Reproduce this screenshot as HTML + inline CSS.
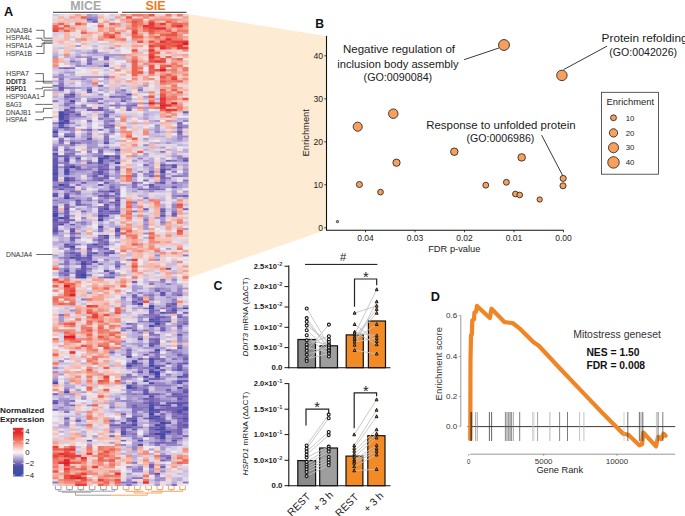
<!DOCTYPE html>
<html><head><meta charset="utf-8"><style>
html,body{margin:0;padding:0;background:#fff;overflow:hidden;}
svg{display:block;font-family:"Liberation Sans", sans-serif;}
</style></head><body>
<svg width="685" height="516" viewBox="0 0 685 516">
<defs><filter id="hb" x="0" y="0" width="1" height="1"><feGaussianBlur stdDeviation="0.45"/></filter></defs>
<rect width="685" height="516" fill="#fff"/>
<polygon points="188,14 325.8,36 325.8,230 188,278" fill="#FEEBD4"/>
<text x="315.3" y="27.6" font-size="12.4" fill="#111" font-weight="bold" textLength="8.8" lengthAdjust="spacingAndGlyphs">B</text>
<line x1="326.5" y1="35.8" x2="326.5" y2="230.2" stroke="#111" stroke-width="1.1"/>
<line x1="326" y1="230.2" x2="563.5" y2="230.2" stroke="#111" stroke-width="1.1"/>
<line x1="324.3" y1="227.8" x2="326.5" y2="227.8" stroke="#111" stroke-width="0.8"/>
<text x="323.1" y="231.0" font-size="8.5" fill="#222" text-anchor="end">0</text>
<line x1="324.3" y1="184.8" x2="326.5" y2="184.8" stroke="#111" stroke-width="0.8"/>
<text x="323.1" y="188.0" font-size="8.5" fill="#222" text-anchor="end" textLength="9.6" lengthAdjust="spacingAndGlyphs">10</text>
<line x1="324.3" y1="141.8" x2="326.5" y2="141.8" stroke="#111" stroke-width="0.8"/>
<text x="323.1" y="145.0" font-size="8.5" fill="#222" text-anchor="end" textLength="9.6" lengthAdjust="spacingAndGlyphs">20</text>
<line x1="324.3" y1="98.80000000000001" x2="326.5" y2="98.80000000000001" stroke="#111" stroke-width="0.8"/>
<text x="323.1" y="102.0" font-size="8.5" fill="#222" text-anchor="end" textLength="9.6" lengthAdjust="spacingAndGlyphs">30</text>
<line x1="324.3" y1="55.80000000000001" x2="326.5" y2="55.80000000000001" stroke="#111" stroke-width="0.8"/>
<text x="323.1" y="59.0" font-size="8.5" fill="#222" text-anchor="end" textLength="9.6" lengthAdjust="spacingAndGlyphs">40</text>
<line x1="365.5" y1="230.2" x2="365.5" y2="232.3" stroke="#111" stroke-width="0.8"/>
<text x="365.5" y="240.6" font-size="8.5" fill="#222" text-anchor="middle">0.04</text>
<line x1="415.0" y1="230.2" x2="415.0" y2="232.3" stroke="#111" stroke-width="0.8"/>
<text x="415.0" y="240.6" font-size="8.5" fill="#222" text-anchor="middle">0.03</text>
<line x1="464.5" y1="230.2" x2="464.5" y2="232.3" stroke="#111" stroke-width="0.8"/>
<text x="464.5" y="240.6" font-size="8.5" fill="#222" text-anchor="middle">0.02</text>
<line x1="514.0" y1="230.2" x2="514.0" y2="232.3" stroke="#111" stroke-width="0.8"/>
<text x="514.0" y="240.6" font-size="8.5" fill="#222" text-anchor="middle">0.01</text>
<line x1="563.5" y1="230.2" x2="563.5" y2="232.3" stroke="#111" stroke-width="0.8"/>
<text x="563.5" y="240.6" font-size="8.5" fill="#222" text-anchor="middle">0.00</text>
<text x="428.2" y="252" font-size="9.3" fill="#222" textLength="52.2" lengthAdjust="spacingAndGlyphs">FDR p-value</text>
<text transform="translate(309.2,156.4) rotate(-90)" font-size="9.4" fill="#222" textLength="47.3" lengthAdjust="spacingAndGlyphs">Enrichment</text>
<line x1="464.1" y1="59.7" x2="498.9" y2="48" stroke="#222" stroke-width="0.9"/>
<line x1="607.1" y1="46.1" x2="563.6" y2="69.6" stroke="#222" stroke-width="0.9"/>
<line x1="541.6" y1="135.1" x2="562.6" y2="175.4" stroke="#222" stroke-width="0.9"/>
<circle cx="357.7" cy="126.7" r="4.55" fill="#F7A05E" stroke="#222" stroke-width="0.85"/>
<circle cx="393.3" cy="113.7" r="4.75" fill="#F7A05E" stroke="#222" stroke-width="0.85"/>
<circle cx="396.5" cy="162.7" r="3.65" fill="#F7A05E" stroke="#222" stroke-width="0.85"/>
<circle cx="359.4" cy="184.5" r="3.05" fill="#F7A05E" stroke="#222" stroke-width="0.85"/>
<circle cx="380.5" cy="192.1" r="2.85" fill="#F7A05E" stroke="#222" stroke-width="0.85"/>
<circle cx="454.3" cy="151.7" r="3.75" fill="#F7A05E" stroke="#222" stroke-width="0.85"/>
<circle cx="521.7" cy="157.4" r="3.75" fill="#F7A05E" stroke="#222" stroke-width="0.85"/>
<circle cx="485.8" cy="185.2" r="2.95" fill="#F7A05E" stroke="#222" stroke-width="0.85"/>
<circle cx="506.4" cy="182.3" r="2.95" fill="#F7A05E" stroke="#222" stroke-width="0.85"/>
<circle cx="515.4" cy="194" r="2.85" fill="#F7A05E" stroke="#222" stroke-width="0.85"/>
<circle cx="519.7" cy="195" r="2.85" fill="#F7A05E" stroke="#222" stroke-width="0.85"/>
<circle cx="539.7" cy="199.5" r="2.65" fill="#F7A05E" stroke="#222" stroke-width="0.85"/>
<circle cx="563.2" cy="178.4" r="3.05" fill="#F7A05E" stroke="#222" stroke-width="0.85"/>
<circle cx="563" cy="185.8" r="3.05" fill="#F7A05E" stroke="#222" stroke-width="0.85"/>
<circle cx="504" cy="45" r="5.45" fill="#F7A05E" stroke="#222" stroke-width="0.85"/>
<circle cx="561.9" cy="75.4" r="5.25" fill="#F7A05E" stroke="#222" stroke-width="0.85"/>
<circle cx="337.5" cy="221.6" r="1.15" fill="#F7A05E" stroke="#222" stroke-width="0.85"/>
<text x="343" y="53.3" font-size="11.4" fill="#1a1a1a" textLength="112" lengthAdjust="spacingAndGlyphs">Negative regulation of</text>
<text x="337.3" y="67.5" font-size="11.4" fill="#1a1a1a" textLength="121.4" lengthAdjust="spacingAndGlyphs">inclusion body assembly</text>
<text x="363.6" y="81.4" font-size="11.4" fill="#1a1a1a" textLength="68.6" lengthAdjust="spacingAndGlyphs">(GO:0090084)</text>
<text x="601.6" y="41.8" font-size="11.4" fill="#1a1a1a" textLength="86" lengthAdjust="spacingAndGlyphs">Protein refolding</text>
<text x="609.3" y="55.6" font-size="11.4" fill="#1a1a1a" textLength="67.8" lengthAdjust="spacingAndGlyphs">(GO:0042026)</text>
<text x="426.2" y="129.3" font-size="11.4" fill="#1a1a1a" textLength="149.4" lengthAdjust="spacingAndGlyphs">Response to unfolded protein</text>
<text x="466.4" y="142.4" font-size="11.4" fill="#1a1a1a" textLength="68" lengthAdjust="spacingAndGlyphs">(GO:0006986)</text>
<rect x="601.5" y="92.3" width="57" height="81.9" fill="#fff" stroke="#333" stroke-width="0.8"/>
<text x="606.6" y="105" font-size="9.4" fill="#222" textLength="47.4" lengthAdjust="spacingAndGlyphs">Enrichment</text>
<circle cx="613.5" cy="117.8" r="2.95" fill="#F7A05E" stroke="#222" stroke-width="0.85"/>
<text x="625.7" y="120.5" font-size="7.8" fill="#222">10</text>
<circle cx="613.5" cy="132.9" r="4.15" fill="#F7A05E" stroke="#222" stroke-width="0.85"/>
<text x="625.7" y="135.6" font-size="7.8" fill="#222">20</text>
<circle cx="613.5" cy="147.7" r="5.05" fill="#F7A05E" stroke="#222" stroke-width="0.85"/>
<text x="625.7" y="150.4" font-size="7.8" fill="#222">30</text>
<circle cx="613.5" cy="162.4" r="5.75" fill="#F7A05E" stroke="#222" stroke-width="0.85"/>
<text x="625.7" y="165.1" font-size="7.8" fill="#222">40</text>
<g filter="url(#hb)"><rect x="52.6" y="14.0" width="135.60000000000002" height="471.70000000000005" fill="#d8c8d8"/>
<path fill="#3c44a5" d="M58.25 122.01h5.90v2.45h-5.90zM148.65 412.96h5.90v2.45h-5.90zM159.95 426.19h5.90v2.45h-5.90z"/>
<path fill="#3c44a5" d="M69.55 245.44h5.90v2.45h-5.90z"/>
<path fill="#3c44a5" d="M52.60 212.38h5.90v2.45h-5.90zM80.85 274.10h5.90v2.45h-5.90zM97.80 157.27h5.90v2.45h-5.90zM97.80 214.58h5.90v2.45h-5.90zM97.80 218.99h5.90v2.45h-5.90zM103.45 155.07h5.90v2.45h-5.90zM131.70 360.06h5.90v2.45h-5.90zM148.65 364.47h5.90v2.45h-5.90zM148.65 371.08h5.90v2.45h-5.90zM148.65 417.37h5.90v2.45h-5.90zM154.30 322.59h5.90v2.45h-5.90zM154.30 349.04h5.90v2.45h-5.90zM154.30 366.67h5.90v2.45h-5.90z"/>
<path fill="#3c44a5" d="M52.60 214.58h5.90v2.45h-5.90zM58.25 183.72h5.90v2.45h-5.90zM63.90 179.32h5.90v2.45h-5.90zM63.90 196.95h5.90v2.45h-5.90zM69.55 99.96h5.90v2.45h-5.90zM69.55 166.09h5.90v2.45h-5.90zM80.85 263.08h5.90v2.45h-5.90zM80.85 276.30h5.90v2.45h-5.90zM109.10 190.34h5.90v2.45h-5.90zM126.05 355.65h5.90v2.45h-5.90zM126.05 364.47h5.90v2.45h-5.90zM126.05 386.51h5.90v2.45h-5.90zM131.70 419.57h5.90v2.45h-5.90zM137.35 302.75h5.90v2.45h-5.90zM148.65 304.96h5.90v2.45h-5.90zM148.65 404.14h5.90v2.45h-5.90zM154.30 371.08h5.90v4.66h-5.90zM154.30 415.17h5.90v2.45h-5.90zM154.30 423.98h5.90v2.45h-5.90zM154.30 428.39h5.90v2.45h-5.90zM154.30 432.80h5.90v2.45h-5.90zM159.95 170.50h5.90v2.45h-5.90zM159.95 421.78h5.90v2.45h-5.90zM165.60 430.59h5.90v2.45h-5.90zM182.55 307.16h5.90v2.45h-5.90z"/>
<path fill="#4a4ba8" d="M52.60 130.82h5.90v2.45h-5.90zM52.60 168.29h5.90v2.45h-5.90zM52.60 172.70h5.90v2.45h-5.90zM52.60 382.10h5.90v2.45h-5.90zM58.25 110.99h5.90v9.07h-5.90zM58.25 126.41h5.90v2.45h-5.90zM58.25 216.79h5.90v2.45h-5.90zM58.25 223.40h5.90v2.45h-5.90zM63.90 113.19h5.90v2.45h-5.90zM63.90 119.80h5.90v2.45h-5.90zM63.90 135.23h5.90v2.45h-5.90zM63.90 168.29h5.90v4.66h-5.90zM63.90 177.11h5.90v2.45h-5.90zM63.90 390.92h5.90v2.45h-5.90zM69.55 93.35h5.90v2.45h-5.90zM69.55 256.46h5.90v2.45h-5.90zM75.20 276.30h5.90v2.45h-5.90zM92.15 243.24h5.90v2.45h-5.90zM97.80 159.48h5.90v2.45h-5.90zM97.80 225.60h5.90v2.45h-5.90zM103.45 207.97h5.90v2.45h-5.90zM103.45 234.42h5.90v2.45h-5.90zM114.75 148.46h5.90v2.45h-5.90zM114.75 161.68h5.90v2.45h-5.90zM114.75 199.15h5.90v2.45h-5.90zM126.05 93.35h5.90v2.45h-5.90zM126.05 384.31h5.90v2.45h-5.90zM131.70 362.26h5.90v2.45h-5.90zM131.70 423.98h5.90v2.45h-5.90zM137.35 439.41h5.90v2.45h-5.90zM143.00 375.49h5.90v2.45h-5.90zM143.00 379.90h5.90v2.45h-5.90zM148.65 307.16h5.90v2.45h-5.90zM148.65 318.18h5.90v2.45h-5.90zM148.65 324.79h5.90v2.45h-5.90zM148.65 357.86h5.90v2.45h-5.90zM148.65 382.10h5.90v2.45h-5.90zM148.65 395.33h5.90v2.45h-5.90zM148.65 406.35h5.90v4.66h-5.90zM154.30 375.49h5.90v2.45h-5.90zM159.95 168.29h5.90v2.45h-5.90zM159.95 404.14h5.90v2.45h-5.90zM159.95 428.39h5.90v2.45h-5.90zM159.95 432.80h5.90v6.86h-5.90zM171.25 309.36h5.90v2.45h-5.90zM176.90 375.49h5.90v2.45h-5.90zM176.90 386.51h5.90v2.45h-5.90zM176.90 410.76h5.90v2.45h-5.90zM182.55 406.35h5.90v4.66h-5.90zM182.55 417.37h5.90v2.45h-5.90z"/>
<path fill="#5852ac" d="M52.60 135.23h5.90v2.45h-5.90zM52.60 152.86h5.90v2.45h-5.90zM52.60 166.09h5.90v2.45h-5.90zM52.60 170.50h5.90v2.45h-5.90zM52.60 177.11h5.90v4.66h-5.90zM52.60 194.74h5.90v2.45h-5.90zM52.60 205.77h5.90v2.45h-5.90zM52.60 210.17h5.90v2.45h-5.90zM52.60 218.99h5.90v2.45h-5.90zM52.60 230.01h5.90v2.45h-5.90zM52.60 401.94h5.90v2.45h-5.90zM58.25 124.21h5.90v2.45h-5.90zM58.25 188.13h5.90v2.45h-5.90zM63.90 122.01h5.90v2.45h-5.90zM63.90 157.27h5.90v4.66h-5.90zM63.90 172.70h5.90v2.45h-5.90zM63.90 194.74h5.90v2.45h-5.90zM63.90 207.97h5.90v2.45h-5.90zM63.90 216.79h5.90v2.45h-5.90zM63.90 243.24h5.90v2.45h-5.90zM63.90 269.69h5.90v2.45h-5.90zM63.90 417.37h5.90v2.45h-5.90zM69.55 230.01h5.90v2.45h-5.90zM75.20 113.19h5.90v2.45h-5.90zM75.20 157.27h5.90v2.45h-5.90zM75.20 199.15h5.90v2.45h-5.90zM75.20 254.26h5.90v2.45h-5.90zM75.20 274.10h5.90v2.45h-5.90zM80.85 260.87h5.90v2.45h-5.90zM80.85 271.89h5.90v2.45h-5.90zM86.50 18.41h5.90v2.45h-5.90zM86.50 88.94h5.90v2.45h-5.90zM86.50 137.44h5.90v2.45h-5.90zM86.50 254.26h5.90v2.45h-5.90zM92.15 252.05h5.90v2.45h-5.90zM92.15 260.87h5.90v2.45h-5.90zM97.80 161.68h5.90v2.45h-5.90zM97.80 170.50h5.90v2.45h-5.90zM97.80 210.17h5.90v2.45h-5.90zM103.45 64.70h5.90v2.45h-5.90zM103.45 141.84h5.90v2.45h-5.90zM103.45 157.27h5.90v2.45h-5.90zM103.45 214.58h5.90v2.45h-5.90zM103.45 236.62h5.90v2.45h-5.90zM103.45 252.05h5.90v2.45h-5.90zM103.45 269.69h5.90v2.45h-5.90zM109.10 210.17h5.90v2.45h-5.90zM109.10 271.89h5.90v2.45h-5.90zM114.75 210.17h5.90v2.45h-5.90zM114.75 227.81h5.90v4.66h-5.90zM120.40 430.59h5.90v4.66h-5.90zM131.70 481.29h5.90v2.45h-5.90zM137.35 338.02h5.90v2.45h-5.90zM137.35 443.82h5.90v2.45h-5.90zM143.00 393.12h5.90v2.45h-5.90zM148.65 320.38h5.90v2.45h-5.90zM148.65 344.63h5.90v2.45h-5.90zM148.65 360.06h5.90v4.66h-5.90zM148.65 401.94h5.90v2.45h-5.90zM148.65 410.76h5.90v2.45h-5.90zM148.65 415.17h5.90v2.45h-5.90zM154.30 320.38h5.90v2.45h-5.90zM154.30 408.55h5.90v2.45h-5.90zM154.30 417.37h5.90v2.45h-5.90zM154.30 472.47h5.90v2.45h-5.90zM159.95 181.52h5.90v2.45h-5.90zM159.95 210.17h5.90v2.45h-5.90zM159.95 214.58h5.90v2.45h-5.90zM159.95 291.73h5.90v2.45h-5.90zM159.95 311.57h5.90v2.45h-5.90zM159.95 430.59h5.90v2.45h-5.90zM165.60 320.38h5.90v2.45h-5.90zM165.60 362.26h5.90v2.45h-5.90zM165.60 404.14h5.90v2.45h-5.90zM165.60 421.78h5.90v2.45h-5.90zM171.25 163.89h5.90v2.45h-5.90zM171.25 212.38h5.90v2.45h-5.90zM171.25 401.94h5.90v2.45h-5.90zM171.25 439.41h5.90v2.45h-5.90zM176.90 368.88h5.90v2.45h-5.90zM176.90 379.90h5.90v4.66h-5.90zM176.90 397.53h5.90v2.45h-5.90zM176.90 401.94h5.90v4.66h-5.90zM176.90 408.55h5.90v2.45h-5.90zM182.55 362.26h5.90v2.45h-5.90zM182.55 390.92h5.90v2.45h-5.90zM182.55 401.94h5.90v2.45h-5.90zM182.55 423.98h5.90v2.45h-5.90z"/>
<path fill="#6659af" d="M52.60 157.27h5.90v9.07h-5.90zM52.60 174.91h5.90v2.45h-5.90zM52.60 192.54h5.90v2.45h-5.90zM52.60 221.20h5.90v2.45h-5.90zM52.60 227.81h5.90v2.45h-5.90zM58.25 86.74h5.90v2.45h-5.90zM63.90 95.56h5.90v2.45h-5.90zM63.90 108.78h5.90v2.45h-5.90zM63.90 126.41h5.90v2.45h-5.90zM63.90 155.07h5.90v2.45h-5.90zM63.90 166.09h5.90v2.45h-5.90zM63.90 214.58h5.90v2.45h-5.90zM63.90 221.20h5.90v2.45h-5.90zM63.90 245.44h5.90v2.45h-5.90zM69.55 106.58h5.90v2.45h-5.90zM69.55 110.99h5.90v2.45h-5.90zM69.55 135.23h5.90v2.45h-5.90zM69.55 141.84h5.90v2.45h-5.90zM69.55 179.32h5.90v2.45h-5.90zM69.55 185.93h5.90v2.45h-5.90zM69.55 223.40h5.90v2.45h-5.90zM69.55 236.62h5.90v2.45h-5.90zM69.55 252.05h5.90v2.45h-5.90zM75.20 203.56h5.90v2.45h-5.90zM75.20 256.46h5.90v4.66h-5.90zM75.20 269.69h5.90v4.66h-5.90zM75.20 419.57h5.90v2.45h-5.90zM80.85 265.28h5.90v6.86h-5.90zM86.50 247.65h5.90v2.45h-5.90zM86.50 256.46h5.90v2.45h-5.90zM86.50 439.41h5.90v2.45h-5.90zM92.15 20.61h5.90v2.45h-5.90zM92.15 174.91h5.90v2.45h-5.90zM97.80 108.78h5.90v2.45h-5.90zM97.80 168.29h5.90v2.45h-5.90zM97.80 172.70h5.90v2.45h-5.90zM97.80 179.32h5.90v2.45h-5.90zM97.80 183.72h5.90v2.45h-5.90zM103.45 168.29h5.90v2.45h-5.90zM103.45 174.91h5.90v2.45h-5.90zM103.45 181.52h5.90v2.45h-5.90zM103.45 194.74h5.90v2.45h-5.90zM103.45 203.56h5.90v2.45h-5.90zM103.45 243.24h5.90v2.45h-5.90zM103.45 247.65h5.90v2.45h-5.90zM109.10 124.21h5.90v2.45h-5.90zM109.10 252.05h5.90v2.45h-5.90zM109.10 276.30h5.90v2.45h-5.90zM114.75 155.07h5.90v4.66h-5.90zM114.75 168.29h5.90v2.45h-5.90zM114.75 203.56h5.90v2.45h-5.90zM114.75 265.28h5.90v2.45h-5.90zM120.40 421.78h5.90v2.45h-5.90zM120.40 426.19h5.90v2.45h-5.90zM126.05 417.37h5.90v2.45h-5.90zM126.05 426.19h5.90v2.45h-5.90zM131.70 300.55h5.90v2.45h-5.90zM131.70 329.20h5.90v2.45h-5.90zM131.70 386.51h5.90v2.45h-5.90zM131.70 404.14h5.90v2.45h-5.90zM131.70 417.37h5.90v2.45h-5.90zM131.70 428.39h5.90v2.45h-5.90zM137.35 298.34h5.90v2.45h-5.90zM137.35 371.08h5.90v2.45h-5.90zM143.00 207.97h5.90v2.45h-5.90zM143.00 388.71h5.90v4.66h-5.90zM143.00 397.53h5.90v2.45h-5.90zM143.00 435.00h5.90v2.45h-5.90zM148.65 183.72h5.90v2.45h-5.90zM148.65 342.43h5.90v2.45h-5.90zM148.65 368.88h5.90v2.45h-5.90zM148.65 426.19h5.90v2.45h-5.90zM154.30 315.98h5.90v4.66h-5.90zM154.30 410.76h5.90v2.45h-5.90zM154.30 419.57h5.90v2.45h-5.90zM159.95 163.89h5.90v2.45h-5.90zM159.95 293.93h5.90v2.45h-5.90zM159.95 315.98h5.90v2.45h-5.90zM159.95 329.20h5.90v2.45h-5.90zM159.95 408.55h5.90v2.45h-5.90zM159.95 423.98h5.90v2.45h-5.90zM165.60 267.48h5.90v2.45h-5.90zM165.60 304.96h5.90v2.45h-5.90zM165.60 401.94h5.90v2.45h-5.90zM171.25 166.09h5.90v2.45h-5.90zM171.25 185.93h5.90v2.45h-5.90zM171.25 302.75h5.90v2.45h-5.90zM171.25 307.16h5.90v2.45h-5.90zM171.25 393.12h5.90v2.45h-5.90zM176.90 126.41h5.90v2.45h-5.90zM176.90 333.61h5.90v2.45h-5.90zM176.90 353.45h5.90v2.45h-5.90zM176.90 364.47h5.90v4.66h-5.90zM176.90 395.33h5.90v2.45h-5.90zM176.90 406.35h5.90v2.45h-5.90zM176.90 417.37h5.90v2.45h-5.90zM176.90 428.39h5.90v2.45h-5.90zM182.55 110.99h5.90v2.45h-5.90zM182.55 159.48h5.90v2.45h-5.90zM182.55 373.29h5.90v4.66h-5.90zM182.55 379.90h5.90v2.45h-5.90zM182.55 395.33h5.90v2.45h-5.90zM182.55 412.96h5.90v2.45h-5.90zM182.55 419.57h5.90v2.45h-5.90zM182.55 426.19h5.90v2.45h-5.90z"/>
<path fill="#7460b2" d="M52.60 148.46h5.90v2.45h-5.90zM52.60 155.07h5.90v2.45h-5.90zM52.60 185.93h5.90v2.45h-5.90zM52.60 207.97h5.90v2.45h-5.90zM52.60 216.79h5.90v2.45h-5.90zM52.60 223.40h5.90v4.66h-5.90zM52.60 232.22h5.90v2.45h-5.90zM52.60 393.12h5.90v2.45h-5.90zM52.60 399.74h5.90v2.45h-5.90zM52.60 408.55h5.90v2.45h-5.90zM58.25 88.94h5.90v2.45h-5.90zM58.25 119.80h5.90v2.45h-5.90zM58.25 139.64h5.90v2.45h-5.90zM58.25 155.07h5.90v2.45h-5.90zM58.25 221.20h5.90v2.45h-5.90zM63.90 66.90h5.90v2.45h-5.90zM63.90 110.99h5.90v2.45h-5.90zM63.90 115.39h5.90v4.66h-5.90zM63.90 148.46h5.90v2.45h-5.90zM63.90 183.72h5.90v4.66h-5.90zM63.90 192.54h5.90v2.45h-5.90zM63.90 203.56h5.90v4.66h-5.90zM63.90 210.17h5.90v4.66h-5.90zM63.90 218.99h5.90v2.45h-5.90zM63.90 274.10h5.90v2.45h-5.90zM69.55 95.56h5.90v2.45h-5.90zM69.55 163.89h5.90v2.45h-5.90zM69.55 177.11h5.90v2.45h-5.90zM69.55 190.34h5.90v2.45h-5.90zM69.55 218.99h5.90v2.45h-5.90zM69.55 227.81h5.90v2.45h-5.90zM69.55 232.22h5.90v2.45h-5.90zM69.55 238.83h5.90v2.45h-5.90zM69.55 247.65h5.90v2.45h-5.90zM69.55 404.14h5.90v2.45h-5.90zM75.20 166.09h5.90v4.66h-5.90zM75.20 201.36h5.90v2.45h-5.90zM75.20 252.05h5.90v2.45h-5.90zM80.85 181.52h5.90v2.45h-5.90zM80.85 210.17h5.90v2.45h-5.90zM80.85 256.46h5.90v2.45h-5.90zM86.50 62.49h5.90v2.45h-5.90zM86.50 91.15h5.90v2.45h-5.90zM86.50 108.78h5.90v2.45h-5.90zM86.50 128.62h5.90v2.45h-5.90zM86.50 161.68h5.90v2.45h-5.90zM86.50 252.05h5.90v2.45h-5.90zM86.50 258.67h5.90v2.45h-5.90zM86.50 263.08h5.90v2.45h-5.90zM92.15 108.78h5.90v2.45h-5.90zM97.80 84.53h5.90v2.45h-5.90zM97.80 102.17h5.90v2.45h-5.90zM97.80 106.58h5.90v2.45h-5.90zM97.80 150.66h5.90v2.45h-5.90zM97.80 166.09h5.90v2.45h-5.90zM97.80 177.11h5.90v2.45h-5.90zM97.80 190.34h5.90v2.45h-5.90zM97.80 194.74h5.90v2.45h-5.90zM97.80 201.36h5.90v2.45h-5.90zM97.80 207.97h5.90v2.45h-5.90zM97.80 212.38h5.90v2.45h-5.90zM97.80 216.79h5.90v2.45h-5.90zM97.80 234.42h5.90v2.45h-5.90zM97.80 238.83h5.90v2.45h-5.90zM97.80 245.44h5.90v2.45h-5.90zM103.45 55.88h5.90v4.66h-5.90zM103.45 113.19h5.90v4.66h-5.90zM103.45 126.41h5.90v2.45h-5.90zM103.45 163.89h5.90v2.45h-5.90zM103.45 177.11h5.90v2.45h-5.90zM103.45 190.34h5.90v2.45h-5.90zM103.45 205.77h5.90v2.45h-5.90zM103.45 241.03h5.90v2.45h-5.90zM103.45 276.30h5.90v2.45h-5.90zM109.10 95.56h5.90v2.45h-5.90zM109.10 155.07h5.90v2.45h-5.90zM109.10 159.48h5.90v2.45h-5.90zM109.10 185.93h5.90v2.45h-5.90zM109.10 201.36h5.90v2.45h-5.90zM109.10 212.38h5.90v2.45h-5.90zM109.10 351.24h5.90v2.45h-5.90zM109.10 419.57h5.90v2.45h-5.90zM109.10 423.98h5.90v2.45h-5.90zM109.10 435.00h5.90v2.45h-5.90zM114.75 166.09h5.90v2.45h-5.90zM114.75 192.54h5.90v2.45h-5.90zM114.75 196.95h5.90v2.45h-5.90zM114.75 201.36h5.90v2.45h-5.90zM114.75 212.38h5.90v2.45h-5.90zM114.75 234.42h5.90v2.45h-5.90zM114.75 423.98h5.90v2.45h-5.90zM120.40 99.96h5.90v2.45h-5.90zM120.40 412.96h5.90v2.45h-5.90zM120.40 428.39h5.90v2.45h-5.90zM120.40 439.41h5.90v2.45h-5.90zM126.05 108.78h5.90v2.45h-5.90zM126.05 322.59h5.90v2.45h-5.90zM126.05 327.00h5.90v2.45h-5.90zM126.05 349.04h5.90v2.45h-5.90zM126.05 362.26h5.90v2.45h-5.90zM126.05 419.57h5.90v2.45h-5.90zM126.05 423.98h5.90v2.45h-5.90zM131.70 104.37h5.90v2.45h-5.90zM131.70 181.52h5.90v2.45h-5.90zM131.70 280.71h5.90v2.45h-5.90zM131.70 293.93h5.90v4.66h-5.90zM131.70 382.10h5.90v2.45h-5.90zM131.70 406.35h5.90v2.45h-5.90zM131.70 415.17h5.90v2.45h-5.90zM131.70 421.78h5.90v2.45h-5.90zM137.35 188.13h5.90v2.45h-5.90zM137.35 357.86h5.90v2.45h-5.90zM137.35 362.26h5.90v2.45h-5.90zM143.00 163.89h5.90v2.45h-5.90zM143.00 179.32h5.90v2.45h-5.90zM143.00 353.45h5.90v2.45h-5.90zM143.00 384.31h5.90v2.45h-5.90zM143.00 401.94h5.90v2.45h-5.90zM143.00 417.37h5.90v2.45h-5.90zM148.65 170.50h5.90v2.45h-5.90zM148.65 174.91h5.90v2.45h-5.90zM148.65 185.93h5.90v2.45h-5.90zM148.65 309.36h5.90v4.66h-5.90zM148.65 338.02h5.90v2.45h-5.90zM148.65 351.24h5.90v2.45h-5.90zM148.65 377.69h5.90v2.45h-5.90zM148.65 393.12h5.90v2.45h-5.90zM148.65 397.53h5.90v4.66h-5.90zM148.65 428.39h5.90v2.45h-5.90zM148.65 432.80h5.90v2.45h-5.90zM148.65 463.66h5.90v4.66h-5.90zM154.30 188.13h5.90v2.45h-5.90zM154.30 289.53h5.90v2.45h-5.90zM154.30 338.02h5.90v6.86h-5.90zM154.30 351.24h5.90v2.45h-5.90zM154.30 357.86h5.90v2.45h-5.90zM154.30 364.47h5.90v2.45h-5.90zM154.30 377.69h5.90v2.45h-5.90zM154.30 393.12h5.90v2.45h-5.90zM154.30 401.94h5.90v4.66h-5.90zM154.30 426.19h5.90v2.45h-5.90zM154.30 441.62h5.90v2.45h-5.90zM159.95 174.91h5.90v4.66h-5.90zM159.95 207.97h5.90v2.45h-5.90zM159.95 320.38h5.90v2.45h-5.90zM159.95 327.00h5.90v2.45h-5.90zM159.95 364.47h5.90v2.45h-5.90zM159.95 368.88h5.90v2.45h-5.90zM159.95 412.96h5.90v2.45h-5.90zM159.95 417.37h5.90v4.66h-5.90zM159.95 441.62h5.90v2.45h-5.90zM159.95 459.25h5.90v2.45h-5.90zM159.95 465.86h5.90v2.45h-5.90zM165.60 159.48h5.90v2.45h-5.90zM165.60 168.29h5.90v2.45h-5.90zM165.60 311.57h5.90v2.45h-5.90zM165.60 349.04h5.90v2.45h-5.90zM165.60 388.71h5.90v2.45h-5.90zM165.60 406.35h5.90v4.66h-5.90zM165.60 457.05h5.90v2.45h-5.90zM171.25 181.52h5.90v2.45h-5.90zM171.25 214.58h5.90v2.45h-5.90zM171.25 311.57h5.90v2.45h-5.90zM171.25 395.33h5.90v2.45h-5.90zM171.25 406.35h5.90v6.86h-5.90zM171.25 415.17h5.90v2.45h-5.90zM176.90 122.01h5.90v2.45h-5.90zM176.90 130.82h5.90v2.45h-5.90zM176.90 293.93h5.90v2.45h-5.90zM176.90 315.98h5.90v2.45h-5.90zM176.90 324.79h5.90v2.45h-5.90zM176.90 346.84h5.90v2.45h-5.90zM176.90 362.26h5.90v2.45h-5.90zM176.90 393.12h5.90v2.45h-5.90zM176.90 412.96h5.90v2.45h-5.90zM176.90 421.78h5.90v6.86h-5.90zM176.90 430.59h5.90v4.66h-5.90zM176.90 437.21h5.90v2.45h-5.90zM182.55 157.27h5.90v2.45h-5.90zM182.55 194.74h5.90v2.45h-5.90zM182.55 207.97h5.90v2.45h-5.90zM182.55 311.57h5.90v2.45h-5.90zM182.55 322.59h5.90v2.45h-5.90zM182.55 357.86h5.90v2.45h-5.90zM182.55 388.71h5.90v2.45h-5.90zM182.55 415.17h5.90v2.45h-5.90zM182.55 435.00h5.90v2.45h-5.90z"/>
<path fill="#8673bc" d="M52.60 84.53h5.90v2.45h-5.90zM52.60 99.96h5.90v2.45h-5.90zM52.60 122.01h5.90v2.45h-5.90zM52.60 128.62h5.90v2.45h-5.90zM52.60 133.03h5.90v2.45h-5.90zM52.60 146.25h5.90v2.45h-5.90zM52.60 199.15h5.90v2.45h-5.90zM52.60 379.90h5.90v2.45h-5.90zM52.60 481.29h5.90v2.45h-5.90zM58.25 66.90h5.90v2.45h-5.90zM58.25 77.92h5.90v2.45h-5.90zM58.25 82.33h5.90v4.66h-5.90zM58.25 137.44h5.90v2.45h-5.90zM58.25 141.84h5.90v2.45h-5.90zM58.25 185.93h5.90v2.45h-5.90zM58.25 271.89h5.90v2.45h-5.90zM58.25 313.77h5.90v2.45h-5.90zM63.90 93.35h5.90v2.45h-5.90zM63.90 102.17h5.90v4.66h-5.90zM63.90 128.62h5.90v2.45h-5.90zM63.90 133.03h5.90v2.45h-5.90zM63.90 152.86h5.90v2.45h-5.90zM63.90 161.68h5.90v4.66h-5.90zM63.90 181.52h5.90v2.45h-5.90zM63.90 252.05h5.90v2.45h-5.90zM63.90 256.46h5.90v2.45h-5.90zM63.90 260.87h5.90v4.66h-5.90zM63.90 267.48h5.90v2.45h-5.90zM63.90 271.89h5.90v2.45h-5.90zM63.90 388.71h5.90v2.45h-5.90zM63.90 410.76h5.90v2.45h-5.90zM69.55 60.29h5.90v2.45h-5.90zM69.55 66.90h5.90v2.45h-5.90zM69.55 102.17h5.90v2.45h-5.90zM69.55 133.03h5.90v2.45h-5.90zM69.55 144.05h5.90v2.45h-5.90zM69.55 152.86h5.90v2.45h-5.90zM69.55 196.95h5.90v2.45h-5.90zM69.55 243.24h5.90v2.45h-5.90zM69.55 254.26h5.90v2.45h-5.90zM69.55 399.74h5.90v2.45h-5.90zM75.20 115.39h5.90v2.45h-5.90zM75.20 141.84h5.90v2.45h-5.90zM75.20 183.72h5.90v2.45h-5.90zM75.20 190.34h5.90v4.66h-5.90zM75.20 232.22h5.90v2.45h-5.90zM75.20 236.62h5.90v2.45h-5.90zM75.20 243.24h5.90v2.45h-5.90zM80.85 104.37h5.90v2.45h-5.90zM80.85 168.29h5.90v2.45h-5.90zM80.85 203.56h5.90v2.45h-5.90zM80.85 221.20h5.90v2.45h-5.90zM80.85 258.67h5.90v2.45h-5.90zM80.85 298.34h5.90v2.45h-5.90zM86.50 58.08h5.90v4.66h-5.90zM86.50 99.96h5.90v2.45h-5.90zM86.50 119.80h5.90v2.45h-5.90zM86.50 133.03h5.90v2.45h-5.90zM86.50 150.66h5.90v2.45h-5.90zM86.50 168.29h5.90v2.45h-5.90zM86.50 199.15h5.90v2.45h-5.90zM86.50 243.24h5.90v4.66h-5.90zM86.50 249.85h5.90v2.45h-5.90zM86.50 260.87h5.90v2.45h-5.90zM86.50 267.48h5.90v2.45h-5.90zM86.50 274.10h5.90v2.45h-5.90zM92.15 18.41h5.90v2.45h-5.90zM92.15 99.96h5.90v2.45h-5.90zM92.15 170.50h5.90v4.66h-5.90zM92.15 177.11h5.90v4.66h-5.90zM92.15 245.44h5.90v2.45h-5.90zM97.80 97.76h5.90v2.45h-5.90zM97.80 117.60h5.90v2.45h-5.90zM97.80 128.62h5.90v2.45h-5.90zM97.80 148.46h5.90v2.45h-5.90zM97.80 155.07h5.90v2.45h-5.90zM97.80 163.89h5.90v2.45h-5.90zM97.80 199.15h5.90v2.45h-5.90zM97.80 205.77h5.90v2.45h-5.90zM97.80 227.81h5.90v4.66h-5.90zM97.80 236.62h5.90v2.45h-5.90zM97.80 241.03h5.90v4.66h-5.90zM97.80 263.08h5.90v2.45h-5.90zM103.45 75.72h5.90v2.45h-5.90zM103.45 124.21h5.90v2.45h-5.90zM103.45 135.23h5.90v6.86h-5.90zM103.45 146.25h5.90v2.45h-5.90zM103.45 166.09h5.90v2.45h-5.90zM103.45 172.70h5.90v2.45h-5.90zM103.45 192.54h5.90v2.45h-5.90zM103.45 196.95h5.90v2.45h-5.90zM103.45 210.17h5.90v4.66h-5.90zM103.45 254.26h5.90v2.45h-5.90zM109.10 104.37h5.90v2.45h-5.90zM109.10 110.99h5.90v2.45h-5.90zM109.10 119.80h5.90v2.45h-5.90zM109.10 126.41h5.90v2.45h-5.90zM109.10 130.82h5.90v2.45h-5.90zM109.10 188.13h5.90v2.45h-5.90zM109.10 194.74h5.90v2.45h-5.90zM109.10 249.85h5.90v2.45h-5.90zM109.10 406.35h5.90v2.45h-5.90zM109.10 430.59h5.90v2.45h-5.90zM114.75 95.56h5.90v2.45h-5.90zM114.75 104.37h5.90v2.45h-5.90zM114.75 188.13h5.90v4.66h-5.90zM114.75 205.77h5.90v4.66h-5.90zM114.75 232.22h5.90v2.45h-5.90zM114.75 263.08h5.90v2.45h-5.90zM120.40 88.94h5.90v2.45h-5.90zM120.40 95.56h5.90v2.45h-5.90zM120.40 296.14h5.90v2.45h-5.90zM120.40 329.20h5.90v2.45h-5.90zM120.40 423.98h5.90v2.45h-5.90zM120.40 481.29h5.90v2.45h-5.90zM126.05 104.37h5.90v4.66h-5.90zM126.05 351.24h5.90v4.66h-5.90zM126.05 366.67h5.90v2.45h-5.90zM126.05 373.29h5.90v4.66h-5.90zM126.05 483.50h5.90v2.45h-5.90zM131.70 174.91h5.90v2.45h-5.90zM131.70 183.72h5.90v4.66h-5.90zM131.70 201.36h5.90v2.45h-5.90zM131.70 210.17h5.90v2.45h-5.90zM131.70 302.75h5.90v2.45h-5.90zM131.70 364.47h5.90v2.45h-5.90zM131.70 384.31h5.90v2.45h-5.90zM131.70 388.71h5.90v2.45h-5.90zM131.70 393.12h5.90v2.45h-5.90zM131.70 408.55h5.90v4.66h-5.90zM131.70 426.19h5.90v2.45h-5.90zM131.70 432.80h5.90v2.45h-5.90zM131.70 437.21h5.90v2.45h-5.90zM131.70 461.45h5.90v2.45h-5.90zM131.70 476.88h5.90v2.45h-5.90zM137.35 88.94h5.90v2.45h-5.90zM137.35 296.14h5.90v2.45h-5.90zM137.35 320.38h5.90v2.45h-5.90zM137.35 331.41h5.90v2.45h-5.90zM137.35 406.35h5.90v4.66h-5.90zM137.35 415.17h5.90v2.45h-5.90zM137.35 426.19h5.90v2.45h-5.90zM137.35 468.07h5.90v2.45h-5.90zM137.35 476.88h5.90v2.45h-5.90zM143.00 188.13h5.90v2.45h-5.90zM143.00 196.95h5.90v2.45h-5.90zM143.00 218.99h5.90v2.45h-5.90zM143.00 307.16h5.90v2.45h-5.90zM143.00 329.20h5.90v2.45h-5.90zM143.00 366.67h5.90v2.45h-5.90zM143.00 406.35h5.90v2.45h-5.90zM148.65 188.13h5.90v2.45h-5.90zM148.65 282.91h5.90v2.45h-5.90zM148.65 293.93h5.90v2.45h-5.90zM148.65 298.34h5.90v2.45h-5.90zM148.65 313.77h5.90v4.66h-5.90zM148.65 331.41h5.90v4.66h-5.90zM148.65 340.22h5.90v2.45h-5.90zM148.65 366.67h5.90v2.45h-5.90zM148.65 373.29h5.90v2.45h-5.90zM148.65 419.57h5.90v2.45h-5.90zM148.65 430.59h5.90v2.45h-5.90zM148.65 435.00h5.90v2.45h-5.90zM154.30 181.52h5.90v2.45h-5.90zM154.30 185.93h5.90v2.45h-5.90zM154.30 287.32h5.90v2.45h-5.90zM154.30 309.36h5.90v2.45h-5.90zM154.30 313.77h5.90v2.45h-5.90zM154.30 324.79h5.90v2.45h-5.90zM154.30 333.61h5.90v2.45h-5.90zM154.30 353.45h5.90v4.66h-5.90zM154.30 384.31h5.90v2.45h-5.90zM154.30 397.53h5.90v4.66h-5.90zM154.30 430.59h5.90v2.45h-5.90zM154.30 435.00h5.90v4.66h-5.90zM154.30 443.82h5.90v2.45h-5.90zM159.95 150.66h5.90v2.45h-5.90zM159.95 166.09h5.90v2.45h-5.90zM159.95 172.70h5.90v2.45h-5.90zM159.95 179.32h5.90v2.45h-5.90zM159.95 188.13h5.90v2.45h-5.90zM159.95 212.38h5.90v2.45h-5.90zM159.95 221.20h5.90v2.45h-5.90zM159.95 278.50h5.90v2.45h-5.90zM159.95 307.16h5.90v2.45h-5.90zM159.95 322.59h5.90v2.45h-5.90zM159.95 357.86h5.90v4.66h-5.90zM159.95 384.31h5.90v2.45h-5.90zM159.95 406.35h5.90v2.45h-5.90zM159.95 415.17h5.90v2.45h-5.90zM159.95 439.41h5.90v2.45h-5.90zM159.95 454.84h5.90v2.45h-5.90zM165.60 163.89h5.90v2.45h-5.90zM165.60 177.11h5.90v2.45h-5.90zM165.60 282.91h5.90v2.45h-5.90zM165.60 302.75h5.90v2.45h-5.90zM165.60 309.36h5.90v2.45h-5.90zM165.60 315.98h5.90v2.45h-5.90zM165.60 373.29h5.90v2.45h-5.90zM165.60 384.31h5.90v2.45h-5.90zM165.60 395.33h5.90v2.45h-5.90zM165.60 428.39h5.90v2.45h-5.90zM165.60 432.80h5.90v2.45h-5.90zM165.60 441.62h5.90v2.45h-5.90zM165.60 454.84h5.90v2.45h-5.90zM171.25 159.48h5.90v2.45h-5.90zM171.25 170.50h5.90v2.45h-5.90zM171.25 174.91h5.90v2.45h-5.90zM171.25 210.17h5.90v2.45h-5.90zM171.25 298.34h5.90v2.45h-5.90zM171.25 304.96h5.90v2.45h-5.90zM171.25 357.86h5.90v2.45h-5.90zM171.25 368.88h5.90v2.45h-5.90zM171.25 412.96h5.90v2.45h-5.90zM171.25 417.37h5.90v2.45h-5.90zM171.25 428.39h5.90v4.66h-5.90zM171.25 437.21h5.90v2.45h-5.90zM171.25 441.62h5.90v2.45h-5.90zM171.25 483.50h5.90v2.45h-5.90zM176.90 124.21h5.90v2.45h-5.90zM176.90 133.03h5.90v2.45h-5.90zM176.90 174.91h5.90v2.45h-5.90zM176.90 194.74h5.90v2.45h-5.90zM176.90 313.77h5.90v2.45h-5.90zM176.90 327.00h5.90v2.45h-5.90zM176.90 344.63h5.90v2.45h-5.90zM176.90 399.74h5.90v2.45h-5.90zM176.90 415.17h5.90v2.45h-5.90zM176.90 419.57h5.90v2.45h-5.90zM182.55 179.32h5.90v2.45h-5.90zM182.55 254.26h5.90v2.45h-5.90zM182.55 320.38h5.90v2.45h-5.90zM182.55 355.65h5.90v2.45h-5.90zM182.55 393.12h5.90v2.45h-5.90zM182.55 397.53h5.90v4.66h-5.90zM182.55 404.14h5.90v2.45h-5.90zM182.55 410.76h5.90v2.45h-5.90zM182.55 421.78h5.90v2.45h-5.90zM182.55 481.29h5.90v2.45h-5.90z"/>
<path fill="#9786c6" d="M52.60 126.41h5.90v2.45h-5.90zM52.60 181.52h5.90v4.66h-5.90zM52.60 188.13h5.90v2.45h-5.90zM52.60 366.67h5.90v2.45h-5.90zM52.60 371.08h5.90v2.45h-5.90zM58.25 73.51h5.90v4.66h-5.90zM58.25 80.13h5.90v2.45h-5.90zM58.25 161.68h5.90v2.45h-5.90zM58.25 166.09h5.90v2.45h-5.90zM58.25 181.52h5.90v2.45h-5.90zM58.25 201.36h5.90v2.45h-5.90zM58.25 212.38h5.90v2.45h-5.90zM58.25 230.01h5.90v2.45h-5.90zM58.25 256.46h5.90v2.45h-5.90zM58.25 263.08h5.90v2.45h-5.90zM58.25 274.10h5.90v2.45h-5.90zM58.25 360.06h5.90v2.45h-5.90zM58.25 406.35h5.90v2.45h-5.90zM63.90 86.74h5.90v2.45h-5.90zM63.90 97.76h5.90v2.45h-5.90zM63.90 146.25h5.90v2.45h-5.90zM63.90 188.13h5.90v2.45h-5.90zM63.90 254.26h5.90v2.45h-5.90zM63.90 258.67h5.90v2.45h-5.90zM63.90 399.74h5.90v6.86h-5.90zM63.90 421.78h5.90v4.66h-5.90zM69.55 86.74h5.90v2.45h-5.90zM69.55 91.15h5.90v2.45h-5.90zM69.55 108.78h5.90v2.45h-5.90zM69.55 113.19h5.90v4.66h-5.90zM69.55 122.01h5.90v2.45h-5.90zM69.55 126.41h5.90v4.66h-5.90zM69.55 139.64h5.90v2.45h-5.90zM69.55 148.46h5.90v4.66h-5.90zM69.55 155.07h5.90v2.45h-5.90zM69.55 170.50h5.90v2.45h-5.90zM69.55 188.13h5.90v2.45h-5.90zM69.55 234.42h5.90v2.45h-5.90zM69.55 241.03h5.90v2.45h-5.90zM69.55 249.85h5.90v2.45h-5.90zM69.55 309.36h5.90v2.45h-5.90zM75.20 55.88h5.90v2.45h-5.90zM75.20 64.70h5.90v2.45h-5.90zM75.20 155.07h5.90v2.45h-5.90zM75.20 159.48h5.90v2.45h-5.90zM75.20 179.32h5.90v2.45h-5.90zM75.20 221.20h5.90v2.45h-5.90zM75.20 247.65h5.90v2.45h-5.90zM75.20 263.08h5.90v2.45h-5.90zM75.20 267.48h5.90v2.45h-5.90zM80.85 77.92h5.90v2.45h-5.90zM80.85 106.58h5.90v2.45h-5.90zM80.85 115.39h5.90v2.45h-5.90zM80.85 128.62h5.90v2.45h-5.90zM80.85 139.64h5.90v2.45h-5.90zM80.85 188.13h5.90v2.45h-5.90zM80.85 216.79h5.90v2.45h-5.90zM80.85 223.40h5.90v2.45h-5.90zM80.85 397.53h5.90v2.45h-5.90zM86.50 16.20h5.90v2.45h-5.90zM86.50 55.88h5.90v2.45h-5.90zM86.50 86.74h5.90v2.45h-5.90zM86.50 106.58h5.90v2.45h-5.90zM86.50 135.23h5.90v2.45h-5.90zM86.50 139.64h5.90v4.66h-5.90zM86.50 146.25h5.90v2.45h-5.90zM86.50 159.48h5.90v2.45h-5.90zM86.50 166.09h5.90v2.45h-5.90zM86.50 174.91h5.90v2.45h-5.90zM86.50 179.32h5.90v2.45h-5.90zM86.50 196.95h5.90v2.45h-5.90zM86.50 203.56h5.90v2.45h-5.90zM86.50 404.14h5.90v2.45h-5.90zM92.15 16.20h5.90v2.45h-5.90zM92.15 49.27h5.90v4.66h-5.90zM92.15 58.08h5.90v2.45h-5.90zM92.15 97.76h5.90v2.45h-5.90zM92.15 155.07h5.90v2.45h-5.90zM92.15 161.68h5.90v2.45h-5.90zM92.15 166.09h5.90v2.45h-5.90zM92.15 192.54h5.90v2.45h-5.90zM92.15 238.83h5.90v2.45h-5.90zM97.80 93.35h5.90v2.45h-5.90zM97.80 152.86h5.90v2.45h-5.90zM97.80 247.65h5.90v2.45h-5.90zM97.80 276.30h5.90v2.45h-5.90zM103.45 62.49h5.90v2.45h-5.90zM103.45 108.78h5.90v4.66h-5.90zM103.45 119.80h5.90v4.66h-5.90zM103.45 133.03h5.90v2.45h-5.90zM103.45 159.48h5.90v4.66h-5.90zM103.45 170.50h5.90v2.45h-5.90zM103.45 238.83h5.90v2.45h-5.90zM103.45 258.67h5.90v2.45h-5.90zM109.10 128.62h5.90v2.45h-5.90zM109.10 157.27h5.90v2.45h-5.90zM109.10 183.72h5.90v2.45h-5.90zM109.10 274.10h5.90v2.45h-5.90zM109.10 426.19h5.90v2.45h-5.90zM114.75 91.15h5.90v2.45h-5.90zM114.75 150.66h5.90v2.45h-5.90zM114.75 159.48h5.90v2.45h-5.90zM114.75 170.50h5.90v2.45h-5.90zM114.75 194.74h5.90v2.45h-5.90zM114.75 260.87h5.90v2.45h-5.90zM114.75 397.53h5.90v2.45h-5.90zM114.75 426.19h5.90v2.45h-5.90zM120.40 97.76h5.90v2.45h-5.90zM120.40 104.37h5.90v2.45h-5.90zM120.40 327.00h5.90v2.45h-5.90zM120.40 340.22h5.90v2.45h-5.90zM120.40 375.49h5.90v4.66h-5.90zM120.40 382.10h5.90v2.45h-5.90zM120.40 399.74h5.90v2.45h-5.90zM120.40 435.00h5.90v2.45h-5.90zM120.40 443.82h5.90v2.45h-5.90zM126.05 97.76h5.90v2.45h-5.90zM126.05 258.67h5.90v2.45h-5.90zM126.05 388.71h5.90v6.86h-5.90zM126.05 399.74h5.90v9.07h-5.90zM126.05 430.59h5.90v4.66h-5.90zM126.05 465.86h5.90v2.45h-5.90zM126.05 479.09h5.90v4.66h-5.90zM131.70 102.17h5.90v2.45h-5.90zM131.70 172.70h5.90v2.45h-5.90zM131.70 298.34h5.90v2.45h-5.90zM131.70 322.59h5.90v6.86h-5.90zM131.70 375.49h5.90v2.45h-5.90zM131.70 401.94h5.90v2.45h-5.90zM131.70 412.96h5.90v2.45h-5.90zM131.70 435.00h5.90v2.45h-5.90zM131.70 446.02h5.90v4.66h-5.90zM131.70 468.07h5.90v4.66h-5.90zM137.35 157.27h5.90v2.45h-5.90zM137.35 170.50h5.90v2.45h-5.90zM137.35 181.52h5.90v2.45h-5.90zM137.35 291.73h5.90v2.45h-5.90zM137.35 300.55h5.90v2.45h-5.90zM137.35 315.98h5.90v2.45h-5.90zM137.35 335.81h5.90v2.45h-5.90zM137.35 344.63h5.90v2.45h-5.90zM137.35 364.47h5.90v6.86h-5.90zM137.35 386.51h5.90v4.66h-5.90zM137.35 393.12h5.90v2.45h-5.90zM137.35 397.53h5.90v2.45h-5.90zM137.35 401.94h5.90v4.66h-5.90zM137.35 437.21h5.90v2.45h-5.90zM137.35 465.86h5.90v2.45h-5.90zM137.35 470.27h5.90v2.45h-5.90zM143.00 102.17h5.90v2.45h-5.90zM143.00 144.05h5.90v2.45h-5.90zM143.00 172.70h5.90v2.45h-5.90zM143.00 223.40h5.90v2.45h-5.90zM143.00 232.22h5.90v2.45h-5.90zM143.00 293.93h5.90v2.45h-5.90zM143.00 313.77h5.90v2.45h-5.90zM143.00 320.38h5.90v2.45h-5.90zM143.00 377.69h5.90v2.45h-5.90zM143.00 386.51h5.90v2.45h-5.90zM143.00 399.74h5.90v2.45h-5.90zM143.00 404.14h5.90v2.45h-5.90zM143.00 408.55h5.90v4.66h-5.90zM148.65 172.70h5.90v2.45h-5.90zM148.65 190.34h5.90v2.45h-5.90zM148.65 296.14h5.90v2.45h-5.90zM148.65 355.65h5.90v2.45h-5.90zM148.65 384.31h5.90v2.45h-5.90zM148.65 421.78h5.90v2.45h-5.90zM148.65 441.62h5.90v2.45h-5.90zM148.65 470.27h5.90v4.66h-5.90zM154.30 124.21h5.90v2.45h-5.90zM154.30 130.82h5.90v2.45h-5.90zM154.30 254.26h5.90v2.45h-5.90zM154.30 258.67h5.90v2.45h-5.90zM154.30 368.88h5.90v2.45h-5.90zM154.30 382.10h5.90v2.45h-5.90zM154.30 421.78h5.90v2.45h-5.90zM154.30 474.68h5.90v2.45h-5.90zM154.30 479.09h5.90v2.45h-5.90zM159.95 280.71h5.90v2.45h-5.90zM159.95 287.32h5.90v2.45h-5.90zM159.95 318.18h5.90v2.45h-5.90zM159.95 324.79h5.90v2.45h-5.90zM159.95 377.69h5.90v2.45h-5.90zM159.95 382.10h5.90v2.45h-5.90zM159.95 393.12h5.90v2.45h-5.90zM159.95 399.74h5.90v2.45h-5.90zM159.95 470.27h5.90v2.45h-5.90zM159.95 476.88h5.90v2.45h-5.90zM165.60 289.53h5.90v2.45h-5.90zM165.60 296.14h5.90v2.45h-5.90zM165.60 307.16h5.90v2.45h-5.90zM165.60 318.18h5.90v2.45h-5.90zM165.60 390.92h5.90v2.45h-5.90zM165.60 399.74h5.90v2.45h-5.90zM165.60 410.76h5.90v2.45h-5.90zM165.60 419.57h5.90v2.45h-5.90zM165.60 426.19h5.90v2.45h-5.90zM165.60 443.82h5.90v2.45h-5.90zM165.60 459.25h5.90v2.45h-5.90zM171.25 194.74h5.90v2.45h-5.90zM171.25 203.56h5.90v4.66h-5.90zM171.25 278.50h5.90v2.45h-5.90zM171.25 291.73h5.90v4.66h-5.90zM171.25 300.55h5.90v2.45h-5.90zM171.25 349.04h5.90v4.66h-5.90zM171.25 366.67h5.90v2.45h-5.90zM171.25 379.90h5.90v4.66h-5.90zM171.25 390.92h5.90v2.45h-5.90zM171.25 423.98h5.90v2.45h-5.90zM171.25 432.80h5.90v4.66h-5.90zM171.25 443.82h5.90v2.45h-5.90zM176.90 128.62h5.90v2.45h-5.90zM176.90 135.23h5.90v4.66h-5.90zM176.90 155.07h5.90v4.66h-5.90zM176.90 287.32h5.90v6.86h-5.90zM176.90 307.16h5.90v2.45h-5.90zM176.90 320.38h5.90v4.66h-5.90zM176.90 335.81h5.90v6.86h-5.90zM176.90 351.24h5.90v2.45h-5.90zM176.90 355.65h5.90v2.45h-5.90zM176.90 388.71h5.90v4.66h-5.90zM182.55 119.80h5.90v2.45h-5.90zM182.55 124.21h5.90v4.66h-5.90zM182.55 135.23h5.90v2.45h-5.90zM182.55 168.29h5.90v2.45h-5.90zM182.55 172.70h5.90v4.66h-5.90zM182.55 315.98h5.90v4.66h-5.90zM182.55 331.41h5.90v2.45h-5.90zM182.55 353.45h5.90v2.45h-5.90zM182.55 360.06h5.90v2.45h-5.90zM182.55 368.88h5.90v4.66h-5.90zM182.55 384.31h5.90v4.66h-5.90z"/>
<path fill="#a898d0" d="M52.60 55.88h5.90v2.45h-5.90zM52.60 75.72h5.90v2.45h-5.90zM52.60 88.94h5.90v2.45h-5.90zM52.60 144.05h5.90v2.45h-5.90zM52.60 150.66h5.90v2.45h-5.90zM52.60 201.36h5.90v4.66h-5.90zM52.60 234.42h5.90v2.45h-5.90zM52.60 254.26h5.90v2.45h-5.90zM52.60 377.69h5.90v2.45h-5.90zM58.25 144.05h5.90v2.45h-5.90zM58.25 196.95h5.90v4.66h-5.90zM58.25 218.99h5.90v2.45h-5.90zM58.25 234.42h5.90v2.45h-5.90zM58.25 241.03h5.90v2.45h-5.90zM58.25 247.65h5.90v2.45h-5.90zM58.25 267.48h5.90v4.66h-5.90zM58.25 315.98h5.90v6.86h-5.90zM58.25 373.29h5.90v2.45h-5.90zM58.25 397.53h5.90v4.66h-5.90zM58.25 408.55h5.90v2.45h-5.90zM63.90 71.31h5.90v2.45h-5.90zM63.90 99.96h5.90v2.45h-5.90zM63.90 124.21h5.90v2.45h-5.90zM63.90 144.05h5.90v2.45h-5.90zM63.90 150.66h5.90v2.45h-5.90zM63.90 174.91h5.90v2.45h-5.90zM63.90 190.34h5.90v2.45h-5.90zM63.90 199.15h5.90v4.66h-5.90zM63.90 249.85h5.90v2.45h-5.90zM63.90 265.28h5.90v2.45h-5.90zM63.90 276.30h5.90v2.45h-5.90zM63.90 382.10h5.90v2.45h-5.90zM63.90 386.51h5.90v2.45h-5.90zM63.90 393.12h5.90v2.45h-5.90zM63.90 397.53h5.90v2.45h-5.90zM63.90 408.55h5.90v2.45h-5.90zM63.90 419.57h5.90v2.45h-5.90zM69.55 71.31h5.90v2.45h-5.90zM69.55 77.92h5.90v2.45h-5.90zM69.55 97.76h5.90v2.45h-5.90zM69.55 104.37h5.90v2.45h-5.90zM69.55 117.60h5.90v2.45h-5.90zM69.55 130.82h5.90v2.45h-5.90zM69.55 168.29h5.90v2.45h-5.90zM69.55 172.70h5.90v2.45h-5.90zM69.55 181.52h5.90v2.45h-5.90zM69.55 192.54h5.90v2.45h-5.90zM69.55 199.15h5.90v2.45h-5.90zM69.55 205.77h5.90v2.45h-5.90zM69.55 214.58h5.90v2.45h-5.90zM69.55 271.89h5.90v2.45h-5.90zM69.55 393.12h5.90v2.45h-5.90zM75.20 44.86h5.90v2.45h-5.90zM75.20 60.29h5.90v4.66h-5.90zM75.20 77.92h5.90v2.45h-5.90zM75.20 86.74h5.90v2.45h-5.90zM75.20 97.76h5.90v2.45h-5.90zM75.20 106.58h5.90v2.45h-5.90zM75.20 110.99h5.90v2.45h-5.90zM75.20 124.21h5.90v2.45h-5.90zM75.20 139.64h5.90v2.45h-5.90zM75.20 150.66h5.90v2.45h-5.90zM75.20 163.89h5.90v2.45h-5.90zM75.20 170.50h5.90v2.45h-5.90zM75.20 196.95h5.90v2.45h-5.90zM75.20 207.97h5.90v2.45h-5.90zM75.20 225.60h5.90v2.45h-5.90zM75.20 260.87h5.90v2.45h-5.90zM75.20 388.71h5.90v2.45h-5.90zM75.20 417.37h5.90v2.45h-5.90zM80.85 55.88h5.90v2.45h-5.90zM80.85 64.70h5.90v2.45h-5.90zM80.85 75.72h5.90v2.45h-5.90zM80.85 135.23h5.90v2.45h-5.90zM80.85 141.84h5.90v2.45h-5.90zM80.85 163.89h5.90v2.45h-5.90zM80.85 170.50h5.90v2.45h-5.90zM80.85 199.15h5.90v2.45h-5.90zM80.85 390.92h5.90v2.45h-5.90zM80.85 395.33h5.90v2.45h-5.90zM80.85 423.98h5.90v2.45h-5.90zM80.85 435.00h5.90v2.45h-5.90zM86.50 14.00h5.90v2.45h-5.90zM86.50 20.61h5.90v2.45h-5.90zM86.50 51.47h5.90v2.45h-5.90zM86.50 75.72h5.90v2.45h-5.90zM86.50 80.13h5.90v2.45h-5.90zM86.50 97.76h5.90v2.45h-5.90zM86.50 130.82h5.90v2.45h-5.90zM86.50 144.05h5.90v2.45h-5.90zM86.50 148.46h5.90v2.45h-5.90zM86.50 163.89h5.90v2.45h-5.90zM86.50 172.70h5.90v2.45h-5.90zM86.50 205.77h5.90v2.45h-5.90zM86.50 269.69h5.90v2.45h-5.90zM86.50 291.73h5.90v2.45h-5.90zM86.50 443.82h5.90v2.45h-5.90zM92.15 75.72h5.90v2.45h-5.90zM92.15 139.64h5.90v9.07h-5.90zM92.15 152.86h5.90v2.45h-5.90zM92.15 163.89h5.90v2.45h-5.90zM92.15 254.26h5.90v2.45h-5.90zM92.15 265.28h5.90v2.45h-5.90zM92.15 435.00h5.90v2.45h-5.90zM97.80 64.70h5.90v2.45h-5.90zM97.80 75.72h5.90v2.45h-5.90zM97.80 88.94h5.90v2.45h-5.90zM97.80 113.19h5.90v2.45h-5.90zM97.80 146.25h5.90v2.45h-5.90zM97.80 188.13h5.90v2.45h-5.90zM97.80 192.54h5.90v2.45h-5.90zM97.80 196.95h5.90v2.45h-5.90zM97.80 223.40h5.90v2.45h-5.90zM97.80 249.85h5.90v6.86h-5.90zM103.45 53.68h5.90v2.45h-5.90zM103.45 99.96h5.90v2.45h-5.90zM103.45 117.60h5.90v2.45h-5.90zM103.45 179.32h5.90v2.45h-5.90zM103.45 199.15h5.90v4.66h-5.90zM103.45 216.79h5.90v2.45h-5.90zM103.45 249.85h5.90v2.45h-5.90zM103.45 274.10h5.90v2.45h-5.90zM109.10 47.06h5.90v2.45h-5.90zM109.10 53.68h5.90v2.45h-5.90zM109.10 117.60h5.90v2.45h-5.90zM109.10 148.46h5.90v2.45h-5.90zM109.10 168.29h5.90v2.45h-5.90zM109.10 174.91h5.90v2.45h-5.90zM109.10 179.32h5.90v4.66h-5.90zM109.10 196.95h5.90v2.45h-5.90zM109.10 203.56h5.90v2.45h-5.90zM109.10 207.97h5.90v2.45h-5.90zM109.10 221.20h5.90v2.45h-5.90zM109.10 269.69h5.90v2.45h-5.90zM109.10 349.04h5.90v2.45h-5.90zM109.10 401.94h5.90v4.66h-5.90zM109.10 421.78h5.90v2.45h-5.90zM109.10 428.39h5.90v2.45h-5.90zM109.10 441.62h5.90v2.45h-5.90zM114.75 53.68h5.90v2.45h-5.90zM114.75 102.17h5.90v2.45h-5.90zM114.75 106.58h5.90v2.45h-5.90zM114.75 115.39h5.90v2.45h-5.90zM114.75 152.86h5.90v2.45h-5.90zM114.75 172.70h5.90v6.86h-5.90zM114.75 183.72h5.90v4.66h-5.90zM114.75 225.60h5.90v2.45h-5.90zM114.75 236.62h5.90v2.45h-5.90zM114.75 267.48h5.90v2.45h-5.90zM114.75 274.10h5.90v2.45h-5.90zM114.75 399.74h5.90v2.45h-5.90zM114.75 419.57h5.90v2.45h-5.90zM120.40 53.68h5.90v2.45h-5.90zM120.40 91.15h5.90v4.66h-5.90zM120.40 183.72h5.90v2.45h-5.90zM120.40 263.08h5.90v2.45h-5.90zM120.40 298.34h5.90v2.45h-5.90zM120.40 304.96h5.90v2.45h-5.90zM120.40 309.36h5.90v2.45h-5.90zM120.40 344.63h5.90v2.45h-5.90zM120.40 353.45h5.90v2.45h-5.90zM120.40 393.12h5.90v2.45h-5.90zM120.40 415.17h5.90v2.45h-5.90zM126.05 95.56h5.90v2.45h-5.90zM126.05 102.17h5.90v2.45h-5.90zM126.05 291.73h5.90v2.45h-5.90zM126.05 346.84h5.90v2.45h-5.90zM126.05 377.69h5.90v2.45h-5.90zM126.05 395.33h5.90v4.66h-5.90zM126.05 421.78h5.90v2.45h-5.90zM126.05 435.00h5.90v2.45h-5.90zM126.05 472.47h5.90v2.45h-5.90zM131.70 155.07h5.90v2.45h-5.90zM131.70 159.48h5.90v2.45h-5.90zM131.70 190.34h5.90v2.45h-5.90zM131.70 285.12h5.90v6.86h-5.90zM131.70 307.16h5.90v2.45h-5.90zM131.70 342.43h5.90v2.45h-5.90zM131.70 366.67h5.90v2.45h-5.90zM131.70 371.08h5.90v2.45h-5.90zM131.70 395.33h5.90v2.45h-5.90zM131.70 399.74h5.90v2.45h-5.90zM131.70 430.59h5.90v2.45h-5.90zM131.70 441.62h5.90v4.66h-5.90zM137.35 86.74h5.90v2.45h-5.90zM137.35 185.93h5.90v2.45h-5.90zM137.35 287.32h5.90v2.45h-5.90zM137.35 304.96h5.90v2.45h-5.90zM137.35 318.18h5.90v2.45h-5.90zM137.35 329.20h5.90v2.45h-5.90zM137.35 342.43h5.90v2.45h-5.90zM137.35 373.29h5.90v2.45h-5.90zM137.35 384.31h5.90v2.45h-5.90zM137.35 395.33h5.90v2.45h-5.90zM137.35 412.96h5.90v2.45h-5.90zM137.35 441.62h5.90v2.45h-5.90zM143.00 84.53h5.90v2.45h-5.90zM143.00 95.56h5.90v2.45h-5.90zM143.00 106.58h5.90v2.45h-5.90zM143.00 113.19h5.90v2.45h-5.90zM143.00 117.60h5.90v2.45h-5.90zM143.00 137.44h5.90v2.45h-5.90zM143.00 152.86h5.90v2.45h-5.90zM143.00 159.48h5.90v2.45h-5.90zM143.00 174.91h5.90v2.45h-5.90zM143.00 183.72h5.90v2.45h-5.90zM143.00 216.79h5.90v2.45h-5.90zM143.00 221.20h5.90v2.45h-5.90zM143.00 225.60h5.90v4.66h-5.90zM143.00 315.98h5.90v2.45h-5.90zM143.00 346.84h5.90v2.45h-5.90zM143.00 357.86h5.90v2.45h-5.90zM143.00 432.80h5.90v2.45h-5.90zM148.65 161.68h5.90v2.45h-5.90zM148.65 166.09h5.90v4.66h-5.90zM148.65 280.71h5.90v2.45h-5.90zM148.65 287.32h5.90v2.45h-5.90zM148.65 291.73h5.90v2.45h-5.90zM148.65 302.75h5.90v2.45h-5.90zM148.65 322.59h5.90v2.45h-5.90zM148.65 327.00h5.90v4.66h-5.90zM148.65 346.84h5.90v2.45h-5.90zM148.65 423.98h5.90v2.45h-5.90zM148.65 448.23h5.90v2.45h-5.90zM148.65 461.45h5.90v2.45h-5.90zM148.65 468.07h5.90v2.45h-5.90zM154.30 119.80h5.90v2.45h-5.90zM154.30 126.41h5.90v4.66h-5.90zM154.30 183.72h5.90v2.45h-5.90zM154.30 216.79h5.90v2.45h-5.90zM154.30 304.96h5.90v2.45h-5.90zM154.30 311.57h5.90v2.45h-5.90zM154.30 335.81h5.90v2.45h-5.90zM154.30 344.63h5.90v4.66h-5.90zM154.30 360.06h5.90v4.66h-5.90zM154.30 386.51h5.90v4.66h-5.90zM154.30 395.33h5.90v2.45h-5.90zM154.30 406.35h5.90v2.45h-5.90zM154.30 439.41h5.90v2.45h-5.90zM154.30 476.88h5.90v2.45h-5.90zM154.30 483.50h5.90v2.45h-5.90zM159.95 146.25h5.90v2.45h-5.90zM159.95 161.68h5.90v2.45h-5.90zM159.95 183.72h5.90v4.66h-5.90zM159.95 216.79h5.90v4.66h-5.90zM159.95 223.40h5.90v2.45h-5.90zM159.95 289.53h5.90v2.45h-5.90zM159.95 346.84h5.90v2.45h-5.90zM159.95 371.08h5.90v2.45h-5.90zM159.95 375.49h5.90v2.45h-5.90zM159.95 386.51h5.90v4.66h-5.90zM159.95 397.53h5.90v2.45h-5.90zM159.95 446.02h5.90v4.66h-5.90zM159.95 452.64h5.90v2.45h-5.90zM159.95 457.05h5.90v2.45h-5.90zM159.95 463.66h5.90v2.45h-5.90zM159.95 479.09h5.90v2.45h-5.90zM165.60 141.84h5.90v2.45h-5.90zM165.60 166.09h5.90v2.45h-5.90zM165.60 185.93h5.90v2.45h-5.90zM165.60 247.65h5.90v2.45h-5.90zM165.60 287.32h5.90v2.45h-5.90zM165.60 340.22h5.90v2.45h-5.90zM165.60 355.65h5.90v2.45h-5.90zM165.60 375.49h5.90v2.45h-5.90zM165.60 386.51h5.90v2.45h-5.90zM165.60 397.53h5.90v2.45h-5.90zM165.60 437.21h5.90v2.45h-5.90zM171.25 155.07h5.90v2.45h-5.90zM171.25 183.72h5.90v2.45h-5.90zM171.25 190.34h5.90v4.66h-5.90zM171.25 196.95h5.90v2.45h-5.90zM171.25 207.97h5.90v2.45h-5.90zM171.25 353.45h5.90v2.45h-5.90zM171.25 362.26h5.90v4.66h-5.90zM171.25 384.31h5.90v2.45h-5.90zM171.25 399.74h5.90v2.45h-5.90zM171.25 426.19h5.90v2.45h-5.90zM176.90 139.64h5.90v2.45h-5.90zM176.90 159.48h5.90v2.45h-5.90zM176.90 181.52h5.90v6.86h-5.90zM176.90 285.12h5.90v2.45h-5.90zM176.90 318.18h5.90v2.45h-5.90zM176.90 329.20h5.90v4.66h-5.90zM176.90 349.04h5.90v2.45h-5.90zM176.90 357.86h5.90v2.45h-5.90zM176.90 377.69h5.90v2.45h-5.90zM176.90 435.00h5.90v2.45h-5.90zM176.90 439.41h5.90v2.45h-5.90zM176.90 443.82h5.90v2.45h-5.90zM182.55 163.89h5.90v2.45h-5.90zM182.55 170.50h5.90v2.45h-5.90zM182.55 181.52h5.90v2.45h-5.90zM182.55 190.34h5.90v2.45h-5.90zM182.55 227.81h5.90v2.45h-5.90zM182.55 287.32h5.90v2.45h-5.90zM182.55 304.96h5.90v2.45h-5.90zM182.55 340.22h5.90v2.45h-5.90zM182.55 366.67h5.90v2.45h-5.90zM182.55 377.69h5.90v2.45h-5.90z"/>
<path fill="#baabda" d="M52.60 53.68h5.90v2.45h-5.90zM52.60 80.13h5.90v2.45h-5.90zM52.60 95.56h5.90v2.45h-5.90zM52.60 124.21h5.90v2.45h-5.90zM52.60 190.34h5.90v2.45h-5.90zM52.60 196.95h5.90v2.45h-5.90zM52.60 241.03h5.90v4.66h-5.90zM52.60 375.49h5.90v2.45h-5.90zM52.60 404.14h5.90v4.66h-5.90zM58.25 104.37h5.90v2.45h-5.90zM58.25 128.62h5.90v2.45h-5.90zM58.25 159.48h5.90v2.45h-5.90zM58.25 232.22h5.90v2.45h-5.90zM58.25 236.62h5.90v4.66h-5.90zM58.25 245.44h5.90v2.45h-5.90zM58.25 276.30h5.90v2.45h-5.90zM58.25 393.12h5.90v4.66h-5.90zM58.25 401.94h5.90v2.45h-5.90zM58.25 423.98h5.90v4.66h-5.90zM58.25 430.59h5.90v2.45h-5.90zM63.90 55.88h5.90v2.45h-5.90zM63.90 75.72h5.90v2.45h-5.90zM63.90 106.58h5.90v2.45h-5.90zM63.90 139.64h5.90v2.45h-5.90zM63.90 223.40h5.90v4.66h-5.90zM63.90 241.03h5.90v2.45h-5.90zM63.90 357.86h5.90v2.45h-5.90zM63.90 384.31h5.90v2.45h-5.90zM63.90 406.35h5.90v2.45h-5.90zM63.90 426.19h5.90v2.45h-5.90zM69.55 58.08h5.90v2.45h-5.90zM69.55 62.49h5.90v2.45h-5.90zM69.55 73.51h5.90v2.45h-5.90zM69.55 82.33h5.90v2.45h-5.90zM69.55 88.94h5.90v2.45h-5.90zM69.55 137.44h5.90v2.45h-5.90zM69.55 174.91h5.90v2.45h-5.90zM69.55 225.60h5.90v2.45h-5.90zM69.55 258.67h5.90v2.45h-5.90zM69.55 263.08h5.90v2.45h-5.90zM69.55 384.31h5.90v4.66h-5.90zM69.55 395.33h5.90v2.45h-5.90zM69.55 408.55h5.90v2.45h-5.90zM75.20 49.27h5.90v2.45h-5.90zM75.20 53.68h5.90v2.45h-5.90zM75.20 93.35h5.90v4.66h-5.90zM75.20 99.96h5.90v2.45h-5.90zM75.20 117.60h5.90v2.45h-5.90zM75.20 161.68h5.90v2.45h-5.90zM75.20 172.70h5.90v6.86h-5.90zM75.20 181.52h5.90v2.45h-5.90zM75.20 194.74h5.90v2.45h-5.90zM75.20 223.40h5.90v2.45h-5.90zM75.20 227.81h5.90v2.45h-5.90zM75.20 412.96h5.90v2.45h-5.90zM75.20 423.98h5.90v2.45h-5.90zM80.85 51.47h5.90v2.45h-5.90zM80.85 80.13h5.90v2.45h-5.90zM80.85 86.74h5.90v2.45h-5.90zM80.85 133.03h5.90v2.45h-5.90zM80.85 137.44h5.90v2.45h-5.90zM80.85 155.07h5.90v2.45h-5.90zM80.85 159.48h5.90v2.45h-5.90zM80.85 166.09h5.90v2.45h-5.90zM80.85 172.70h5.90v2.45h-5.90zM80.85 179.32h5.90v2.45h-5.90zM80.85 185.93h5.90v2.45h-5.90zM80.85 196.95h5.90v2.45h-5.90zM80.85 201.36h5.90v2.45h-5.90zM80.85 212.38h5.90v2.45h-5.90zM80.85 218.99h5.90v2.45h-5.90zM80.85 230.01h5.90v2.45h-5.90zM80.85 254.26h5.90v2.45h-5.90zM80.85 362.26h5.90v2.45h-5.90zM80.85 384.31h5.90v2.45h-5.90zM80.85 419.57h5.90v2.45h-5.90zM80.85 430.59h5.90v2.45h-5.90zM86.50 64.70h5.90v2.45h-5.90zM86.50 82.33h5.90v2.45h-5.90zM86.50 122.01h5.90v2.45h-5.90zM86.50 126.41h5.90v2.45h-5.90zM86.50 152.86h5.90v4.66h-5.90zM86.50 170.50h5.90v2.45h-5.90zM86.50 177.11h5.90v2.45h-5.90zM86.50 181.52h5.90v2.45h-5.90zM86.50 201.36h5.90v2.45h-5.90zM86.50 207.97h5.90v4.66h-5.90zM86.50 221.20h5.90v4.66h-5.90zM86.50 265.28h5.90v2.45h-5.90zM92.15 14.00h5.90v2.45h-5.90zM92.15 53.68h5.90v2.45h-5.90zM92.15 62.49h5.90v4.66h-5.90zM92.15 84.53h5.90v2.45h-5.90zM92.15 102.17h5.90v2.45h-5.90zM92.15 168.29h5.90v2.45h-5.90zM92.15 181.52h5.90v2.45h-5.90zM92.15 185.93h5.90v2.45h-5.90zM92.15 190.34h5.90v2.45h-5.90zM92.15 194.74h5.90v2.45h-5.90zM92.15 199.15h5.90v2.45h-5.90zM92.15 205.77h5.90v2.45h-5.90zM92.15 214.58h5.90v2.45h-5.90zM92.15 236.62h5.90v2.45h-5.90zM92.15 247.65h5.90v2.45h-5.90zM92.15 258.67h5.90v2.45h-5.90zM97.80 51.47h5.90v4.66h-5.90zM97.80 80.13h5.90v2.45h-5.90zM97.80 115.39h5.90v2.45h-5.90zM97.80 174.91h5.90v2.45h-5.90zM97.80 221.20h5.90v2.45h-5.90zM97.80 271.89h5.90v2.45h-5.90zM103.45 77.92h5.90v2.45h-5.90zM103.45 86.74h5.90v2.45h-5.90zM103.45 104.37h5.90v4.66h-5.90zM103.45 148.46h5.90v2.45h-5.90zM103.45 183.72h5.90v6.86h-5.90zM103.45 218.99h5.90v2.45h-5.90zM103.45 245.44h5.90v2.45h-5.90zM103.45 260.87h5.90v2.45h-5.90zM103.45 267.48h5.90v2.45h-5.90zM103.45 271.89h5.90v2.45h-5.90zM103.45 401.94h5.90v2.45h-5.90zM109.10 18.41h5.90v2.45h-5.90zM109.10 55.88h5.90v2.45h-5.90zM109.10 66.90h5.90v2.45h-5.90zM109.10 99.96h5.90v2.45h-5.90zM109.10 113.19h5.90v2.45h-5.90zM109.10 122.01h5.90v2.45h-5.90zM109.10 133.03h5.90v2.45h-5.90zM109.10 161.68h5.90v2.45h-5.90zM109.10 216.79h5.90v2.45h-5.90zM109.10 223.40h5.90v4.66h-5.90zM109.10 243.24h5.90v2.45h-5.90zM109.10 256.46h5.90v2.45h-5.90zM109.10 263.08h5.90v2.45h-5.90zM109.10 353.45h5.90v2.45h-5.90zM109.10 364.47h5.90v2.45h-5.90zM109.10 395.33h5.90v2.45h-5.90zM109.10 399.74h5.90v2.45h-5.90zM109.10 417.37h5.90v2.45h-5.90zM114.75 88.94h5.90v2.45h-5.90zM114.75 93.35h5.90v2.45h-5.90zM114.75 99.96h5.90v2.45h-5.90zM114.75 139.64h5.90v2.45h-5.90zM114.75 146.25h5.90v2.45h-5.90zM114.75 181.52h5.90v2.45h-5.90zM114.75 241.03h5.90v2.45h-5.90zM114.75 252.05h5.90v2.45h-5.90zM114.75 256.46h5.90v2.45h-5.90zM114.75 271.89h5.90v2.45h-5.90zM114.75 395.33h5.90v2.45h-5.90zM114.75 406.35h5.90v2.45h-5.90zM114.75 410.76h5.90v2.45h-5.90zM120.40 64.70h5.90v2.45h-5.90zM120.40 84.53h5.90v2.45h-5.90zM120.40 196.95h5.90v2.45h-5.90zM120.40 300.55h5.90v4.66h-5.90zM120.40 311.57h5.90v2.45h-5.90zM120.40 349.04h5.90v2.45h-5.90zM120.40 379.90h5.90v2.45h-5.90zM120.40 410.76h5.90v2.45h-5.90zM120.40 417.37h5.90v2.45h-5.90zM120.40 452.64h5.90v2.45h-5.90zM120.40 483.50h5.90v2.45h-5.90zM126.05 99.96h5.90v2.45h-5.90zM126.05 115.39h5.90v2.45h-5.90zM126.05 183.72h5.90v4.66h-5.90zM126.05 342.43h5.90v2.45h-5.90zM126.05 360.06h5.90v2.45h-5.90zM126.05 428.39h5.90v2.45h-5.90zM126.05 446.02h5.90v2.45h-5.90zM126.05 476.88h5.90v2.45h-5.90zM131.70 106.58h5.90v2.45h-5.90zM131.70 177.11h5.90v4.66h-5.90zM131.70 188.13h5.90v2.45h-5.90zM131.70 203.56h5.90v4.66h-5.90zM131.70 331.41h5.90v6.86h-5.90zM131.70 357.86h5.90v2.45h-5.90zM131.70 397.53h5.90v2.45h-5.90zM131.70 439.41h5.90v2.45h-5.90zM131.70 450.43h5.90v2.45h-5.90zM131.70 454.84h5.90v4.66h-5.90zM131.70 465.86h5.90v2.45h-5.90zM137.35 194.74h5.90v2.45h-5.90zM137.35 285.12h5.90v2.45h-5.90zM137.35 307.16h5.90v2.45h-5.90zM137.35 313.77h5.90v2.45h-5.90zM137.35 333.61h5.90v2.45h-5.90zM137.35 340.22h5.90v2.45h-5.90zM137.35 351.24h5.90v2.45h-5.90zM137.35 355.65h5.90v2.45h-5.90zM137.35 360.06h5.90v2.45h-5.90zM137.35 375.49h5.90v2.45h-5.90zM137.35 390.92h5.90v2.45h-5.90zM137.35 399.74h5.90v2.45h-5.90zM137.35 421.78h5.90v4.66h-5.90zM143.00 91.15h5.90v2.45h-5.90zM143.00 108.78h5.90v2.45h-5.90zM143.00 115.39h5.90v2.45h-5.90zM143.00 148.46h5.90v2.45h-5.90zM143.00 155.07h5.90v2.45h-5.90zM143.00 166.09h5.90v2.45h-5.90zM143.00 190.34h5.90v2.45h-5.90zM143.00 210.17h5.90v2.45h-5.90zM143.00 214.58h5.90v2.45h-5.90zM143.00 236.62h5.90v2.45h-5.90zM143.00 291.73h5.90v2.45h-5.90zM143.00 322.59h5.90v4.66h-5.90zM143.00 342.43h5.90v2.45h-5.90zM143.00 351.24h5.90v2.45h-5.90zM143.00 364.47h5.90v2.45h-5.90zM143.00 368.88h5.90v6.86h-5.90zM143.00 395.33h5.90v2.45h-5.90zM143.00 421.78h5.90v2.45h-5.90zM143.00 426.19h5.90v2.45h-5.90zM143.00 430.59h5.90v2.45h-5.90zM143.00 439.41h5.90v2.45h-5.90zM148.65 119.80h5.90v2.45h-5.90zM148.65 128.62h5.90v2.45h-5.90zM148.65 157.27h5.90v4.66h-5.90zM148.65 163.89h5.90v2.45h-5.90zM148.65 289.53h5.90v2.45h-5.90zM148.65 335.81h5.90v2.45h-5.90zM148.65 353.45h5.90v2.45h-5.90zM148.65 375.49h5.90v2.45h-5.90zM148.65 379.90h5.90v2.45h-5.90zM148.65 390.92h5.90v2.45h-5.90zM148.65 437.21h5.90v4.66h-5.90zM148.65 443.82h5.90v2.45h-5.90zM148.65 452.64h5.90v2.45h-5.90zM154.30 97.76h5.90v2.45h-5.90zM154.30 135.23h5.90v2.45h-5.90zM154.30 141.84h5.90v2.45h-5.90zM154.30 170.50h5.90v2.45h-5.90zM154.30 280.71h5.90v2.45h-5.90zM154.30 293.93h5.90v2.45h-5.90zM154.30 307.16h5.90v2.45h-5.90zM154.30 329.20h5.90v2.45h-5.90zM154.30 379.90h5.90v2.45h-5.90zM154.30 390.92h5.90v2.45h-5.90zM154.30 412.96h5.90v2.45h-5.90zM154.30 481.29h5.90v2.45h-5.90zM159.95 130.82h5.90v2.45h-5.90zM159.95 135.23h5.90v2.45h-5.90zM159.95 157.27h5.90v2.45h-5.90zM159.95 199.15h5.90v2.45h-5.90zM159.95 203.56h5.90v4.66h-5.90zM159.95 282.91h5.90v4.66h-5.90zM159.95 304.96h5.90v2.45h-5.90zM159.95 313.77h5.90v2.45h-5.90zM159.95 353.45h5.90v2.45h-5.90zM159.95 362.26h5.90v2.45h-5.90zM159.95 390.92h5.90v2.45h-5.90zM159.95 395.33h5.90v2.45h-5.90zM159.95 410.76h5.90v2.45h-5.90zM159.95 443.82h5.90v2.45h-5.90zM159.95 468.07h5.90v2.45h-5.90zM165.60 148.46h5.90v2.45h-5.90zM165.60 172.70h5.90v2.45h-5.90zM165.60 179.32h5.90v2.45h-5.90zM165.60 183.72h5.90v2.45h-5.90zM165.60 293.93h5.90v2.45h-5.90zM165.60 298.34h5.90v4.66h-5.90zM165.60 324.79h5.90v6.86h-5.90zM165.60 351.24h5.90v4.66h-5.90zM165.60 360.06h5.90v2.45h-5.90zM165.60 366.67h5.90v2.45h-5.90zM165.60 382.10h5.90v2.45h-5.90zM165.60 412.96h5.90v2.45h-5.90zM165.60 423.98h5.90v2.45h-5.90zM165.60 435.00h5.90v2.45h-5.90zM165.60 439.41h5.90v2.45h-5.90zM171.25 119.80h5.90v2.45h-5.90zM171.25 130.82h5.90v2.45h-5.90zM171.25 137.44h5.90v4.66h-5.90zM171.25 152.86h5.90v2.45h-5.90zM171.25 168.29h5.90v2.45h-5.90zM171.25 188.13h5.90v2.45h-5.90zM171.25 201.36h5.90v2.45h-5.90zM171.25 271.89h5.90v2.45h-5.90zM171.25 276.30h5.90v2.45h-5.90zM171.25 280.71h5.90v4.66h-5.90zM171.25 296.14h5.90v2.45h-5.90zM171.25 322.59h5.90v4.66h-5.90zM171.25 355.65h5.90v2.45h-5.90zM171.25 360.06h5.90v2.45h-5.90zM171.25 375.49h5.90v2.45h-5.90zM171.25 388.71h5.90v2.45h-5.90zM171.25 397.53h5.90v2.45h-5.90zM171.25 481.29h5.90v2.45h-5.90zM176.90 117.60h5.90v2.45h-5.90zM176.90 144.05h5.90v2.45h-5.90zM176.90 172.70h5.90v2.45h-5.90zM176.90 192.54h5.90v2.45h-5.90zM176.90 309.36h5.90v2.45h-5.90zM176.90 342.43h5.90v2.45h-5.90zM176.90 360.06h5.90v2.45h-5.90zM176.90 371.08h5.90v4.66h-5.90zM176.90 476.88h5.90v4.66h-5.90zM182.55 113.19h5.90v2.45h-5.90zM182.55 117.60h5.90v2.45h-5.90zM182.55 148.46h5.90v4.66h-5.90zM182.55 166.09h5.90v2.45h-5.90zM182.55 183.72h5.90v4.66h-5.90zM182.55 192.54h5.90v2.45h-5.90zM182.55 196.95h5.90v2.45h-5.90zM182.55 324.79h5.90v2.45h-5.90zM182.55 333.61h5.90v2.45h-5.90zM182.55 338.02h5.90v2.45h-5.90zM182.55 346.84h5.90v6.86h-5.90zM182.55 382.10h5.90v2.45h-5.90zM182.55 430.59h5.90v2.45h-5.90z"/>
<path fill="#c7bae0" d="M52.60 51.47h5.90v2.45h-5.90zM52.60 66.90h5.90v2.45h-5.90zM52.60 73.51h5.90v2.45h-5.90zM52.60 86.74h5.90v2.45h-5.90zM52.60 91.15h5.90v2.45h-5.90zM52.60 141.84h5.90v2.45h-5.90zM52.60 256.46h5.90v2.45h-5.90zM52.60 271.89h5.90v2.45h-5.90zM52.60 395.33h5.90v2.45h-5.90zM52.60 426.19h5.90v2.45h-5.90zM58.25 47.06h5.90v2.45h-5.90zM58.25 71.31h5.90v2.45h-5.90zM58.25 91.15h5.90v2.45h-5.90zM58.25 97.76h5.90v2.45h-5.90zM58.25 157.27h5.90v2.45h-5.90zM58.25 168.29h5.90v9.07h-5.90zM58.25 192.54h5.90v2.45h-5.90zM58.25 210.17h5.90v2.45h-5.90zM58.25 214.58h5.90v2.45h-5.90zM58.25 243.24h5.90v2.45h-5.90zM58.25 258.67h5.90v2.45h-5.90zM58.25 331.41h5.90v2.45h-5.90zM58.25 362.26h5.90v2.45h-5.90zM58.25 366.67h5.90v2.45h-5.90zM58.25 371.08h5.90v2.45h-5.90zM58.25 404.14h5.90v2.45h-5.90zM63.90 69.11h5.90v2.45h-5.90zM63.90 84.53h5.90v2.45h-5.90zM63.90 227.81h5.90v2.45h-5.90zM63.90 232.22h5.90v2.45h-5.90zM63.90 236.62h5.90v4.66h-5.90zM63.90 307.16h5.90v2.45h-5.90zM63.90 362.26h5.90v2.45h-5.90zM63.90 377.69h5.90v4.66h-5.90zM63.90 415.17h5.90v2.45h-5.90zM69.55 49.27h5.90v2.45h-5.90zM69.55 55.88h5.90v2.45h-5.90zM69.55 75.72h5.90v2.45h-5.90zM69.55 119.80h5.90v2.45h-5.90zM69.55 146.25h5.90v2.45h-5.90zM69.55 157.27h5.90v2.45h-5.90zM69.55 194.74h5.90v2.45h-5.90zM69.55 210.17h5.90v2.45h-5.90zM69.55 260.87h5.90v2.45h-5.90zM69.55 267.48h5.90v4.66h-5.90zM69.55 276.30h5.90v2.45h-5.90zM69.55 304.96h5.90v2.45h-5.90zM69.55 397.53h5.90v2.45h-5.90zM69.55 406.35h5.90v2.45h-5.90zM69.55 415.17h5.90v2.45h-5.90zM75.20 40.45h5.90v2.45h-5.90zM75.20 51.47h5.90v2.45h-5.90zM75.20 75.72h5.90v2.45h-5.90zM75.20 104.37h5.90v2.45h-5.90zM75.20 137.44h5.90v2.45h-5.90zM75.20 144.05h5.90v2.45h-5.90zM75.20 234.42h5.90v2.45h-5.90zM75.20 249.85h5.90v2.45h-5.90zM75.20 390.92h5.90v2.45h-5.90zM75.20 415.17h5.90v2.45h-5.90zM75.20 421.78h5.90v2.45h-5.90zM75.20 428.39h5.90v2.45h-5.90zM75.20 446.02h5.90v2.45h-5.90zM75.20 450.43h5.90v2.45h-5.90zM80.85 82.33h5.90v4.66h-5.90zM80.85 88.94h5.90v2.45h-5.90zM80.85 95.56h5.90v2.45h-5.90zM80.85 117.60h5.90v2.45h-5.90zM80.85 183.72h5.90v2.45h-5.90zM80.85 192.54h5.90v4.66h-5.90zM80.85 207.97h5.90v2.45h-5.90zM80.85 225.60h5.90v2.45h-5.90zM80.85 243.24h5.90v2.45h-5.90zM80.85 302.75h5.90v2.45h-5.90zM80.85 313.77h5.90v2.45h-5.90zM80.85 401.94h5.90v2.45h-5.90zM80.85 410.76h5.90v2.45h-5.90zM80.85 415.17h5.90v2.45h-5.90zM80.85 432.80h5.90v2.45h-5.90zM86.50 49.27h5.90v2.45h-5.90zM86.50 53.68h5.90v2.45h-5.90zM86.50 77.92h5.90v2.45h-5.90zM86.50 84.53h5.90v2.45h-5.90zM86.50 95.56h5.90v2.45h-5.90zM86.50 102.17h5.90v2.45h-5.90zM86.50 113.19h5.90v2.45h-5.90zM86.50 117.60h5.90v2.45h-5.90zM86.50 124.21h5.90v2.45h-5.90zM86.50 157.27h5.90v2.45h-5.90zM86.50 183.72h5.90v2.45h-5.90zM86.50 192.54h5.90v2.45h-5.90zM86.50 218.99h5.90v2.45h-5.90zM86.50 271.89h5.90v2.45h-5.90zM86.50 276.30h5.90v2.45h-5.90zM86.50 441.62h5.90v2.45h-5.90zM92.15 44.86h5.90v2.45h-5.90zM92.15 60.29h5.90v2.45h-5.90zM92.15 91.15h5.90v2.45h-5.90zM92.15 95.56h5.90v2.45h-5.90zM92.15 110.99h5.90v2.45h-5.90zM92.15 128.62h5.90v2.45h-5.90zM92.15 137.44h5.90v2.45h-5.90zM92.15 183.72h5.90v2.45h-5.90zM92.15 212.38h5.90v2.45h-5.90zM92.15 230.01h5.90v2.45h-5.90zM92.15 241.03h5.90v2.45h-5.90zM92.15 256.46h5.90v2.45h-5.90zM92.15 263.08h5.90v2.45h-5.90zM92.15 267.48h5.90v2.45h-5.90zM92.15 366.67h5.90v2.45h-5.90zM92.15 390.92h5.90v2.45h-5.90zM92.15 399.74h5.90v2.45h-5.90zM92.15 437.21h5.90v2.45h-5.90zM97.80 60.29h5.90v4.66h-5.90zM97.80 86.74h5.90v2.45h-5.90zM97.80 95.56h5.90v2.45h-5.90zM97.80 124.21h5.90v2.45h-5.90zM97.80 133.03h5.90v2.45h-5.90zM97.80 139.64h5.90v4.66h-5.90zM97.80 256.46h5.90v2.45h-5.90zM97.80 260.87h5.90v2.45h-5.90zM97.80 406.35h5.90v2.45h-5.90zM103.45 51.47h5.90v2.45h-5.90zM103.45 60.29h5.90v2.45h-5.90zM103.45 69.11h5.90v2.45h-5.90zM103.45 73.51h5.90v2.45h-5.90zM103.45 80.13h5.90v4.66h-5.90zM103.45 88.94h5.90v4.66h-5.90zM103.45 102.17h5.90v2.45h-5.90zM103.45 144.05h5.90v2.45h-5.90zM103.45 223.40h5.90v2.45h-5.90zM103.45 227.81h5.90v2.45h-5.90zM103.45 256.46h5.90v2.45h-5.90zM103.45 263.08h5.90v4.66h-5.90zM109.10 93.35h5.90v2.45h-5.90zM109.10 97.76h5.90v2.45h-5.90zM109.10 108.78h5.90v2.45h-5.90zM109.10 137.44h5.90v2.45h-5.90zM109.10 141.84h5.90v2.45h-5.90zM109.10 146.25h5.90v2.45h-5.90zM109.10 150.66h5.90v2.45h-5.90zM109.10 163.89h5.90v2.45h-5.90zM109.10 172.70h5.90v2.45h-5.90zM109.10 192.54h5.90v2.45h-5.90zM109.10 205.77h5.90v2.45h-5.90zM109.10 214.58h5.90v2.45h-5.90zM109.10 258.67h5.90v2.45h-5.90zM109.10 304.96h5.90v2.45h-5.90zM109.10 311.57h5.90v2.45h-5.90zM109.10 408.55h5.90v4.66h-5.90zM114.75 49.27h5.90v2.45h-5.90zM114.75 55.88h5.90v4.66h-5.90zM114.75 86.74h5.90v2.45h-5.90zM114.75 97.76h5.90v2.45h-5.90zM114.75 113.19h5.90v2.45h-5.90zM114.75 130.82h5.90v2.45h-5.90zM114.75 163.89h5.90v2.45h-5.90zM114.75 258.67h5.90v2.45h-5.90zM114.75 351.24h5.90v2.45h-5.90zM114.75 393.12h5.90v2.45h-5.90zM114.75 428.39h5.90v2.45h-5.90zM120.40 58.08h5.90v2.45h-5.90zM120.40 322.59h5.90v2.45h-5.90zM120.40 342.43h5.90v2.45h-5.90zM120.40 346.84h5.90v2.45h-5.90zM120.40 351.24h5.90v2.45h-5.90zM120.40 364.47h5.90v2.45h-5.90zM120.40 373.29h5.90v2.45h-5.90zM120.40 388.71h5.90v2.45h-5.90zM120.40 406.35h5.90v2.45h-5.90zM120.40 419.57h5.90v2.45h-5.90zM120.40 448.23h5.90v2.45h-5.90zM126.05 58.08h5.90v2.45h-5.90zM126.05 91.15h5.90v2.45h-5.90zM126.05 122.01h5.90v2.45h-5.90zM126.05 126.41h5.90v2.45h-5.90zM126.05 188.13h5.90v4.66h-5.90zM126.05 252.05h5.90v4.66h-5.90zM126.05 293.93h5.90v2.45h-5.90zM126.05 300.55h5.90v4.66h-5.90zM126.05 311.57h5.90v2.45h-5.90zM126.05 324.79h5.90v2.45h-5.90zM126.05 329.20h5.90v2.45h-5.90zM126.05 333.61h5.90v4.66h-5.90zM126.05 357.86h5.90v2.45h-5.90zM126.05 368.88h5.90v2.45h-5.90zM126.05 382.10h5.90v2.45h-5.90zM126.05 410.76h5.90v2.45h-5.90zM126.05 450.43h5.90v4.66h-5.90zM126.05 468.07h5.90v2.45h-5.90zM126.05 474.68h5.90v2.45h-5.90zM131.70 168.29h5.90v2.45h-5.90zM131.70 199.15h5.90v2.45h-5.90zM131.70 214.58h5.90v2.45h-5.90zM131.70 282.91h5.90v2.45h-5.90zM131.70 291.73h5.90v2.45h-5.90zM131.70 309.36h5.90v2.45h-5.90zM131.70 315.98h5.90v2.45h-5.90zM131.70 344.63h5.90v2.45h-5.90zM131.70 349.04h5.90v2.45h-5.90zM131.70 355.65h5.90v2.45h-5.90zM131.70 377.69h5.90v4.66h-5.90zM131.70 390.92h5.90v2.45h-5.90zM131.70 459.25h5.90v2.45h-5.90zM131.70 474.68h5.90v2.45h-5.90zM131.70 483.50h5.90v2.45h-5.90zM137.35 84.53h5.90v2.45h-5.90zM137.35 91.15h5.90v2.45h-5.90zM137.35 117.60h5.90v2.45h-5.90zM137.35 122.01h5.90v2.45h-5.90zM137.35 155.07h5.90v2.45h-5.90zM137.35 322.59h5.90v2.45h-5.90zM137.35 346.84h5.90v2.45h-5.90zM137.35 353.45h5.90v2.45h-5.90zM137.35 410.76h5.90v2.45h-5.90zM137.35 417.37h5.90v4.66h-5.90zM137.35 435.00h5.90v2.45h-5.90zM137.35 454.84h5.90v2.45h-5.90zM137.35 463.66h5.90v2.45h-5.90zM143.00 97.76h5.90v2.45h-5.90zM143.00 110.99h5.90v2.45h-5.90zM143.00 139.64h5.90v2.45h-5.90zM143.00 161.68h5.90v2.45h-5.90zM143.00 168.29h5.90v2.45h-5.90zM143.00 192.54h5.90v4.66h-5.90zM143.00 201.36h5.90v2.45h-5.90zM143.00 274.10h5.90v2.45h-5.90zM143.00 278.50h5.90v4.66h-5.90zM143.00 327.00h5.90v2.45h-5.90zM143.00 362.26h5.90v2.45h-5.90zM143.00 412.96h5.90v4.66h-5.90zM143.00 428.39h5.90v2.45h-5.90zM143.00 441.62h5.90v2.45h-5.90zM148.65 110.99h5.90v4.66h-5.90zM148.65 122.01h5.90v2.45h-5.90zM148.65 133.03h5.90v4.66h-5.90zM148.65 141.84h5.90v2.45h-5.90zM148.65 146.25h5.90v2.45h-5.90zM148.65 177.11h5.90v2.45h-5.90zM148.65 181.52h5.90v2.45h-5.90zM148.65 300.55h5.90v2.45h-5.90zM148.65 349.04h5.90v2.45h-5.90zM148.65 479.09h5.90v2.45h-5.90zM154.30 110.99h5.90v2.45h-5.90zM154.30 133.03h5.90v2.45h-5.90zM154.30 146.25h5.90v2.45h-5.90zM154.30 150.66h5.90v2.45h-5.90zM154.30 190.34h5.90v2.45h-5.90zM154.30 252.05h5.90v2.45h-5.90zM154.30 256.46h5.90v2.45h-5.90zM154.30 271.89h5.90v2.45h-5.90zM154.30 282.91h5.90v4.66h-5.90zM154.30 291.73h5.90v2.45h-5.90zM154.30 298.34h5.90v2.45h-5.90zM159.95 141.84h5.90v2.45h-5.90zM159.95 159.48h5.90v2.45h-5.90zM159.95 190.34h5.90v2.45h-5.90zM159.95 196.95h5.90v2.45h-5.90zM159.95 296.14h5.90v9.07h-5.90zM159.95 331.41h5.90v2.45h-5.90zM159.95 349.04h5.90v2.45h-5.90zM159.95 366.67h5.90v2.45h-5.90zM159.95 379.90h5.90v2.45h-5.90zM159.95 401.94h5.90v2.45h-5.90zM159.95 450.43h5.90v2.45h-5.90zM165.60 137.44h5.90v4.66h-5.90zM165.60 155.07h5.90v2.45h-5.90zM165.60 181.52h5.90v2.45h-5.90zM165.60 207.97h5.90v2.45h-5.90zM165.60 214.58h5.90v2.45h-5.90zM165.60 263.08h5.90v2.45h-5.90zM165.60 285.12h5.90v2.45h-5.90zM165.60 291.73h5.90v2.45h-5.90zM165.60 313.77h5.90v2.45h-5.90zM165.60 331.41h5.90v2.45h-5.90zM165.60 335.81h5.90v2.45h-5.90zM165.60 344.63h5.90v2.45h-5.90zM165.60 357.86h5.90v2.45h-5.90zM165.60 368.88h5.90v2.45h-5.90zM165.60 379.90h5.90v2.45h-5.90zM165.60 393.12h5.90v2.45h-5.90zM165.60 415.17h5.90v2.45h-5.90zM165.60 446.02h5.90v2.45h-5.90zM165.60 483.50h5.90v2.45h-5.90zM171.25 135.23h5.90v2.45h-5.90zM171.25 141.84h5.90v2.45h-5.90zM171.25 148.46h5.90v4.66h-5.90zM171.25 157.27h5.90v2.45h-5.90zM171.25 179.32h5.90v2.45h-5.90zM171.25 260.87h5.90v4.66h-5.90zM171.25 269.69h5.90v2.45h-5.90zM171.25 285.12h5.90v6.86h-5.90zM171.25 329.20h5.90v2.45h-5.90zM171.25 333.61h5.90v2.45h-5.90zM171.25 373.29h5.90v2.45h-5.90zM171.25 386.51h5.90v2.45h-5.90zM171.25 404.14h5.90v2.45h-5.90zM171.25 419.57h5.90v4.66h-5.90zM171.25 476.88h5.90v4.66h-5.90zM176.90 119.80h5.90v2.45h-5.90zM176.90 150.66h5.90v2.45h-5.90zM176.90 161.68h5.90v4.66h-5.90zM176.90 188.13h5.90v2.45h-5.90zM176.90 282.91h5.90v2.45h-5.90zM176.90 384.31h5.90v2.45h-5.90zM176.90 441.62h5.90v2.45h-5.90zM176.90 463.66h5.90v2.45h-5.90zM176.90 468.07h5.90v2.45h-5.90zM176.90 472.47h5.90v2.45h-5.90zM182.55 137.44h5.90v4.66h-5.90zM182.55 144.05h5.90v2.45h-5.90zM182.55 161.68h5.90v2.45h-5.90zM182.55 203.56h5.90v2.45h-5.90zM182.55 212.38h5.90v2.45h-5.90zM182.55 221.20h5.90v2.45h-5.90zM182.55 291.73h5.90v4.66h-5.90zM182.55 329.20h5.90v2.45h-5.90zM182.55 335.81h5.90v2.45h-5.90zM182.55 344.63h5.90v2.45h-5.90zM182.55 364.47h5.90v2.45h-5.90zM182.55 428.39h5.90v2.45h-5.90zM182.55 432.80h5.90v2.45h-5.90zM182.55 437.21h5.90v2.45h-5.90zM182.55 470.27h5.90v2.45h-5.90z"/>
<path fill="#d4cae5" d="M52.60 14.00h5.90v2.45h-5.90zM52.60 31.63h5.90v4.66h-5.90zM52.60 47.06h5.90v2.45h-5.90zM52.60 69.11h5.90v2.45h-5.90zM52.60 97.76h5.90v2.45h-5.90zM52.60 139.64h5.90v2.45h-5.90zM52.60 236.62h5.90v2.45h-5.90zM52.60 245.44h5.90v2.45h-5.90zM52.60 263.08h5.90v2.45h-5.90zM52.60 274.10h5.90v2.45h-5.90zM52.60 304.96h5.90v2.45h-5.90zM52.60 360.06h5.90v2.45h-5.90zM52.60 368.88h5.90v2.45h-5.90zM52.60 397.53h5.90v2.45h-5.90zM52.60 421.78h5.90v2.45h-5.90zM52.60 437.21h5.90v2.45h-5.90zM58.25 31.63h5.90v2.45h-5.90zM58.25 42.65h5.90v2.45h-5.90zM58.25 53.68h5.90v2.45h-5.90zM58.25 69.11h5.90v2.45h-5.90zM58.25 95.56h5.90v2.45h-5.90zM58.25 99.96h5.90v4.66h-5.90zM58.25 106.58h5.90v4.66h-5.90zM58.25 130.82h5.90v2.45h-5.90zM58.25 135.23h5.90v2.45h-5.90zM58.25 190.34h5.90v2.45h-5.90zM58.25 194.74h5.90v2.45h-5.90zM58.25 203.56h5.90v2.45h-5.90zM58.25 227.81h5.90v2.45h-5.90zM58.25 252.05h5.90v4.66h-5.90zM58.25 260.87h5.90v2.45h-5.90zM58.25 309.36h5.90v4.66h-5.90zM58.25 340.22h5.90v2.45h-5.90zM58.25 410.76h5.90v2.45h-5.90zM58.25 415.17h5.90v2.45h-5.90zM58.25 435.00h5.90v2.45h-5.90zM58.25 439.41h5.90v2.45h-5.90zM63.90 60.29h5.90v2.45h-5.90zM63.90 73.51h5.90v2.45h-5.90zM63.90 77.92h5.90v6.86h-5.90zM63.90 130.82h5.90v2.45h-5.90zM63.90 247.65h5.90v2.45h-5.90zM63.90 304.96h5.90v2.45h-5.90zM63.90 311.57h5.90v2.45h-5.90zM63.90 395.33h5.90v2.45h-5.90zM63.90 428.39h5.90v9.07h-5.90zM63.90 441.62h5.90v2.45h-5.90zM69.55 20.61h5.90v2.45h-5.90zM69.55 36.04h5.90v2.45h-5.90zM69.55 53.68h5.90v2.45h-5.90zM69.55 64.70h5.90v2.45h-5.90zM69.55 69.11h5.90v2.45h-5.90zM69.55 84.53h5.90v2.45h-5.90zM69.55 124.21h5.90v2.45h-5.90zM69.55 161.68h5.90v2.45h-5.90zM69.55 183.72h5.90v2.45h-5.90zM69.55 201.36h5.90v4.66h-5.90zM69.55 216.79h5.90v2.45h-5.90zM69.55 221.20h5.90v2.45h-5.90zM69.55 265.28h5.90v2.45h-5.90zM69.55 311.57h5.90v2.45h-5.90zM69.55 315.98h5.90v2.45h-5.90zM69.55 362.26h5.90v2.45h-5.90zM69.55 401.94h5.90v2.45h-5.90zM75.20 58.08h5.90v2.45h-5.90zM75.20 91.15h5.90v2.45h-5.90zM75.20 108.78h5.90v2.45h-5.90zM75.20 119.80h5.90v4.66h-5.90zM75.20 135.23h5.90v2.45h-5.90zM75.20 205.77h5.90v2.45h-5.90zM75.20 238.83h5.90v4.66h-5.90zM75.20 296.14h5.90v2.45h-5.90zM75.20 300.55h5.90v2.45h-5.90zM75.20 335.81h5.90v2.45h-5.90zM75.20 349.04h5.90v2.45h-5.90zM75.20 357.86h5.90v2.45h-5.90zM75.20 452.64h5.90v2.45h-5.90zM80.85 33.84h5.90v2.45h-5.90zM80.85 49.27h5.90v2.45h-5.90zM80.85 62.49h5.90v2.45h-5.90zM80.85 102.17h5.90v2.45h-5.90zM80.85 108.78h5.90v2.45h-5.90zM80.85 130.82h5.90v2.45h-5.90zM80.85 144.05h5.90v2.45h-5.90zM80.85 190.34h5.90v2.45h-5.90zM80.85 205.77h5.90v2.45h-5.90zM80.85 214.58h5.90v2.45h-5.90zM80.85 227.81h5.90v2.45h-5.90zM80.85 232.22h5.90v4.66h-5.90zM80.85 241.03h5.90v2.45h-5.90zM80.85 252.05h5.90v2.45h-5.90zM80.85 278.50h5.90v2.45h-5.90zM80.85 296.14h5.90v2.45h-5.90zM80.85 379.90h5.90v4.66h-5.90zM80.85 417.37h5.90v2.45h-5.90zM80.85 421.78h5.90v2.45h-5.90zM80.85 426.19h5.90v2.45h-5.90zM86.50 66.90h5.90v2.45h-5.90zM86.50 115.39h5.90v2.45h-5.90zM86.50 185.93h5.90v2.45h-5.90zM86.50 190.34h5.90v2.45h-5.90zM86.50 194.74h5.90v2.45h-5.90zM86.50 212.38h5.90v2.45h-5.90zM86.50 236.62h5.90v2.45h-5.90zM86.50 289.53h5.90v2.45h-5.90zM92.15 40.45h5.90v2.45h-5.90zM92.15 47.06h5.90v2.45h-5.90zM92.15 55.88h5.90v2.45h-5.90zM92.15 93.35h5.90v2.45h-5.90zM92.15 148.46h5.90v2.45h-5.90zM92.15 201.36h5.90v4.66h-5.90zM92.15 218.99h5.90v2.45h-5.90zM92.15 271.89h5.90v2.45h-5.90zM92.15 382.10h5.90v2.45h-5.90zM92.15 386.51h5.90v2.45h-5.90zM92.15 426.19h5.90v4.66h-5.90zM97.80 42.65h5.90v2.45h-5.90zM97.80 55.88h5.90v2.45h-5.90zM97.80 66.90h5.90v2.45h-5.90zM97.80 99.96h5.90v2.45h-5.90zM97.80 104.37h5.90v2.45h-5.90zM97.80 110.99h5.90v2.45h-5.90zM97.80 119.80h5.90v2.45h-5.90zM97.80 137.44h5.90v2.45h-5.90zM97.80 185.93h5.90v2.45h-5.90zM97.80 232.22h5.90v2.45h-5.90zM97.80 423.98h5.90v2.45h-5.90zM97.80 428.39h5.90v2.45h-5.90zM103.45 42.65h5.90v2.45h-5.90zM103.45 95.56h5.90v4.66h-5.90zM103.45 128.62h5.90v4.66h-5.90zM103.45 150.66h5.90v2.45h-5.90zM103.45 225.60h5.90v2.45h-5.90zM103.45 230.01h5.90v2.45h-5.90zM103.45 408.55h5.90v4.66h-5.90zM109.10 14.00h5.90v2.45h-5.90zM109.10 42.65h5.90v2.45h-5.90zM109.10 77.92h5.90v2.45h-5.90zM109.10 86.74h5.90v4.66h-5.90zM109.10 115.39h5.90v2.45h-5.90zM109.10 139.64h5.90v2.45h-5.90zM109.10 166.09h5.90v2.45h-5.90zM109.10 170.50h5.90v2.45h-5.90zM109.10 234.42h5.90v2.45h-5.90zM109.10 241.03h5.90v2.45h-5.90zM109.10 254.26h5.90v2.45h-5.90zM109.10 260.87h5.90v2.45h-5.90zM109.10 296.14h5.90v2.45h-5.90zM109.10 360.06h5.90v4.66h-5.90zM109.10 384.31h5.90v2.45h-5.90zM109.10 393.12h5.90v2.45h-5.90zM109.10 397.53h5.90v2.45h-5.90zM109.10 432.80h5.90v2.45h-5.90zM114.75 82.33h5.90v2.45h-5.90zM114.75 119.80h5.90v4.66h-5.90zM114.75 128.62h5.90v2.45h-5.90zM114.75 179.32h5.90v2.45h-5.90zM114.75 218.99h5.90v2.45h-5.90zM114.75 223.40h5.90v2.45h-5.90zM114.75 254.26h5.90v2.45h-5.90zM114.75 276.30h5.90v2.45h-5.90zM114.75 349.04h5.90v2.45h-5.90zM114.75 355.65h5.90v2.45h-5.90zM114.75 404.14h5.90v2.45h-5.90zM114.75 421.78h5.90v2.45h-5.90zM120.40 22.82h5.90v2.45h-5.90zM120.40 31.63h5.90v2.45h-5.90zM120.40 62.49h5.90v2.45h-5.90zM120.40 77.92h5.90v2.45h-5.90zM120.40 210.17h5.90v2.45h-5.90zM120.40 256.46h5.90v2.45h-5.90zM120.40 265.28h5.90v2.45h-5.90zM120.40 289.53h5.90v2.45h-5.90zM120.40 293.93h5.90v2.45h-5.90zM120.40 315.98h5.90v2.45h-5.90zM120.40 320.38h5.90v2.45h-5.90zM120.40 324.79h5.90v2.45h-5.90zM120.40 366.67h5.90v2.45h-5.90zM120.40 384.31h5.90v2.45h-5.90zM120.40 395.33h5.90v2.45h-5.90zM120.40 401.94h5.90v4.66h-5.90zM120.40 408.55h5.90v2.45h-5.90zM120.40 446.02h5.90v2.45h-5.90zM126.05 40.45h5.90v2.45h-5.90zM126.05 84.53h5.90v6.86h-5.90zM126.05 113.19h5.90v2.45h-5.90zM126.05 117.60h5.90v2.45h-5.90zM126.05 124.21h5.90v2.45h-5.90zM126.05 181.52h5.90v2.45h-5.90zM126.05 192.54h5.90v2.45h-5.90zM126.05 269.69h5.90v6.86h-5.90zM126.05 296.14h5.90v2.45h-5.90zM126.05 313.77h5.90v2.45h-5.90zM126.05 331.41h5.90v2.45h-5.90zM126.05 344.63h5.90v2.45h-5.90zM126.05 408.55h5.90v2.45h-5.90zM126.05 412.96h5.90v2.45h-5.90zM126.05 437.21h5.90v4.66h-5.90zM126.05 443.82h5.90v2.45h-5.90zM131.70 97.76h5.90v2.45h-5.90zM131.70 113.19h5.90v2.45h-5.90zM131.70 146.25h5.90v2.45h-5.90zM131.70 157.27h5.90v2.45h-5.90zM131.70 161.68h5.90v6.86h-5.90zM131.70 170.50h5.90v2.45h-5.90zM131.70 221.20h5.90v4.66h-5.90zM131.70 278.50h5.90v2.45h-5.90zM131.70 304.96h5.90v2.45h-5.90zM131.70 338.02h5.90v4.66h-5.90zM131.70 346.84h5.90v2.45h-5.90zM131.70 351.24h5.90v2.45h-5.90zM131.70 368.88h5.90v2.45h-5.90zM131.70 452.64h5.90v2.45h-5.90zM131.70 463.66h5.90v2.45h-5.90zM137.35 115.39h5.90v2.45h-5.90zM137.35 126.41h5.90v2.45h-5.90zM137.35 146.25h5.90v2.45h-5.90zM137.35 159.48h5.90v2.45h-5.90zM137.35 166.09h5.90v2.45h-5.90zM137.35 183.72h5.90v2.45h-5.90zM137.35 190.34h5.90v4.66h-5.90zM137.35 241.03h5.90v2.45h-5.90zM137.35 289.53h5.90v2.45h-5.90zM137.35 293.93h5.90v2.45h-5.90zM137.35 379.90h5.90v4.66h-5.90zM137.35 428.39h5.90v2.45h-5.90zM137.35 474.68h5.90v2.45h-5.90zM137.35 481.29h5.90v2.45h-5.90zM143.00 64.70h5.90v2.45h-5.90zM143.00 71.31h5.90v2.45h-5.90zM143.00 104.37h5.90v2.45h-5.90zM143.00 146.25h5.90v2.45h-5.90zM143.00 157.27h5.90v2.45h-5.90zM143.00 170.50h5.90v2.45h-5.90zM143.00 177.11h5.90v2.45h-5.90zM143.00 199.15h5.90v2.45h-5.90zM143.00 260.87h5.90v2.45h-5.90zM143.00 276.30h5.90v2.45h-5.90zM143.00 282.91h5.90v2.45h-5.90zM143.00 287.32h5.90v4.66h-5.90zM143.00 309.36h5.90v2.45h-5.90zM143.00 338.02h5.90v2.45h-5.90zM143.00 344.63h5.90v2.45h-5.90zM143.00 349.04h5.90v2.45h-5.90zM143.00 360.06h5.90v2.45h-5.90zM143.00 382.10h5.90v2.45h-5.90zM143.00 419.57h5.90v2.45h-5.90zM143.00 443.82h5.90v2.45h-5.90zM148.65 115.39h5.90v4.66h-5.90zM148.65 126.41h5.90v2.45h-5.90zM148.65 130.82h5.90v2.45h-5.90zM148.65 137.44h5.90v2.45h-5.90zM148.65 150.66h5.90v2.45h-5.90zM148.65 196.95h5.90v2.45h-5.90zM148.65 212.38h5.90v2.45h-5.90zM148.65 269.69h5.90v2.45h-5.90zM148.65 386.51h5.90v4.66h-5.90zM148.65 454.84h5.90v2.45h-5.90zM148.65 481.29h5.90v2.45h-5.90zM154.30 84.53h5.90v4.66h-5.90zM154.30 93.35h5.90v2.45h-5.90zM154.30 99.96h5.90v2.45h-5.90zM154.30 113.19h5.90v2.45h-5.90zM154.30 122.01h5.90v2.45h-5.90zM154.30 152.86h5.90v2.45h-5.90zM154.30 194.74h5.90v4.66h-5.90zM154.30 225.60h5.90v2.45h-5.90zM154.30 276.30h5.90v2.45h-5.90zM154.30 296.14h5.90v2.45h-5.90zM154.30 302.75h5.90v2.45h-5.90zM154.30 327.00h5.90v2.45h-5.90zM159.95 128.62h5.90v2.45h-5.90zM159.95 133.03h5.90v2.45h-5.90zM159.95 137.44h5.90v4.66h-5.90zM159.95 152.86h5.90v2.45h-5.90zM159.95 194.74h5.90v2.45h-5.90zM159.95 249.85h5.90v2.45h-5.90zM159.95 333.61h5.90v6.86h-5.90zM159.95 344.63h5.90v2.45h-5.90zM159.95 373.29h5.90v2.45h-5.90zM159.95 472.47h5.90v2.45h-5.90zM165.60 174.91h5.90v2.45h-5.90zM165.60 190.34h5.90v2.45h-5.90zM165.60 210.17h5.90v2.45h-5.90zM165.60 278.50h5.90v2.45h-5.90zM165.60 377.69h5.90v2.45h-5.90zM165.60 417.37h5.90v2.45h-5.90zM165.60 450.43h5.90v4.66h-5.90zM165.60 463.66h5.90v2.45h-5.90zM165.60 470.27h5.90v2.45h-5.90zM171.25 55.88h5.90v2.45h-5.90zM171.25 122.01h5.90v2.45h-5.90zM171.25 128.62h5.90v2.45h-5.90zM171.25 146.25h5.90v2.45h-5.90zM171.25 161.68h5.90v2.45h-5.90zM171.25 172.70h5.90v2.45h-5.90zM171.25 177.11h5.90v2.45h-5.90zM171.25 225.60h5.90v2.45h-5.90zM171.25 234.42h5.90v2.45h-5.90zM171.25 265.28h5.90v2.45h-5.90zM171.25 318.18h5.90v2.45h-5.90zM171.25 335.81h5.90v2.45h-5.90zM171.25 371.08h5.90v2.45h-5.90zM171.25 377.69h5.90v2.45h-5.90zM171.25 446.02h5.90v4.66h-5.90zM171.25 452.64h5.90v2.45h-5.90zM171.25 459.25h5.90v2.45h-5.90zM176.90 110.99h5.90v2.45h-5.90zM176.90 141.84h5.90v2.45h-5.90zM176.90 168.29h5.90v2.45h-5.90zM176.90 196.95h5.90v2.45h-5.90zM176.90 296.14h5.90v2.45h-5.90zM176.90 304.96h5.90v2.45h-5.90zM176.90 452.64h5.90v2.45h-5.90zM182.55 155.07h5.90v2.45h-5.90zM182.55 177.11h5.90v2.45h-5.90zM182.55 223.40h5.90v2.45h-5.90zM182.55 241.03h5.90v2.45h-5.90zM182.55 300.55h5.90v2.45h-5.90zM182.55 309.36h5.90v2.45h-5.90zM182.55 313.77h5.90v2.45h-5.90zM182.55 327.00h5.90v2.45h-5.90zM182.55 439.41h5.90v2.45h-5.90zM182.55 446.02h5.90v2.45h-5.90zM182.55 468.07h5.90v2.45h-5.90zM182.55 472.47h5.90v4.66h-5.90z"/>
<path fill="#e1d9ea" d="M52.60 20.61h5.90v2.45h-5.90zM52.60 44.86h5.90v2.45h-5.90zM52.60 71.31h5.90v2.45h-5.90zM52.60 82.33h5.90v2.45h-5.90zM52.60 102.17h5.90v2.45h-5.90zM52.60 106.58h5.90v2.45h-5.90zM52.60 119.80h5.90v2.45h-5.90zM52.60 238.83h5.90v2.45h-5.90zM52.60 258.67h5.90v2.45h-5.90zM52.60 415.17h5.90v2.45h-5.90zM52.60 483.50h5.90v2.45h-5.90zM58.25 14.00h5.90v2.45h-5.90zM58.25 33.84h5.90v2.45h-5.90zM58.25 93.35h5.90v2.45h-5.90zM58.25 150.66h5.90v2.45h-5.90zM58.25 163.89h5.90v2.45h-5.90zM58.25 177.11h5.90v2.45h-5.90zM58.25 225.60h5.90v2.45h-5.90zM58.25 265.28h5.90v2.45h-5.90zM58.25 307.16h5.90v2.45h-5.90zM58.25 333.61h5.90v6.86h-5.90zM58.25 346.84h5.90v2.45h-5.90zM58.25 364.47h5.90v2.45h-5.90zM58.25 368.88h5.90v2.45h-5.90zM58.25 377.69h5.90v2.45h-5.90zM58.25 417.37h5.90v4.66h-5.90zM63.90 16.20h5.90v2.45h-5.90zM63.90 58.08h5.90v2.45h-5.90zM63.90 88.94h5.90v2.45h-5.90zM63.90 137.44h5.90v2.45h-5.90zM63.90 318.18h5.90v2.45h-5.90zM63.90 353.45h5.90v2.45h-5.90zM63.90 364.47h5.90v2.45h-5.90zM63.90 412.96h5.90v2.45h-5.90zM69.55 51.47h5.90v2.45h-5.90zM69.55 159.48h5.90v2.45h-5.90zM69.55 212.38h5.90v2.45h-5.90zM69.55 274.10h5.90v2.45h-5.90zM69.55 307.16h5.90v2.45h-5.90zM69.55 410.76h5.90v4.66h-5.90zM69.55 426.19h5.90v2.45h-5.90zM75.20 69.11h5.90v2.45h-5.90zM75.20 80.13h5.90v2.45h-5.90zM75.20 84.53h5.90v2.45h-5.90zM75.20 88.94h5.90v2.45h-5.90zM75.20 133.03h5.90v2.45h-5.90zM75.20 152.86h5.90v2.45h-5.90zM75.20 185.93h5.90v2.45h-5.90zM75.20 210.17h5.90v2.45h-5.90zM75.20 245.44h5.90v2.45h-5.90zM75.20 265.28h5.90v2.45h-5.90zM75.20 298.34h5.90v2.45h-5.90zM75.20 302.75h5.90v2.45h-5.90zM75.20 322.59h5.90v2.45h-5.90zM75.20 327.00h5.90v4.66h-5.90zM75.20 384.31h5.90v4.66h-5.90zM75.20 397.53h5.90v2.45h-5.90zM75.20 426.19h5.90v2.45h-5.90zM75.20 430.59h5.90v2.45h-5.90zM75.20 448.23h5.90v2.45h-5.90zM80.85 60.29h5.90v2.45h-5.90zM80.85 66.90h5.90v2.45h-5.90zM80.85 113.19h5.90v2.45h-5.90zM80.85 124.21h5.90v2.45h-5.90zM80.85 152.86h5.90v2.45h-5.90zM80.85 177.11h5.90v2.45h-5.90zM80.85 236.62h5.90v2.45h-5.90zM80.85 247.65h5.90v2.45h-5.90zM80.85 300.55h5.90v2.45h-5.90zM80.85 357.86h5.90v2.45h-5.90zM80.85 377.69h5.90v2.45h-5.90zM80.85 393.12h5.90v2.45h-5.90zM80.85 412.96h5.90v2.45h-5.90zM80.85 428.39h5.90v2.45h-5.90zM86.50 27.23h5.90v2.45h-5.90zM86.50 40.45h5.90v2.45h-5.90zM86.50 44.86h5.90v2.45h-5.90zM86.50 73.51h5.90v2.45h-5.90zM86.50 93.35h5.90v2.45h-5.90zM86.50 110.99h5.90v2.45h-5.90zM86.50 225.60h5.90v2.45h-5.90zM86.50 399.74h5.90v4.66h-5.90zM86.50 406.35h5.90v4.66h-5.90zM92.15 25.02h5.90v2.45h-5.90zM92.15 42.65h5.90v2.45h-5.90zM92.15 86.74h5.90v4.66h-5.90zM92.15 133.03h5.90v2.45h-5.90zM92.15 157.27h5.90v4.66h-5.90zM92.15 188.13h5.90v2.45h-5.90zM92.15 207.97h5.90v4.66h-5.90zM92.15 227.81h5.90v2.45h-5.90zM92.15 234.42h5.90v2.45h-5.90zM92.15 249.85h5.90v2.45h-5.90zM92.15 269.69h5.90v2.45h-5.90zM92.15 274.10h5.90v2.45h-5.90zM92.15 353.45h5.90v2.45h-5.90zM92.15 375.49h5.90v2.45h-5.90zM97.80 122.01h5.90v2.45h-5.90zM97.80 144.05h5.90v2.45h-5.90zM97.80 181.52h5.90v2.45h-5.90zM97.80 265.28h5.90v4.66h-5.90zM97.80 360.06h5.90v2.45h-5.90zM97.80 371.08h5.90v2.45h-5.90zM97.80 419.57h5.90v2.45h-5.90zM97.80 441.62h5.90v2.45h-5.90zM103.45 22.82h5.90v2.45h-5.90zM103.45 44.86h5.90v2.45h-5.90zM103.45 49.27h5.90v2.45h-5.90zM103.45 66.90h5.90v2.45h-5.90zM103.45 71.31h5.90v2.45h-5.90zM103.45 221.20h5.90v2.45h-5.90zM103.45 393.12h5.90v2.45h-5.90zM103.45 412.96h5.90v2.45h-5.90zM109.10 16.20h5.90v2.45h-5.90zM109.10 20.61h5.90v2.45h-5.90zM109.10 51.47h5.90v2.45h-5.90zM109.10 58.08h5.90v4.66h-5.90zM109.10 144.05h5.90v2.45h-5.90zM109.10 177.11h5.90v2.45h-5.90zM109.10 218.99h5.90v2.45h-5.90zM109.10 236.62h5.90v2.45h-5.90zM109.10 245.44h5.90v2.45h-5.90zM109.10 265.28h5.90v4.66h-5.90zM109.10 278.50h5.90v2.45h-5.90zM109.10 282.91h5.90v2.45h-5.90zM109.10 307.16h5.90v2.45h-5.90zM109.10 355.65h5.90v4.66h-5.90zM109.10 412.96h5.90v2.45h-5.90zM114.75 47.06h5.90v2.45h-5.90zM114.75 110.99h5.90v2.45h-5.90zM114.75 135.23h5.90v4.66h-5.90zM114.75 141.84h5.90v2.45h-5.90zM114.75 214.58h5.90v2.45h-5.90zM114.75 238.83h5.90v2.45h-5.90zM114.75 298.34h5.90v2.45h-5.90zM114.75 353.45h5.90v2.45h-5.90zM114.75 366.67h5.90v2.45h-5.90zM114.75 408.55h5.90v2.45h-5.90zM114.75 468.07h5.90v2.45h-5.90zM120.40 69.11h5.90v2.45h-5.90zM120.40 82.33h5.90v2.45h-5.90zM120.40 86.74h5.90v2.45h-5.90zM120.40 102.17h5.90v2.45h-5.90zM120.40 106.58h5.90v2.45h-5.90zM120.40 146.25h5.90v2.45h-5.90zM120.40 157.27h5.90v2.45h-5.90zM120.40 185.93h5.90v2.45h-5.90zM120.40 199.15h5.90v2.45h-5.90zM120.40 203.56h5.90v4.66h-5.90zM120.40 234.42h5.90v2.45h-5.90zM120.40 267.48h5.90v2.45h-5.90zM120.40 276.30h5.90v2.45h-5.90zM120.40 313.77h5.90v2.45h-5.90zM120.40 331.41h5.90v2.45h-5.90zM120.40 355.65h5.90v4.66h-5.90zM120.40 368.88h5.90v2.45h-5.90zM120.40 390.92h5.90v2.45h-5.90zM120.40 397.53h5.90v2.45h-5.90zM120.40 450.43h5.90v2.45h-5.90zM120.40 476.88h5.90v4.66h-5.90zM126.05 42.65h5.90v2.45h-5.90zM126.05 62.49h5.90v4.66h-5.90zM126.05 110.99h5.90v2.45h-5.90zM126.05 119.80h5.90v2.45h-5.90zM126.05 256.46h5.90v2.45h-5.90zM126.05 287.32h5.90v2.45h-5.90zM126.05 298.34h5.90v2.45h-5.90zM126.05 304.96h5.90v4.66h-5.90zM126.05 338.02h5.90v4.66h-5.90zM126.05 371.08h5.90v2.45h-5.90zM126.05 470.27h5.90v2.45h-5.90zM131.70 99.96h5.90v2.45h-5.90zM131.70 110.99h5.90v2.45h-5.90zM131.70 124.21h5.90v2.45h-5.90zM131.70 133.03h5.90v2.45h-5.90zM131.70 150.66h5.90v2.45h-5.90zM131.70 194.74h5.90v4.66h-5.90zM131.70 207.97h5.90v2.45h-5.90zM131.70 212.38h5.90v2.45h-5.90zM131.70 216.79h5.90v2.45h-5.90zM131.70 313.77h5.90v2.45h-5.90zM131.70 318.18h5.90v2.45h-5.90zM131.70 373.29h5.90v2.45h-5.90zM131.70 472.47h5.90v2.45h-5.90zM137.35 49.27h5.90v2.45h-5.90zM137.35 113.19h5.90v2.45h-5.90zM137.35 124.21h5.90v2.45h-5.90zM137.35 128.62h5.90v2.45h-5.90zM137.35 133.03h5.90v2.45h-5.90zM137.35 137.44h5.90v4.66h-5.90zM137.35 161.68h5.90v2.45h-5.90zM137.35 168.29h5.90v2.45h-5.90zM137.35 174.91h5.90v2.45h-5.90zM137.35 196.95h5.90v2.45h-5.90zM137.35 311.57h5.90v2.45h-5.90zM137.35 327.00h5.90v2.45h-5.90zM137.35 349.04h5.90v2.45h-5.90zM137.35 472.47h5.90v2.45h-5.90zM137.35 483.50h5.90v2.45h-5.90zM143.00 33.84h5.90v2.45h-5.90zM143.00 86.74h5.90v2.45h-5.90zM143.00 99.96h5.90v2.45h-5.90zM143.00 150.66h5.90v2.45h-5.90zM143.00 185.93h5.90v2.45h-5.90zM143.00 205.77h5.90v2.45h-5.90zM143.00 212.38h5.90v2.45h-5.90zM143.00 230.01h5.90v2.45h-5.90zM143.00 238.83h5.90v2.45h-5.90zM143.00 252.05h5.90v2.45h-5.90zM143.00 267.48h5.90v2.45h-5.90zM143.00 285.12h5.90v2.45h-5.90zM143.00 311.57h5.90v2.45h-5.90zM143.00 318.18h5.90v2.45h-5.90zM143.00 340.22h5.90v2.45h-5.90zM148.65 152.86h5.90v4.66h-5.90zM148.65 179.32h5.90v2.45h-5.90zM148.65 194.74h5.90v2.45h-5.90zM148.65 207.97h5.90v2.45h-5.90zM148.65 271.89h5.90v2.45h-5.90zM148.65 457.05h5.90v4.66h-5.90zM148.65 483.50h5.90v2.45h-5.90zM154.30 95.56h5.90v2.45h-5.90zM154.30 108.78h5.90v2.45h-5.90zM154.30 115.39h5.90v4.66h-5.90zM154.30 148.46h5.90v2.45h-5.90zM154.30 192.54h5.90v2.45h-5.90zM154.30 218.99h5.90v4.66h-5.90zM154.30 245.44h5.90v2.45h-5.90zM154.30 269.69h5.90v2.45h-5.90zM154.30 278.50h5.90v2.45h-5.90zM154.30 331.41h5.90v2.45h-5.90zM154.30 446.02h5.90v2.45h-5.90zM159.95 126.41h5.90v2.45h-5.90zM159.95 144.05h5.90v2.45h-5.90zM159.95 155.07h5.90v2.45h-5.90zM159.95 192.54h5.90v2.45h-5.90zM159.95 201.36h5.90v2.45h-5.90zM159.95 227.81h5.90v2.45h-5.90zM159.95 232.22h5.90v2.45h-5.90zM159.95 245.44h5.90v2.45h-5.90zM159.95 274.10h5.90v2.45h-5.90zM159.95 355.65h5.90v2.45h-5.90zM159.95 461.45h5.90v2.45h-5.90zM165.60 144.05h5.90v2.45h-5.90zM165.60 161.68h5.90v2.45h-5.90zM165.60 170.50h5.90v2.45h-5.90zM165.60 203.56h5.90v2.45h-5.90zM165.60 212.38h5.90v2.45h-5.90zM165.60 245.44h5.90v2.45h-5.90zM165.60 260.87h5.90v2.45h-5.90zM165.60 280.71h5.90v2.45h-5.90zM165.60 322.59h5.90v2.45h-5.90zM165.60 342.43h5.90v2.45h-5.90zM165.60 346.84h5.90v2.45h-5.90zM165.60 364.47h5.90v2.45h-5.90zM165.60 448.23h5.90v2.45h-5.90zM165.60 472.47h5.90v2.45h-5.90zM165.60 481.29h5.90v2.45h-5.90zM171.25 144.05h5.90v2.45h-5.90zM171.25 199.15h5.90v2.45h-5.90zM171.25 227.81h5.90v2.45h-5.90zM171.25 238.83h5.90v2.45h-5.90zM171.25 245.44h5.90v4.66h-5.90zM171.25 267.48h5.90v2.45h-5.90zM171.25 327.00h5.90v2.45h-5.90zM171.25 338.02h5.90v2.45h-5.90zM171.25 472.47h5.90v4.66h-5.90zM176.90 214.58h5.90v2.45h-5.90zM176.90 238.83h5.90v4.66h-5.90zM176.90 278.50h5.90v2.45h-5.90zM176.90 311.57h5.90v2.45h-5.90zM176.90 446.02h5.90v2.45h-5.90zM176.90 450.43h5.90v2.45h-5.90zM176.90 474.68h5.90v2.45h-5.90zM176.90 481.29h5.90v2.45h-5.90zM182.55 128.62h5.90v2.45h-5.90zM182.55 133.03h5.90v2.45h-5.90zM182.55 141.84h5.90v2.45h-5.90zM182.55 146.25h5.90v2.45h-5.90zM182.55 152.86h5.90v2.45h-5.90zM182.55 205.77h5.90v2.45h-5.90zM182.55 243.24h5.90v2.45h-5.90zM182.55 252.05h5.90v2.45h-5.90zM182.55 258.67h5.90v2.45h-5.90zM182.55 263.08h5.90v2.45h-5.90zM182.55 285.12h5.90v2.45h-5.90zM182.55 443.82h5.90v2.45h-5.90zM182.55 476.88h5.90v4.66h-5.90z"/>
<path fill="#eee8f0" d="M52.60 108.78h5.90v2.45h-5.90zM52.60 113.19h5.90v2.45h-5.90zM52.60 117.60h5.90v2.45h-5.90zM52.60 137.44h5.90v2.45h-5.90zM52.60 247.65h5.90v2.45h-5.90zM52.60 276.30h5.90v2.45h-5.90zM52.60 291.73h5.90v2.45h-5.90zM52.60 307.16h5.90v2.45h-5.90zM52.60 335.81h5.90v2.45h-5.90zM52.60 346.84h5.90v2.45h-5.90zM52.60 390.92h5.90v2.45h-5.90zM52.60 410.76h5.90v4.66h-5.90zM52.60 417.37h5.90v4.66h-5.90zM58.25 49.27h5.90v2.45h-5.90zM58.25 62.49h5.90v4.66h-5.90zM58.25 133.03h5.90v2.45h-5.90zM58.25 148.46h5.90v2.45h-5.90zM58.25 152.86h5.90v2.45h-5.90zM58.25 249.85h5.90v2.45h-5.90zM58.25 289.53h5.90v2.45h-5.90zM58.25 298.34h5.90v2.45h-5.90zM58.25 327.00h5.90v2.45h-5.90zM58.25 342.43h5.90v2.45h-5.90zM58.25 349.04h5.90v2.45h-5.90zM58.25 375.49h5.90v2.45h-5.90zM58.25 379.90h5.90v2.45h-5.90zM58.25 432.80h5.90v2.45h-5.90zM58.25 470.27h5.90v2.45h-5.90zM63.90 64.70h5.90v2.45h-5.90zM63.90 234.42h5.90v2.45h-5.90zM63.90 300.55h5.90v2.45h-5.90zM63.90 349.04h5.90v2.45h-5.90zM63.90 355.65h5.90v2.45h-5.90zM63.90 360.06h5.90v2.45h-5.90zM63.90 443.82h5.90v2.45h-5.90zM69.55 38.25h5.90v2.45h-5.90zM69.55 207.97h5.90v2.45h-5.90zM69.55 318.18h5.90v2.45h-5.90zM69.55 368.88h5.90v2.45h-5.90zM69.55 417.37h5.90v2.45h-5.90zM69.55 421.78h5.90v2.45h-5.90zM75.20 42.65h5.90v2.45h-5.90zM75.20 47.06h5.90v2.45h-5.90zM75.20 66.90h5.90v2.45h-5.90zM75.20 71.31h5.90v2.45h-5.90zM75.20 82.33h5.90v2.45h-5.90zM75.20 102.17h5.90v2.45h-5.90zM75.20 126.41h5.90v2.45h-5.90zM75.20 130.82h5.90v2.45h-5.90zM75.20 148.46h5.90v2.45h-5.90zM75.20 216.79h5.90v2.45h-5.90zM75.20 351.24h5.90v4.66h-5.90zM75.20 368.88h5.90v2.45h-5.90zM75.20 399.74h5.90v2.45h-5.90zM75.20 441.62h5.90v4.66h-5.90zM80.85 58.08h5.90v2.45h-5.90zM80.85 69.11h5.90v4.66h-5.90zM80.85 97.76h5.90v2.45h-5.90zM80.85 119.80h5.90v2.45h-5.90zM80.85 126.41h5.90v2.45h-5.90zM80.85 150.66h5.90v2.45h-5.90zM80.85 157.27h5.90v2.45h-5.90zM80.85 238.83h5.90v2.45h-5.90zM80.85 245.44h5.90v2.45h-5.90zM80.85 285.12h5.90v2.45h-5.90zM80.85 320.38h5.90v2.45h-5.90zM80.85 351.24h5.90v2.45h-5.90zM80.85 360.06h5.90v2.45h-5.90zM80.85 366.67h5.90v2.45h-5.90zM80.85 386.51h5.90v4.66h-5.90zM80.85 399.74h5.90v2.45h-5.90zM80.85 406.35h5.90v2.45h-5.90zM80.85 443.82h5.90v2.45h-5.90zM86.50 22.82h5.90v4.66h-5.90zM86.50 47.06h5.90v2.45h-5.90zM86.50 104.37h5.90v2.45h-5.90zM86.50 188.13h5.90v2.45h-5.90zM86.50 238.83h5.90v4.66h-5.90zM86.50 282.91h5.90v2.45h-5.90zM86.50 287.32h5.90v2.45h-5.90zM86.50 393.12h5.90v2.45h-5.90zM86.50 437.21h5.90v2.45h-5.90zM86.50 474.68h5.90v2.45h-5.90zM92.15 22.82h5.90v2.45h-5.90zM92.15 27.23h5.90v2.45h-5.90zM92.15 69.11h5.90v2.45h-5.90zM92.15 117.60h5.90v2.45h-5.90zM92.15 122.01h5.90v6.86h-5.90zM92.15 150.66h5.90v2.45h-5.90zM92.15 196.95h5.90v2.45h-5.90zM92.15 223.40h5.90v4.66h-5.90zM92.15 232.22h5.90v2.45h-5.90zM92.15 364.47h5.90v2.45h-5.90zM92.15 395.33h5.90v2.45h-5.90zM92.15 432.80h5.90v2.45h-5.90zM92.15 439.41h5.90v2.45h-5.90zM92.15 446.02h5.90v2.45h-5.90zM92.15 457.05h5.90v2.45h-5.90zM92.15 476.88h5.90v2.45h-5.90zM92.15 483.50h5.90v2.45h-5.90zM97.80 40.45h5.90v2.45h-5.90zM97.80 49.27h5.90v2.45h-5.90zM97.80 71.31h5.90v2.45h-5.90zM97.80 77.92h5.90v2.45h-5.90zM97.80 82.33h5.90v2.45h-5.90zM97.80 91.15h5.90v2.45h-5.90zM97.80 126.41h5.90v2.45h-5.90zM97.80 130.82h5.90v2.45h-5.90zM97.80 203.56h5.90v2.45h-5.90zM97.80 269.69h5.90v2.45h-5.90zM97.80 274.10h5.90v2.45h-5.90zM97.80 346.84h5.90v2.45h-5.90zM97.80 386.51h5.90v2.45h-5.90zM97.80 443.82h5.90v2.45h-5.90zM103.45 14.00h5.90v2.45h-5.90zM103.45 93.35h5.90v2.45h-5.90zM103.45 152.86h5.90v2.45h-5.90zM109.10 106.58h5.90v2.45h-5.90zM109.10 135.23h5.90v2.45h-5.90zM109.10 152.86h5.90v2.45h-5.90zM109.10 232.22h5.90v2.45h-5.90zM109.10 238.83h5.90v2.45h-5.90zM109.10 247.65h5.90v2.45h-5.90zM109.10 298.34h5.90v2.45h-5.90zM109.10 309.36h5.90v2.45h-5.90zM109.10 342.43h5.90v2.45h-5.90zM109.10 375.49h5.90v4.66h-5.90zM109.10 388.71h5.90v2.45h-5.90zM109.10 415.17h5.90v2.45h-5.90zM114.75 20.61h5.90v2.45h-5.90zM114.75 60.29h5.90v4.66h-5.90zM114.75 71.31h5.90v2.45h-5.90zM114.75 108.78h5.90v2.45h-5.90zM114.75 117.60h5.90v2.45h-5.90zM114.75 126.41h5.90v2.45h-5.90zM114.75 133.03h5.90v2.45h-5.90zM114.75 216.79h5.90v2.45h-5.90zM114.75 243.24h5.90v2.45h-5.90zM114.75 249.85h5.90v2.45h-5.90zM114.75 269.69h5.90v2.45h-5.90zM114.75 296.14h5.90v2.45h-5.90zM114.75 360.06h5.90v2.45h-5.90zM114.75 371.08h5.90v2.45h-5.90zM114.75 388.71h5.90v2.45h-5.90zM114.75 415.17h5.90v4.66h-5.90zM114.75 432.80h5.90v2.45h-5.90zM114.75 465.86h5.90v2.45h-5.90zM120.40 47.06h5.90v6.86h-5.90zM120.40 60.29h5.90v2.45h-5.90zM120.40 71.31h5.90v2.45h-5.90zM120.40 137.44h5.90v2.45h-5.90zM120.40 188.13h5.90v9.07h-5.90zM120.40 252.05h5.90v2.45h-5.90zM120.40 260.87h5.90v2.45h-5.90zM120.40 271.89h5.90v2.45h-5.90zM120.40 287.32h5.90v2.45h-5.90zM120.40 335.81h5.90v2.45h-5.90zM120.40 360.06h5.90v4.66h-5.90zM120.40 441.62h5.90v2.45h-5.90zM120.40 465.86h5.90v6.86h-5.90zM126.05 36.04h5.90v2.45h-5.90zM126.05 49.27h5.90v4.66h-5.90zM126.05 73.51h5.90v2.45h-5.90zM126.05 77.92h5.90v2.45h-5.90zM126.05 128.62h5.90v2.45h-5.90zM126.05 139.64h5.90v2.45h-5.90zM126.05 152.86h5.90v2.45h-5.90zM126.05 276.30h5.90v2.45h-5.90zM126.05 282.91h5.90v2.45h-5.90zM126.05 289.53h5.90v2.45h-5.90zM126.05 320.38h5.90v2.45h-5.90zM126.05 415.17h5.90v2.45h-5.90zM126.05 441.62h5.90v2.45h-5.90zM131.70 91.15h5.90v2.45h-5.90zM131.70 95.56h5.90v2.45h-5.90zM131.70 117.60h5.90v2.45h-5.90zM131.70 135.23h5.90v2.45h-5.90zM131.70 227.81h5.90v2.45h-5.90zM131.70 353.45h5.90v2.45h-5.90zM137.35 104.37h5.90v2.45h-5.90zM137.35 110.99h5.90v2.45h-5.90zM137.35 119.80h5.90v2.45h-5.90zM137.35 163.89h5.90v2.45h-5.90zM137.35 177.11h5.90v4.66h-5.90zM137.35 258.67h5.90v6.86h-5.90zM137.35 267.48h5.90v2.45h-5.90zM137.35 278.50h5.90v2.45h-5.90zM137.35 282.91h5.90v2.45h-5.90zM137.35 324.79h5.90v2.45h-5.90zM137.35 377.69h5.90v2.45h-5.90zM137.35 430.59h5.90v4.66h-5.90zM143.00 18.41h5.90v2.45h-5.90zM143.00 47.06h5.90v2.45h-5.90zM143.00 51.47h5.90v2.45h-5.90zM143.00 66.90h5.90v4.66h-5.90zM143.00 93.35h5.90v2.45h-5.90zM143.00 126.41h5.90v2.45h-5.90zM143.00 135.23h5.90v2.45h-5.90zM143.00 181.52h5.90v2.45h-5.90zM143.00 234.42h5.90v2.45h-5.90zM143.00 333.61h5.90v2.45h-5.90zM143.00 437.21h5.90v2.45h-5.90zM143.00 446.02h5.90v4.66h-5.90zM143.00 468.07h5.90v2.45h-5.90zM148.65 80.13h5.90v2.45h-5.90zM148.65 84.53h5.90v2.45h-5.90zM148.65 108.78h5.90v2.45h-5.90zM148.65 124.21h5.90v2.45h-5.90zM148.65 225.60h5.90v2.45h-5.90zM148.65 446.02h5.90v2.45h-5.90zM148.65 450.43h5.90v2.45h-5.90zM148.65 474.68h5.90v2.45h-5.90zM154.30 139.64h5.90v2.45h-5.90zM154.30 157.27h5.90v2.45h-5.90zM154.30 227.81h5.90v2.45h-5.90zM154.30 452.64h5.90v2.45h-5.90zM159.95 119.80h5.90v2.45h-5.90zM159.95 230.01h5.90v2.45h-5.90zM159.95 247.65h5.90v2.45h-5.90zM159.95 309.36h5.90v2.45h-5.90zM159.95 340.22h5.90v2.45h-5.90zM159.95 351.24h5.90v2.45h-5.90zM165.60 66.90h5.90v2.45h-5.90zM165.60 117.60h5.90v2.45h-5.90zM165.60 157.27h5.90v2.45h-5.90zM165.60 188.13h5.90v2.45h-5.90zM165.60 196.95h5.90v2.45h-5.90zM165.60 201.36h5.90v2.45h-5.90zM165.60 256.46h5.90v4.66h-5.90zM165.60 333.61h5.90v2.45h-5.90zM165.60 371.08h5.90v2.45h-5.90zM165.60 461.45h5.90v2.45h-5.90zM171.25 16.20h5.90v2.45h-5.90zM171.25 124.21h5.90v2.45h-5.90zM171.25 133.03h5.90v2.45h-5.90zM171.25 230.01h5.90v2.45h-5.90zM171.25 315.98h5.90v2.45h-5.90zM171.25 346.84h5.90v2.45h-5.90zM171.25 450.43h5.90v2.45h-5.90zM171.25 468.07h5.90v2.45h-5.90zM176.90 115.39h5.90v2.45h-5.90zM176.90 146.25h5.90v2.45h-5.90zM176.90 170.50h5.90v2.45h-5.90zM176.90 179.32h5.90v2.45h-5.90zM176.90 258.67h5.90v2.45h-5.90zM176.90 274.10h5.90v2.45h-5.90zM176.90 280.71h5.90v2.45h-5.90zM182.55 51.47h5.90v2.45h-5.90zM182.55 58.08h5.90v2.45h-5.90zM182.55 115.39h5.90v2.45h-5.90zM182.55 122.01h5.90v2.45h-5.90zM182.55 188.13h5.90v2.45h-5.90zM182.55 245.44h5.90v4.66h-5.90zM182.55 256.46h5.90v2.45h-5.90zM182.55 260.87h5.90v2.45h-5.90zM182.55 296.14h5.90v2.45h-5.90zM182.55 463.66h5.90v2.45h-5.90zM182.55 483.50h5.90v2.45h-5.90z"/>
<path fill="#f0dcde" d="M52.60 16.20h5.90v2.45h-5.90zM52.60 42.65h5.90v2.45h-5.90zM52.60 77.92h5.90v2.45h-5.90zM52.60 104.37h5.90v2.45h-5.90zM52.60 249.85h5.90v4.66h-5.90zM52.60 269.69h5.90v2.45h-5.90zM52.60 287.32h5.90v2.45h-5.90zM52.60 293.93h5.90v2.45h-5.90zM52.60 309.36h5.90v4.66h-5.90zM52.60 315.98h5.90v2.45h-5.90zM52.60 344.63h5.90v2.45h-5.90zM52.60 423.98h5.90v2.45h-5.90zM52.60 430.59h5.90v2.45h-5.90zM52.60 435.00h5.90v2.45h-5.90zM58.25 36.04h5.90v2.45h-5.90zM58.25 44.86h5.90v2.45h-5.90zM58.25 51.47h5.90v2.45h-5.90zM58.25 55.88h5.90v2.45h-5.90zM58.25 146.25h5.90v2.45h-5.90zM58.25 205.77h5.90v2.45h-5.90zM58.25 353.45h5.90v2.45h-5.90zM58.25 357.86h5.90v2.45h-5.90zM58.25 382.10h5.90v2.45h-5.90zM58.25 386.51h5.90v4.66h-5.90zM58.25 412.96h5.90v2.45h-5.90zM58.25 421.78h5.90v2.45h-5.90zM58.25 428.39h5.90v2.45h-5.90zM58.25 443.82h5.90v4.66h-5.90zM63.90 14.00h5.90v2.45h-5.90zM63.90 40.45h5.90v2.45h-5.90zM63.90 91.15h5.90v2.45h-5.90zM63.90 141.84h5.90v2.45h-5.90zM63.90 230.01h5.90v2.45h-5.90zM63.90 327.00h5.90v2.45h-5.90zM63.90 351.24h5.90v2.45h-5.90zM63.90 373.29h5.90v2.45h-5.90zM69.55 22.82h5.90v2.45h-5.90zM69.55 31.63h5.90v4.66h-5.90zM69.55 42.65h5.90v2.45h-5.90zM69.55 313.77h5.90v2.45h-5.90zM69.55 360.06h5.90v2.45h-5.90zM69.55 388.71h5.90v2.45h-5.90zM69.55 430.59h5.90v2.45h-5.90zM75.20 29.43h5.90v9.07h-5.90zM75.20 73.51h5.90v2.45h-5.90zM75.20 146.25h5.90v2.45h-5.90zM75.20 212.38h5.90v4.66h-5.90zM75.20 218.99h5.90v2.45h-5.90zM75.20 287.32h5.90v2.45h-5.90zM75.20 401.94h5.90v2.45h-5.90zM80.85 44.86h5.90v4.66h-5.90zM80.85 73.51h5.90v2.45h-5.90zM80.85 91.15h5.90v2.45h-5.90zM80.85 99.96h5.90v2.45h-5.90zM80.85 110.99h5.90v2.45h-5.90zM80.85 122.01h5.90v2.45h-5.90zM80.85 146.25h5.90v2.45h-5.90zM80.85 174.91h5.90v2.45h-5.90zM80.85 280.71h5.90v4.66h-5.90zM80.85 315.98h5.90v2.45h-5.90zM80.85 340.22h5.90v2.45h-5.90zM80.85 373.29h5.90v4.66h-5.90zM80.85 408.55h5.90v2.45h-5.90zM80.85 437.21h5.90v2.45h-5.90zM80.85 441.62h5.90v2.45h-5.90zM80.85 446.02h5.90v2.45h-5.90zM86.50 29.43h5.90v2.45h-5.90zM86.50 69.11h5.90v4.66h-5.90zM86.50 230.01h5.90v2.45h-5.90zM86.50 278.50h5.90v2.45h-5.90zM86.50 302.75h5.90v2.45h-5.90zM86.50 355.65h5.90v2.45h-5.90zM86.50 390.92h5.90v2.45h-5.90zM86.50 395.33h5.90v4.66h-5.90zM86.50 419.57h5.90v2.45h-5.90zM86.50 430.59h5.90v6.86h-5.90zM86.50 459.25h5.90v2.45h-5.90zM92.15 29.43h5.90v2.45h-5.90zM92.15 33.84h5.90v4.66h-5.90zM92.15 115.39h5.90v2.45h-5.90zM92.15 119.80h5.90v2.45h-5.90zM92.15 216.79h5.90v2.45h-5.90zM92.15 221.20h5.90v2.45h-5.90zM92.15 324.79h5.90v2.45h-5.90zM92.15 377.69h5.90v2.45h-5.90zM92.15 388.71h5.90v2.45h-5.90zM92.15 393.12h5.90v2.45h-5.90zM92.15 412.96h5.90v2.45h-5.90zM92.15 423.98h5.90v2.45h-5.90zM92.15 443.82h5.90v2.45h-5.90zM92.15 448.23h5.90v2.45h-5.90zM92.15 452.64h5.90v2.45h-5.90zM97.80 18.41h5.90v4.66h-5.90zM97.80 44.86h5.90v4.66h-5.90zM97.80 58.08h5.90v2.45h-5.90zM97.80 69.11h5.90v2.45h-5.90zM97.80 73.51h5.90v2.45h-5.90zM97.80 135.23h5.90v2.45h-5.90zM97.80 258.67h5.90v2.45h-5.90zM97.80 282.91h5.90v2.45h-5.90zM97.80 291.73h5.90v2.45h-5.90zM97.80 368.88h5.90v2.45h-5.90zM97.80 384.31h5.90v2.45h-5.90zM97.80 404.14h5.90v2.45h-5.90zM97.80 426.19h5.90v2.45h-5.90zM97.80 430.59h5.90v2.45h-5.90zM97.80 435.00h5.90v2.45h-5.90zM103.45 16.20h5.90v2.45h-5.90zM103.45 40.45h5.90v2.45h-5.90zM103.45 84.53h5.90v2.45h-5.90zM103.45 278.50h5.90v2.45h-5.90zM103.45 298.34h5.90v2.45h-5.90zM103.45 386.51h5.90v2.45h-5.90zM103.45 397.53h5.90v2.45h-5.90zM103.45 404.14h5.90v4.66h-5.90zM103.45 415.17h5.90v2.45h-5.90zM103.45 423.98h5.90v4.66h-5.90zM103.45 439.41h5.90v2.45h-5.90zM103.45 443.82h5.90v2.45h-5.90zM103.45 461.45h5.90v2.45h-5.90zM109.10 49.27h5.90v2.45h-5.90zM109.10 64.70h5.90v2.45h-5.90zM109.10 69.11h5.90v2.45h-5.90zM109.10 73.51h5.90v2.45h-5.90zM109.10 91.15h5.90v2.45h-5.90zM109.10 102.17h5.90v2.45h-5.90zM109.10 227.81h5.90v2.45h-5.90zM109.10 280.71h5.90v2.45h-5.90zM109.10 291.73h5.90v2.45h-5.90zM109.10 300.55h5.90v4.66h-5.90zM109.10 368.88h5.90v2.45h-5.90zM109.10 379.90h5.90v2.45h-5.90zM109.10 386.51h5.90v2.45h-5.90zM109.10 390.92h5.90v2.45h-5.90zM109.10 439.41h5.90v2.45h-5.90zM109.10 443.82h5.90v2.45h-5.90zM114.75 18.41h5.90v2.45h-5.90zM114.75 27.23h5.90v2.45h-5.90zM114.75 42.65h5.90v2.45h-5.90zM114.75 66.90h5.90v2.45h-5.90zM114.75 144.05h5.90v2.45h-5.90zM114.75 221.20h5.90v2.45h-5.90zM114.75 245.44h5.90v2.45h-5.90zM114.75 287.32h5.90v2.45h-5.90zM114.75 293.93h5.90v2.45h-5.90zM114.75 329.20h5.90v2.45h-5.90zM114.75 344.63h5.90v2.45h-5.90zM114.75 357.86h5.90v2.45h-5.90zM114.75 368.88h5.90v2.45h-5.90zM114.75 384.31h5.90v4.66h-5.90zM114.75 390.92h5.90v2.45h-5.90zM114.75 459.25h5.90v2.45h-5.90zM120.40 16.20h5.90v2.45h-5.90zM120.40 75.72h5.90v2.45h-5.90zM120.40 110.99h5.90v2.45h-5.90zM120.40 122.01h5.90v2.45h-5.90zM120.40 155.07h5.90v2.45h-5.90zM120.40 161.68h5.90v4.66h-5.90zM120.40 168.29h5.90v2.45h-5.90zM120.40 172.70h5.90v2.45h-5.90zM120.40 236.62h5.90v2.45h-5.90zM120.40 269.69h5.90v2.45h-5.90zM120.40 291.73h5.90v2.45h-5.90zM120.40 318.18h5.90v2.45h-5.90zM120.40 386.51h5.90v2.45h-5.90zM120.40 437.21h5.90v2.45h-5.90zM120.40 454.84h5.90v2.45h-5.90zM120.40 461.45h5.90v4.66h-5.90zM120.40 472.47h5.90v4.66h-5.90zM126.05 29.43h5.90v2.45h-5.90zM126.05 38.25h5.90v2.45h-5.90zM126.05 47.06h5.90v2.45h-5.90zM126.05 75.72h5.90v2.45h-5.90zM126.05 159.48h5.90v4.66h-5.90zM126.05 221.20h5.90v2.45h-5.90zM126.05 263.08h5.90v2.45h-5.90zM126.05 309.36h5.90v2.45h-5.90zM126.05 318.18h5.90v2.45h-5.90zM126.05 463.66h5.90v2.45h-5.90zM131.70 16.20h5.90v2.45h-5.90zM131.70 88.94h5.90v2.45h-5.90zM131.70 108.78h5.90v2.45h-5.90zM131.70 218.99h5.90v2.45h-5.90zM131.70 311.57h5.90v2.45h-5.90zM131.70 320.38h5.90v2.45h-5.90zM137.35 42.65h5.90v2.45h-5.90zM137.35 47.06h5.90v2.45h-5.90zM137.35 93.35h5.90v2.45h-5.90zM137.35 99.96h5.90v2.45h-5.90zM137.35 130.82h5.90v2.45h-5.90zM137.35 135.23h5.90v2.45h-5.90zM137.35 141.84h5.90v4.66h-5.90zM137.35 148.46h5.90v2.45h-5.90zM137.35 152.86h5.90v2.45h-5.90zM137.35 172.70h5.90v2.45h-5.90zM137.35 218.99h5.90v2.45h-5.90zM137.35 236.62h5.90v2.45h-5.90zM137.35 276.30h5.90v2.45h-5.90zM137.35 280.71h5.90v2.45h-5.90zM137.35 309.36h5.90v2.45h-5.90zM137.35 457.05h5.90v2.45h-5.90zM137.35 461.45h5.90v2.45h-5.90zM137.35 479.09h5.90v2.45h-5.90zM143.00 44.86h5.90v2.45h-5.90zM143.00 55.88h5.90v4.66h-5.90zM143.00 80.13h5.90v2.45h-5.90zM143.00 124.21h5.90v2.45h-5.90zM143.00 141.84h5.90v2.45h-5.90zM143.00 203.56h5.90v2.45h-5.90zM143.00 241.03h5.90v2.45h-5.90zM143.00 254.26h5.90v4.66h-5.90zM143.00 271.89h5.90v2.45h-5.90zM143.00 302.75h5.90v4.66h-5.90zM143.00 355.65h5.90v2.45h-5.90zM143.00 423.98h5.90v2.45h-5.90zM143.00 483.50h5.90v2.45h-5.90zM148.65 75.72h5.90v2.45h-5.90zM148.65 82.33h5.90v2.45h-5.90zM148.65 86.74h5.90v4.66h-5.90zM148.65 139.64h5.90v2.45h-5.90zM148.65 192.54h5.90v2.45h-5.90zM148.65 210.17h5.90v2.45h-5.90zM148.65 260.87h5.90v2.45h-5.90zM148.65 278.50h5.90v2.45h-5.90zM148.65 476.88h5.90v2.45h-5.90zM154.30 66.90h5.90v2.45h-5.90zM154.30 75.72h5.90v4.66h-5.90zM154.30 91.15h5.90v2.45h-5.90zM154.30 155.07h5.90v2.45h-5.90zM154.30 159.48h5.90v2.45h-5.90zM154.30 166.09h5.90v2.45h-5.90zM154.30 230.01h5.90v4.66h-5.90zM154.30 274.10h5.90v2.45h-5.90zM154.30 300.55h5.90v2.45h-5.90zM154.30 448.23h5.90v2.45h-5.90zM159.95 51.47h5.90v2.45h-5.90zM159.95 263.08h5.90v2.45h-5.90zM159.95 474.68h5.90v2.45h-5.90zM159.95 481.29h5.90v4.66h-5.90zM165.60 53.68h5.90v2.45h-5.90zM165.60 128.62h5.90v2.45h-5.90zM165.60 146.25h5.90v2.45h-5.90zM165.60 150.66h5.90v2.45h-5.90zM165.60 192.54h5.90v4.66h-5.90zM165.60 199.15h5.90v2.45h-5.90zM165.60 205.77h5.90v2.45h-5.90zM165.60 218.99h5.90v2.45h-5.90zM165.60 249.85h5.90v2.45h-5.90zM165.60 338.02h5.90v2.45h-5.90zM165.60 465.86h5.90v2.45h-5.90zM165.60 479.09h5.90v2.45h-5.90zM171.25 221.20h5.90v2.45h-5.90zM171.25 241.03h5.90v2.45h-5.90zM171.25 256.46h5.90v2.45h-5.90zM171.25 342.43h5.90v2.45h-5.90zM176.90 16.20h5.90v2.45h-5.90zM176.90 51.47h5.90v2.45h-5.90zM176.90 55.88h5.90v2.45h-5.90zM176.90 84.53h5.90v2.45h-5.90zM176.90 113.19h5.90v2.45h-5.90zM176.90 148.46h5.90v2.45h-5.90zM176.90 177.11h5.90v2.45h-5.90zM176.90 190.34h5.90v2.45h-5.90zM176.90 236.62h5.90v2.45h-5.90zM176.90 249.85h5.90v2.45h-5.90zM176.90 256.46h5.90v2.45h-5.90zM176.90 263.08h5.90v2.45h-5.90zM176.90 276.30h5.90v2.45h-5.90zM176.90 298.34h5.90v2.45h-5.90zM176.90 448.23h5.90v2.45h-5.90zM176.90 470.27h5.90v2.45h-5.90zM176.90 483.50h5.90v2.45h-5.90zM182.55 33.84h5.90v2.45h-5.90zM182.55 64.70h5.90v2.45h-5.90zM182.55 84.53h5.90v2.45h-5.90zM182.55 91.15h5.90v2.45h-5.90zM182.55 95.56h5.90v2.45h-5.90zM182.55 102.17h5.90v4.66h-5.90zM182.55 210.17h5.90v2.45h-5.90zM182.55 214.58h5.90v2.45h-5.90zM182.55 218.99h5.90v2.45h-5.90zM182.55 225.60h5.90v2.45h-5.90zM182.55 236.62h5.90v2.45h-5.90zM182.55 267.48h5.90v2.45h-5.90zM182.55 271.89h5.90v2.45h-5.90zM182.55 280.71h5.90v2.45h-5.90zM182.55 298.34h5.90v2.45h-5.90zM182.55 302.75h5.90v2.45h-5.90zM182.55 441.62h5.90v2.45h-5.90zM182.55 452.64h5.90v2.45h-5.90z"/>
<path fill="#f2cfcc" d="M52.60 18.41h5.90v2.45h-5.90zM52.60 36.04h5.90v6.86h-5.90zM52.60 110.99h5.90v2.45h-5.90zM52.60 320.38h5.90v2.45h-5.90zM52.60 331.41h5.90v2.45h-5.90zM52.60 342.43h5.90v2.45h-5.90zM52.60 357.86h5.90v2.45h-5.90zM52.60 386.51h5.90v2.45h-5.90zM52.60 479.09h5.90v2.45h-5.90zM58.25 18.41h5.90v2.45h-5.90zM58.25 25.02h5.90v2.45h-5.90zM58.25 38.25h5.90v2.45h-5.90zM58.25 291.73h5.90v2.45h-5.90zM58.25 304.96h5.90v2.45h-5.90zM58.25 351.24h5.90v2.45h-5.90zM58.25 355.65h5.90v2.45h-5.90zM58.25 384.31h5.90v2.45h-5.90zM58.25 437.21h5.90v2.45h-5.90zM58.25 463.66h5.90v2.45h-5.90zM58.25 476.88h5.90v2.45h-5.90zM63.90 42.65h5.90v4.66h-5.90zM63.90 366.67h5.90v2.45h-5.90zM63.90 375.49h5.90v2.45h-5.90zM69.55 14.00h5.90v2.45h-5.90zM69.55 40.45h5.90v2.45h-5.90zM69.55 47.06h5.90v2.45h-5.90zM69.55 278.50h5.90v2.45h-5.90zM69.55 327.00h5.90v2.45h-5.90zM69.55 382.10h5.90v2.45h-5.90zM69.55 423.98h5.90v2.45h-5.90zM69.55 441.62h5.90v2.45h-5.90zM69.55 463.66h5.90v2.45h-5.90zM75.20 188.13h5.90v2.45h-5.90zM75.20 278.50h5.90v2.45h-5.90zM75.20 291.73h5.90v4.66h-5.90zM75.20 324.79h5.90v2.45h-5.90zM75.20 333.61h5.90v2.45h-5.90zM75.20 342.43h5.90v2.45h-5.90zM75.20 355.65h5.90v2.45h-5.90zM75.20 362.26h5.90v2.45h-5.90zM75.20 373.29h5.90v2.45h-5.90zM75.20 395.33h5.90v2.45h-5.90zM75.20 406.35h5.90v4.66h-5.90zM75.20 437.21h5.90v4.66h-5.90zM75.20 463.66h5.90v2.45h-5.90zM80.85 14.00h5.90v2.45h-5.90zM80.85 20.61h5.90v2.45h-5.90zM80.85 40.45h5.90v2.45h-5.90zM80.85 53.68h5.90v2.45h-5.90zM80.85 93.35h5.90v2.45h-5.90zM80.85 287.32h5.90v2.45h-5.90zM80.85 304.96h5.90v2.45h-5.90zM80.85 318.18h5.90v2.45h-5.90zM80.85 322.59h5.90v2.45h-5.90zM80.85 342.43h5.90v2.45h-5.90zM80.85 364.47h5.90v2.45h-5.90zM80.85 404.14h5.90v2.45h-5.90zM80.85 439.41h5.90v2.45h-5.90zM80.85 448.23h5.90v4.66h-5.90zM86.50 42.65h5.90v2.45h-5.90zM86.50 214.58h5.90v4.66h-5.90zM86.50 234.42h5.90v2.45h-5.90zM86.50 293.93h5.90v4.66h-5.90zM86.50 428.39h5.90v2.45h-5.90zM86.50 457.05h5.90v2.45h-5.90zM86.50 461.45h5.90v4.66h-5.90zM92.15 38.25h5.90v2.45h-5.90zM92.15 73.51h5.90v2.45h-5.90zM92.15 104.37h5.90v4.66h-5.90zM92.15 113.19h5.90v2.45h-5.90zM92.15 130.82h5.90v2.45h-5.90zM92.15 135.23h5.90v2.45h-5.90zM92.15 280.71h5.90v2.45h-5.90zM92.15 322.59h5.90v2.45h-5.90zM92.15 327.00h5.90v2.45h-5.90zM92.15 331.41h5.90v4.66h-5.90zM92.15 379.90h5.90v2.45h-5.90zM92.15 397.53h5.90v2.45h-5.90zM92.15 406.35h5.90v2.45h-5.90zM92.15 415.17h5.90v2.45h-5.90zM92.15 421.78h5.90v2.45h-5.90zM92.15 430.59h5.90v2.45h-5.90zM92.15 441.62h5.90v2.45h-5.90zM97.80 14.00h5.90v2.45h-5.90zM97.80 31.63h5.90v2.45h-5.90zM97.80 340.22h5.90v2.45h-5.90zM97.80 349.04h5.90v2.45h-5.90zM97.80 357.86h5.90v2.45h-5.90zM97.80 366.67h5.90v2.45h-5.90zM97.80 399.74h5.90v2.45h-5.90zM97.80 408.55h5.90v4.66h-5.90zM97.80 417.37h5.90v2.45h-5.90zM97.80 421.78h5.90v2.45h-5.90zM97.80 439.41h5.90v2.45h-5.90zM103.45 18.41h5.90v2.45h-5.90zM103.45 25.02h5.90v2.45h-5.90zM103.45 232.22h5.90v2.45h-5.90zM103.45 311.57h5.90v2.45h-5.90zM103.45 315.98h5.90v2.45h-5.90zM103.45 324.79h5.90v4.66h-5.90zM103.45 357.86h5.90v2.45h-5.90zM103.45 364.47h5.90v2.45h-5.90zM103.45 368.88h5.90v2.45h-5.90zM103.45 432.80h5.90v2.45h-5.90zM103.45 441.62h5.90v2.45h-5.90zM109.10 62.49h5.90v2.45h-5.90zM109.10 71.31h5.90v2.45h-5.90zM109.10 80.13h5.90v4.66h-5.90zM109.10 199.15h5.90v2.45h-5.90zM109.10 289.53h5.90v2.45h-5.90zM109.10 293.93h5.90v2.45h-5.90zM109.10 322.59h5.90v2.45h-5.90zM109.10 329.20h5.90v2.45h-5.90zM109.10 366.67h5.90v2.45h-5.90zM109.10 371.08h5.90v2.45h-5.90zM109.10 468.07h5.90v2.45h-5.90zM109.10 472.47h5.90v2.45h-5.90zM109.10 483.50h5.90v2.45h-5.90zM114.75 14.00h5.90v2.45h-5.90zM114.75 51.47h5.90v2.45h-5.90zM114.75 64.70h5.90v2.45h-5.90zM114.75 73.51h5.90v4.66h-5.90zM114.75 247.65h5.90v2.45h-5.90zM114.75 278.50h5.90v2.45h-5.90zM114.75 285.12h5.90v2.45h-5.90zM114.75 302.75h5.90v4.66h-5.90zM114.75 322.59h5.90v2.45h-5.90zM114.75 327.00h5.90v2.45h-5.90zM114.75 377.69h5.90v2.45h-5.90zM114.75 439.41h5.90v2.45h-5.90zM114.75 454.84h5.90v2.45h-5.90zM120.40 27.23h5.90v2.45h-5.90zM120.40 33.84h5.90v4.66h-5.90zM120.40 42.65h5.90v4.66h-5.90zM120.40 80.13h5.90v2.45h-5.90zM120.40 108.78h5.90v2.45h-5.90zM120.40 124.21h5.90v2.45h-5.90zM120.40 141.84h5.90v2.45h-5.90zM120.40 152.86h5.90v2.45h-5.90zM120.40 170.50h5.90v2.45h-5.90zM120.40 181.52h5.90v2.45h-5.90zM120.40 201.36h5.90v2.45h-5.90zM120.40 218.99h5.90v2.45h-5.90zM120.40 223.40h5.90v2.45h-5.90zM120.40 230.01h5.90v2.45h-5.90zM120.40 241.03h5.90v4.66h-5.90zM120.40 371.08h5.90v2.45h-5.90zM120.40 457.05h5.90v2.45h-5.90zM126.05 31.63h5.90v2.45h-5.90zM126.05 44.86h5.90v2.45h-5.90zM126.05 66.90h5.90v4.66h-5.90zM126.05 82.33h5.90v2.45h-5.90zM126.05 144.05h5.90v2.45h-5.90zM126.05 157.27h5.90v2.45h-5.90zM126.05 166.09h5.90v2.45h-5.90zM126.05 194.74h5.90v2.45h-5.90zM126.05 249.85h5.90v2.45h-5.90zM126.05 260.87h5.90v2.45h-5.90zM126.05 267.48h5.90v2.45h-5.90zM126.05 285.12h5.90v2.45h-5.90zM126.05 315.98h5.90v2.45h-5.90zM126.05 379.90h5.90v2.45h-5.90zM131.70 119.80h5.90v2.45h-5.90zM131.70 126.41h5.90v2.45h-5.90zM131.70 130.82h5.90v2.45h-5.90zM131.70 148.46h5.90v2.45h-5.90zM131.70 192.54h5.90v2.45h-5.90zM131.70 245.44h5.90v2.45h-5.90zM131.70 479.09h5.90v2.45h-5.90zM137.35 55.88h5.90v2.45h-5.90zM137.35 62.49h5.90v2.45h-5.90zM137.35 75.72h5.90v9.07h-5.90zM137.35 95.56h5.90v2.45h-5.90zM137.35 201.36h5.90v2.45h-5.90zM137.35 212.38h5.90v2.45h-5.90zM137.35 221.20h5.90v4.66h-5.90zM137.35 230.01h5.90v2.45h-5.90zM137.35 234.42h5.90v2.45h-5.90zM137.35 269.69h5.90v2.45h-5.90zM137.35 274.10h5.90v2.45h-5.90zM137.35 459.25h5.90v2.45h-5.90zM143.00 38.25h5.90v2.45h-5.90zM143.00 73.51h5.90v2.45h-5.90zM143.00 88.94h5.90v2.45h-5.90zM143.00 119.80h5.90v2.45h-5.90zM143.00 245.44h5.90v2.45h-5.90zM143.00 258.67h5.90v2.45h-5.90zM143.00 454.84h5.90v2.45h-5.90zM143.00 465.86h5.90v2.45h-5.90zM143.00 470.27h5.90v2.45h-5.90zM148.65 16.20h5.90v2.45h-5.90zM148.65 203.56h5.90v2.45h-5.90zM148.65 214.58h5.90v2.45h-5.90zM148.65 249.85h5.90v2.45h-5.90zM148.65 254.26h5.90v2.45h-5.90zM148.65 274.10h5.90v4.66h-5.90zM148.65 285.12h5.90v2.45h-5.90zM154.30 14.00h5.90v2.45h-5.90zM154.30 64.70h5.90v2.45h-5.90zM154.30 88.94h5.90v2.45h-5.90zM154.30 104.37h5.90v2.45h-5.90zM154.30 137.44h5.90v2.45h-5.90zM154.30 144.05h5.90v2.45h-5.90zM154.30 161.68h5.90v4.66h-5.90zM154.30 177.11h5.90v2.45h-5.90zM154.30 223.40h5.90v2.45h-5.90zM154.30 243.24h5.90v2.45h-5.90zM154.30 260.87h5.90v2.45h-5.90zM154.30 459.25h5.90v4.66h-5.90zM154.30 465.86h5.90v2.45h-5.90zM159.95 14.00h5.90v2.45h-5.90zM159.95 20.61h5.90v2.45h-5.90zM159.95 53.68h5.90v4.66h-5.90zM159.95 117.60h5.90v2.45h-5.90zM159.95 124.21h5.90v2.45h-5.90zM159.95 148.46h5.90v2.45h-5.90zM159.95 225.60h5.90v2.45h-5.90zM159.95 234.42h5.90v4.66h-5.90zM159.95 256.46h5.90v6.86h-5.90zM159.95 265.28h5.90v2.45h-5.90zM159.95 271.89h5.90v2.45h-5.90zM159.95 342.43h5.90v2.45h-5.90zM165.60 49.27h5.90v2.45h-5.90zM165.60 58.08h5.90v4.66h-5.90zM165.60 84.53h5.90v2.45h-5.90zM165.60 113.19h5.90v2.45h-5.90zM165.60 133.03h5.90v4.66h-5.90zM165.60 152.86h5.90v2.45h-5.90zM165.60 216.79h5.90v2.45h-5.90zM165.60 230.01h5.90v2.45h-5.90zM165.60 243.24h5.90v2.45h-5.90zM165.60 254.26h5.90v2.45h-5.90zM165.60 476.88h5.90v2.45h-5.90zM171.25 49.27h5.90v2.45h-5.90zM171.25 236.62h5.90v2.45h-5.90zM171.25 249.85h5.90v2.45h-5.90zM171.25 254.26h5.90v2.45h-5.90zM171.25 274.10h5.90v2.45h-5.90zM171.25 320.38h5.90v2.45h-5.90zM171.25 470.27h5.90v2.45h-5.90zM176.90 49.27h5.90v2.45h-5.90zM176.90 75.72h5.90v2.45h-5.90zM176.90 82.33h5.90v2.45h-5.90zM176.90 152.86h5.90v2.45h-5.90zM176.90 166.09h5.90v2.45h-5.90zM176.90 223.40h5.90v2.45h-5.90zM176.90 265.28h5.90v2.45h-5.90zM176.90 459.25h5.90v2.45h-5.90zM176.90 465.86h5.90v2.45h-5.90zM182.55 14.00h5.90v2.45h-5.90zM182.55 86.74h5.90v2.45h-5.90zM182.55 199.15h5.90v4.66h-5.90zM182.55 230.01h5.90v4.66h-5.90zM182.55 238.83h5.90v2.45h-5.90zM182.55 282.91h5.90v2.45h-5.90zM182.55 289.53h5.90v2.45h-5.90zM182.55 465.86h5.90v2.45h-5.90z"/>
<path fill="#f5c2ba" d="M52.60 49.27h5.90v2.45h-5.90zM52.60 115.39h5.90v2.45h-5.90zM52.60 260.87h5.90v2.45h-5.90zM52.60 313.77h5.90v2.45h-5.90zM52.60 318.18h5.90v2.45h-5.90zM52.60 322.59h5.90v2.45h-5.90zM52.60 333.61h5.90v2.45h-5.90zM52.60 428.39h5.90v2.45h-5.90zM52.60 432.80h5.90v2.45h-5.90zM58.25 20.61h5.90v2.45h-5.90zM58.25 58.08h5.90v2.45h-5.90zM58.25 179.32h5.90v2.45h-5.90zM58.25 282.91h5.90v4.66h-5.90zM58.25 324.79h5.90v2.45h-5.90zM58.25 441.62h5.90v2.45h-5.90zM58.25 465.86h5.90v4.66h-5.90zM58.25 474.68h5.90v2.45h-5.90zM58.25 483.50h5.90v2.45h-5.90zM63.90 20.61h5.90v2.45h-5.90zM63.90 47.06h5.90v6.86h-5.90zM63.90 62.49h5.90v2.45h-5.90zM63.90 309.36h5.90v2.45h-5.90zM63.90 320.38h5.90v2.45h-5.90zM63.90 368.88h5.90v2.45h-5.90zM63.90 439.41h5.90v2.45h-5.90zM69.55 18.41h5.90v2.45h-5.90zM69.55 44.86h5.90v2.45h-5.90zM69.55 80.13h5.90v2.45h-5.90zM69.55 344.63h5.90v2.45h-5.90zM69.55 349.04h5.90v2.45h-5.90zM69.55 353.45h5.90v6.86h-5.90zM69.55 364.47h5.90v4.66h-5.90zM69.55 375.49h5.90v2.45h-5.90zM69.55 419.57h5.90v2.45h-5.90zM69.55 435.00h5.90v2.45h-5.90zM69.55 439.41h5.90v2.45h-5.90zM69.55 443.82h5.90v2.45h-5.90zM75.20 18.41h5.90v2.45h-5.90zM75.20 25.02h5.90v4.66h-5.90zM75.20 230.01h5.90v2.45h-5.90zM75.20 289.53h5.90v2.45h-5.90zM75.20 313.77h5.90v4.66h-5.90zM75.20 320.38h5.90v2.45h-5.90zM75.20 344.63h5.90v2.45h-5.90zM75.20 364.47h5.90v2.45h-5.90zM75.20 465.86h5.90v2.45h-5.90zM80.85 25.02h5.90v4.66h-5.90zM80.85 148.46h5.90v2.45h-5.90zM80.85 161.68h5.90v2.45h-5.90zM80.85 249.85h5.90v2.45h-5.90zM80.85 289.53h5.90v4.66h-5.90zM80.85 311.57h5.90v2.45h-5.90zM80.85 335.81h5.90v2.45h-5.90zM80.85 346.84h5.90v4.66h-5.90zM80.85 353.45h5.90v2.45h-5.90zM80.85 368.88h5.90v2.45h-5.90zM80.85 452.64h5.90v2.45h-5.90zM86.50 36.04h5.90v4.66h-5.90zM86.50 227.81h5.90v2.45h-5.90zM86.50 280.71h5.90v2.45h-5.90zM86.50 285.12h5.90v2.45h-5.90zM86.50 300.55h5.90v2.45h-5.90zM86.50 364.47h5.90v2.45h-5.90zM86.50 384.31h5.90v2.45h-5.90zM86.50 421.78h5.90v2.45h-5.90zM86.50 454.84h5.90v2.45h-5.90zM86.50 468.07h5.90v2.45h-5.90zM86.50 481.29h5.90v4.66h-5.90zM92.15 66.90h5.90v2.45h-5.90zM92.15 71.31h5.90v2.45h-5.90zM92.15 77.92h5.90v2.45h-5.90zM92.15 276.30h5.90v2.45h-5.90zM92.15 291.73h5.90v4.66h-5.90zM92.15 300.55h5.90v4.66h-5.90zM92.15 335.81h5.90v2.45h-5.90zM92.15 344.63h5.90v2.45h-5.90zM92.15 368.88h5.90v2.45h-5.90zM92.15 410.76h5.90v2.45h-5.90zM92.15 419.57h5.90v2.45h-5.90zM92.15 450.43h5.90v2.45h-5.90zM92.15 468.07h5.90v2.45h-5.90zM92.15 474.68h5.90v2.45h-5.90zM92.15 479.09h5.90v2.45h-5.90zM97.80 33.84h5.90v2.45h-5.90zM97.80 285.12h5.90v2.45h-5.90zM97.80 300.55h5.90v4.66h-5.90zM97.80 351.24h5.90v2.45h-5.90zM97.80 377.69h5.90v2.45h-5.90zM97.80 388.71h5.90v4.66h-5.90zM97.80 397.53h5.90v2.45h-5.90zM97.80 415.17h5.90v2.45h-5.90zM97.80 465.86h5.90v2.45h-5.90zM97.80 470.27h5.90v4.66h-5.90zM103.45 29.43h5.90v2.45h-5.90zM103.45 47.06h5.90v2.45h-5.90zM103.45 280.71h5.90v4.66h-5.90zM103.45 289.53h5.90v2.45h-5.90zM103.45 293.93h5.90v4.66h-5.90zM103.45 300.55h5.90v2.45h-5.90zM103.45 320.38h5.90v2.45h-5.90zM103.45 353.45h5.90v2.45h-5.90zM103.45 371.08h5.90v4.66h-5.90zM103.45 384.31h5.90v2.45h-5.90zM103.45 430.59h5.90v2.45h-5.90zM103.45 435.00h5.90v4.66h-5.90zM103.45 468.07h5.90v2.45h-5.90zM109.10 31.63h5.90v2.45h-5.90zM109.10 38.25h5.90v2.45h-5.90zM109.10 44.86h5.90v2.45h-5.90zM109.10 84.53h5.90v2.45h-5.90zM109.10 230.01h5.90v2.45h-5.90zM109.10 287.32h5.90v2.45h-5.90zM109.10 344.63h5.90v2.45h-5.90zM109.10 437.21h5.90v2.45h-5.90zM114.75 40.45h5.90v2.45h-5.90zM114.75 77.92h5.90v2.45h-5.90zM114.75 84.53h5.90v2.45h-5.90zM114.75 282.91h5.90v2.45h-5.90zM114.75 315.98h5.90v2.45h-5.90zM114.75 401.94h5.90v2.45h-5.90zM114.75 430.59h5.90v2.45h-5.90zM114.75 441.62h5.90v2.45h-5.90zM114.75 446.02h5.90v2.45h-5.90zM120.40 25.02h5.90v2.45h-5.90zM120.40 113.19h5.90v2.45h-5.90zM120.40 150.66h5.90v2.45h-5.90zM120.40 212.38h5.90v2.45h-5.90zM120.40 216.79h5.90v2.45h-5.90zM120.40 238.83h5.90v2.45h-5.90zM120.40 258.67h5.90v2.45h-5.90zM120.40 333.61h5.90v2.45h-5.90zM120.40 338.02h5.90v2.45h-5.90zM126.05 55.88h5.90v2.45h-5.90zM126.05 141.84h5.90v2.45h-5.90zM126.05 146.25h5.90v2.45h-5.90zM126.05 196.95h5.90v2.45h-5.90zM126.05 265.28h5.90v2.45h-5.90zM126.05 278.50h5.90v4.66h-5.90zM126.05 459.25h5.90v2.45h-5.90zM131.70 42.65h5.90v2.45h-5.90zM131.70 47.06h5.90v2.45h-5.90zM131.70 80.13h5.90v6.86h-5.90zM131.70 115.39h5.90v2.45h-5.90zM131.70 128.62h5.90v2.45h-5.90zM131.70 141.84h5.90v2.45h-5.90zM131.70 225.60h5.90v2.45h-5.90zM131.70 252.05h5.90v6.86h-5.90zM131.70 271.89h5.90v4.66h-5.90zM137.35 16.20h5.90v2.45h-5.90zM137.35 53.68h5.90v2.45h-5.90zM137.35 58.08h5.90v2.45h-5.90zM137.35 97.76h5.90v2.45h-5.90zM137.35 203.56h5.90v2.45h-5.90zM137.35 207.97h5.90v2.45h-5.90zM137.35 216.79h5.90v2.45h-5.90zM137.35 227.81h5.90v2.45h-5.90zM137.35 232.22h5.90v2.45h-5.90zM137.35 247.65h5.90v2.45h-5.90zM137.35 256.46h5.90v2.45h-5.90zM137.35 265.28h5.90v2.45h-5.90zM137.35 450.43h5.90v2.45h-5.90zM143.00 31.63h5.90v2.45h-5.90zM143.00 42.65h5.90v2.45h-5.90zM143.00 49.27h5.90v2.45h-5.90zM143.00 53.68h5.90v2.45h-5.90zM143.00 60.29h5.90v2.45h-5.90zM143.00 243.24h5.90v2.45h-5.90zM143.00 263.08h5.90v2.45h-5.90zM143.00 335.81h5.90v2.45h-5.90zM143.00 472.47h5.90v2.45h-5.90zM143.00 476.88h5.90v2.45h-5.90zM148.65 148.46h5.90v2.45h-5.90zM148.65 205.77h5.90v2.45h-5.90zM148.65 216.79h5.90v6.86h-5.90zM148.65 230.01h5.90v2.45h-5.90zM148.65 252.05h5.90v2.45h-5.90zM148.65 267.48h5.90v2.45h-5.90zM154.30 47.06h5.90v2.45h-5.90zM154.30 71.31h5.90v4.66h-5.90zM154.30 80.13h5.90v4.66h-5.90zM154.30 172.70h5.90v2.45h-5.90zM154.30 236.62h5.90v4.66h-5.90zM154.30 263.08h5.90v2.45h-5.90zM154.30 267.48h5.90v2.45h-5.90zM159.95 49.27h5.90v2.45h-5.90zM159.95 238.83h5.90v2.45h-5.90zM159.95 243.24h5.90v2.45h-5.90zM159.95 254.26h5.90v2.45h-5.90zM159.95 276.30h5.90v2.45h-5.90zM165.60 62.49h5.90v2.45h-5.90zM165.60 71.31h5.90v2.45h-5.90zM165.60 88.94h5.90v2.45h-5.90zM165.60 106.58h5.90v2.45h-5.90zM165.60 122.01h5.90v4.66h-5.90zM165.60 236.62h5.90v4.66h-5.90zM165.60 252.05h5.90v2.45h-5.90zM165.60 269.69h5.90v2.45h-5.90zM165.60 468.07h5.90v2.45h-5.90zM165.60 474.68h5.90v2.45h-5.90zM171.25 14.00h5.90v2.45h-5.90zM171.25 51.47h5.90v2.45h-5.90zM171.25 91.15h5.90v2.45h-5.90zM171.25 110.99h5.90v2.45h-5.90zM171.25 115.39h5.90v4.66h-5.90zM171.25 216.79h5.90v2.45h-5.90zM171.25 223.40h5.90v2.45h-5.90zM171.25 232.22h5.90v2.45h-5.90zM171.25 243.24h5.90v2.45h-5.90zM171.25 258.67h5.90v2.45h-5.90zM171.25 331.41h5.90v2.45h-5.90zM171.25 454.84h5.90v2.45h-5.90zM176.90 20.61h5.90v2.45h-5.90zM176.90 69.11h5.90v2.45h-5.90zM176.90 73.51h5.90v2.45h-5.90zM176.90 88.94h5.90v2.45h-5.90zM176.90 95.56h5.90v2.45h-5.90zM176.90 99.96h5.90v2.45h-5.90zM176.90 243.24h5.90v2.45h-5.90zM176.90 254.26h5.90v2.45h-5.90zM176.90 267.48h5.90v4.66h-5.90zM176.90 302.75h5.90v2.45h-5.90zM182.55 60.29h5.90v4.66h-5.90zM182.55 82.33h5.90v2.45h-5.90zM182.55 93.35h5.90v2.45h-5.90zM182.55 99.96h5.90v2.45h-5.90zM182.55 108.78h5.90v2.45h-5.90zM182.55 130.82h5.90v2.45h-5.90zM182.55 216.79h5.90v2.45h-5.90zM182.55 234.42h5.90v2.45h-5.90zM182.55 274.10h5.90v2.45h-5.90zM182.55 278.50h5.90v2.45h-5.90zM182.55 342.43h5.90v2.45h-5.90z"/>
<path fill="#f7b6a8" d="M52.60 93.35h5.90v2.45h-5.90zM52.60 282.91h5.90v2.45h-5.90zM52.60 324.79h5.90v2.45h-5.90zM52.60 349.04h5.90v4.66h-5.90zM52.60 355.65h5.90v2.45h-5.90zM52.60 364.47h5.90v2.45h-5.90zM52.60 439.41h5.90v2.45h-5.90zM52.60 443.82h5.90v2.45h-5.90zM52.60 472.47h5.90v2.45h-5.90zM58.25 16.20h5.90v2.45h-5.90zM58.25 40.45h5.90v2.45h-5.90zM58.25 60.29h5.90v2.45h-5.90zM58.25 207.97h5.90v2.45h-5.90zM58.25 278.50h5.90v2.45h-5.90zM58.25 287.32h5.90v2.45h-5.90zM63.90 18.41h5.90v2.45h-5.90zM63.90 22.82h5.90v2.45h-5.90zM63.90 27.23h5.90v2.45h-5.90zM63.90 31.63h5.90v9.07h-5.90zM63.90 315.98h5.90v2.45h-5.90zM63.90 344.63h5.90v4.66h-5.90zM63.90 437.21h5.90v2.45h-5.90zM63.90 483.50h5.90v2.45h-5.90zM69.55 25.02h5.90v2.45h-5.90zM69.55 280.71h5.90v2.45h-5.90zM69.55 342.43h5.90v2.45h-5.90zM69.55 371.08h5.90v4.66h-5.90zM69.55 390.92h5.90v2.45h-5.90zM69.55 428.39h5.90v2.45h-5.90zM69.55 432.80h5.90v2.45h-5.90zM69.55 472.47h5.90v2.45h-5.90zM69.55 483.50h5.90v2.45h-5.90zM75.20 16.20h5.90v2.45h-5.90zM75.20 20.61h5.90v2.45h-5.90zM75.20 128.62h5.90v2.45h-5.90zM75.20 282.91h5.90v4.66h-5.90zM75.20 304.96h5.90v2.45h-5.90zM75.20 360.06h5.90v2.45h-5.90zM75.20 366.67h5.90v2.45h-5.90zM75.20 377.69h5.90v2.45h-5.90zM75.20 393.12h5.90v2.45h-5.90zM75.20 404.14h5.90v2.45h-5.90zM75.20 410.76h5.90v2.45h-5.90zM75.20 435.00h5.90v2.45h-5.90zM75.20 457.05h5.90v2.45h-5.90zM75.20 470.27h5.90v2.45h-5.90zM80.85 18.41h5.90v2.45h-5.90zM80.85 36.04h5.90v2.45h-5.90zM80.85 42.65h5.90v2.45h-5.90zM80.85 293.93h5.90v2.45h-5.90zM80.85 307.16h5.90v4.66h-5.90zM80.85 333.61h5.90v2.45h-5.90zM80.85 371.08h5.90v2.45h-5.90zM80.85 454.84h5.90v2.45h-5.90zM86.50 33.84h5.90v2.45h-5.90zM86.50 313.77h5.90v2.45h-5.90zM86.50 324.79h5.90v2.45h-5.90zM86.50 353.45h5.90v2.45h-5.90zM86.50 362.26h5.90v2.45h-5.90zM86.50 373.29h5.90v2.45h-5.90zM86.50 465.86h5.90v2.45h-5.90zM86.50 476.88h5.90v2.45h-5.90zM92.15 31.63h5.90v2.45h-5.90zM92.15 80.13h5.90v2.45h-5.90zM92.15 282.91h5.90v2.45h-5.90zM92.15 289.53h5.90v2.45h-5.90zM92.15 307.16h5.90v4.66h-5.90zM92.15 329.20h5.90v2.45h-5.90zM92.15 338.02h5.90v6.86h-5.90zM92.15 346.84h5.90v2.45h-5.90zM92.15 384.31h5.90v2.45h-5.90zM92.15 401.94h5.90v2.45h-5.90zM92.15 463.66h5.90v2.45h-5.90zM92.15 470.27h5.90v2.45h-5.90zM97.80 16.20h5.90v2.45h-5.90zM97.80 280.71h5.90v2.45h-5.90zM97.80 304.96h5.90v2.45h-5.90zM97.80 311.57h5.90v2.45h-5.90zM97.80 362.26h5.90v4.66h-5.90zM97.80 375.49h5.90v2.45h-5.90zM97.80 393.12h5.90v2.45h-5.90zM97.80 401.94h5.90v2.45h-5.90zM97.80 412.96h5.90v2.45h-5.90zM97.80 432.80h5.90v2.45h-5.90zM97.80 437.21h5.90v2.45h-5.90zM97.80 468.07h5.90v2.45h-5.90zM103.45 27.23h5.90v2.45h-5.90zM103.45 38.25h5.90v2.45h-5.90zM103.45 304.96h5.90v4.66h-5.90zM103.45 318.18h5.90v2.45h-5.90zM103.45 362.26h5.90v2.45h-5.90zM103.45 390.92h5.90v2.45h-5.90zM103.45 395.33h5.90v2.45h-5.90zM103.45 399.74h5.90v2.45h-5.90zM103.45 428.39h5.90v2.45h-5.90zM103.45 457.05h5.90v2.45h-5.90zM103.45 463.66h5.90v2.45h-5.90zM103.45 470.27h5.90v2.45h-5.90zM109.10 25.02h5.90v2.45h-5.90zM109.10 40.45h5.90v2.45h-5.90zM109.10 315.98h5.90v2.45h-5.90zM109.10 335.81h5.90v2.45h-5.90zM109.10 373.29h5.90v2.45h-5.90zM109.10 382.10h5.90v2.45h-5.90zM109.10 476.88h5.90v2.45h-5.90zM109.10 481.29h5.90v2.45h-5.90zM114.75 29.43h5.90v2.45h-5.90zM114.75 80.13h5.90v2.45h-5.90zM114.75 124.21h5.90v2.45h-5.90zM114.75 280.71h5.90v2.45h-5.90zM114.75 291.73h5.90v2.45h-5.90zM114.75 300.55h5.90v2.45h-5.90zM114.75 313.77h5.90v2.45h-5.90zM114.75 333.61h5.90v2.45h-5.90zM114.75 362.26h5.90v4.66h-5.90zM114.75 373.29h5.90v4.66h-5.90zM114.75 412.96h5.90v2.45h-5.90zM114.75 435.00h5.90v4.66h-5.90zM114.75 450.43h5.90v4.66h-5.90zM114.75 461.45h5.90v4.66h-5.90zM120.40 20.61h5.90v2.45h-5.90zM120.40 40.45h5.90v2.45h-5.90zM120.40 66.90h5.90v2.45h-5.90zM120.40 73.51h5.90v2.45h-5.90zM120.40 133.03h5.90v4.66h-5.90zM120.40 144.05h5.90v2.45h-5.90zM120.40 148.46h5.90v2.45h-5.90zM120.40 159.48h5.90v2.45h-5.90zM120.40 166.09h5.90v2.45h-5.90zM120.40 177.11h5.90v2.45h-5.90zM120.40 207.97h5.90v2.45h-5.90zM120.40 225.60h5.90v2.45h-5.90zM120.40 254.26h5.90v2.45h-5.90zM120.40 307.16h5.90v2.45h-5.90zM120.40 459.25h5.90v2.45h-5.90zM126.05 14.00h5.90v2.45h-5.90zM126.05 22.82h5.90v2.45h-5.90zM126.05 33.84h5.90v2.45h-5.90zM126.05 71.31h5.90v2.45h-5.90zM126.05 137.44h5.90v2.45h-5.90zM126.05 148.46h5.90v4.66h-5.90zM126.05 163.89h5.90v2.45h-5.90zM126.05 238.83h5.90v9.07h-5.90zM126.05 448.23h5.90v2.45h-5.90zM126.05 457.05h5.90v2.45h-5.90zM131.70 40.45h5.90v2.45h-5.90zM131.70 53.68h5.90v2.45h-5.90zM131.70 86.74h5.90v2.45h-5.90zM131.70 93.35h5.90v2.45h-5.90zM131.70 139.64h5.90v2.45h-5.90zM131.70 230.01h5.90v4.66h-5.90zM137.35 31.63h5.90v2.45h-5.90zM137.35 51.47h5.90v2.45h-5.90zM137.35 73.51h5.90v2.45h-5.90zM137.35 108.78h5.90v2.45h-5.90zM137.35 225.60h5.90v2.45h-5.90zM137.35 238.83h5.90v2.45h-5.90zM137.35 252.05h5.90v4.66h-5.90zM137.35 448.23h5.90v2.45h-5.90zM143.00 20.61h5.90v2.45h-5.90zM143.00 36.04h5.90v2.45h-5.90zM143.00 40.45h5.90v2.45h-5.90zM143.00 122.01h5.90v2.45h-5.90zM143.00 247.65h5.90v4.66h-5.90zM143.00 265.28h5.90v2.45h-5.90zM143.00 269.69h5.90v2.45h-5.90zM143.00 298.34h5.90v2.45h-5.90zM143.00 331.41h5.90v2.45h-5.90zM143.00 457.05h5.90v2.45h-5.90zM143.00 461.45h5.90v4.66h-5.90zM148.65 38.25h5.90v2.45h-5.90zM148.65 93.35h5.90v2.45h-5.90zM148.65 144.05h5.90v2.45h-5.90zM148.65 201.36h5.90v2.45h-5.90zM148.65 223.40h5.90v2.45h-5.90zM148.65 256.46h5.90v2.45h-5.90zM148.65 263.08h5.90v4.66h-5.90zM154.30 16.20h5.90v2.45h-5.90zM154.30 20.61h5.90v2.45h-5.90zM154.30 33.84h5.90v2.45h-5.90zM154.30 49.27h5.90v2.45h-5.90zM154.30 53.68h5.90v2.45h-5.90zM154.30 62.49h5.90v2.45h-5.90zM154.30 168.29h5.90v2.45h-5.90zM154.30 179.32h5.90v2.45h-5.90zM154.30 207.97h5.90v9.07h-5.90zM154.30 470.27h5.90v2.45h-5.90zM159.95 84.53h5.90v2.45h-5.90zM159.95 110.99h5.90v2.45h-5.90zM159.95 122.01h5.90v2.45h-5.90zM159.95 241.03h5.90v2.45h-5.90zM159.95 269.69h5.90v2.45h-5.90zM165.60 16.20h5.90v2.45h-5.90zM165.60 126.41h5.90v2.45h-5.90zM165.60 130.82h5.90v2.45h-5.90zM165.60 223.40h5.90v2.45h-5.90zM165.60 232.22h5.90v2.45h-5.90zM165.60 265.28h5.90v2.45h-5.90zM165.60 274.10h5.90v4.66h-5.90zM171.25 27.23h5.90v4.66h-5.90zM171.25 53.68h5.90v2.45h-5.90zM171.25 99.96h5.90v2.45h-5.90zM171.25 106.58h5.90v2.45h-5.90zM171.25 218.99h5.90v2.45h-5.90zM171.25 313.77h5.90v2.45h-5.90zM171.25 340.22h5.90v2.45h-5.90zM171.25 344.63h5.90v2.45h-5.90zM171.25 457.05h5.90v2.45h-5.90zM171.25 463.66h5.90v2.45h-5.90zM176.90 53.68h5.90v2.45h-5.90zM176.90 62.49h5.90v2.45h-5.90zM176.90 66.90h5.90v2.45h-5.90zM176.90 77.92h5.90v2.45h-5.90zM176.90 201.36h5.90v2.45h-5.90zM176.90 207.97h5.90v2.45h-5.90zM176.90 216.79h5.90v2.45h-5.90zM176.90 225.60h5.90v2.45h-5.90zM176.90 234.42h5.90v2.45h-5.90zM176.90 252.05h5.90v2.45h-5.90zM176.90 271.89h5.90v2.45h-5.90zM182.55 18.41h5.90v2.45h-5.90zM182.55 38.25h5.90v2.45h-5.90zM182.55 55.88h5.90v2.45h-5.90zM182.55 71.31h5.90v2.45h-5.90zM182.55 75.72h5.90v2.45h-5.90zM182.55 80.13h5.90v2.45h-5.90zM182.55 88.94h5.90v2.45h-5.90zM182.55 106.58h5.90v2.45h-5.90z"/>
<path fill="#f5a292" d="M52.60 22.82h5.90v2.45h-5.90zM52.60 62.49h5.90v2.45h-5.90zM52.60 265.28h5.90v2.45h-5.90zM52.60 327.00h5.90v2.45h-5.90zM52.60 340.22h5.90v2.45h-5.90zM52.60 373.29h5.90v2.45h-5.90zM52.60 384.31h5.90v2.45h-5.90zM52.60 441.62h5.90v2.45h-5.90zM52.60 468.07h5.90v2.45h-5.90zM52.60 474.68h5.90v2.45h-5.90zM58.25 29.43h5.90v2.45h-5.90zM58.25 293.93h5.90v2.45h-5.90zM58.25 300.55h5.90v2.45h-5.90zM58.25 344.63h5.90v2.45h-5.90zM58.25 390.92h5.90v2.45h-5.90zM58.25 450.43h5.90v2.45h-5.90zM58.25 472.47h5.90v2.45h-5.90zM58.25 481.29h5.90v2.45h-5.90zM63.90 340.22h5.90v4.66h-5.90zM63.90 371.08h5.90v2.45h-5.90zM69.55 16.20h5.90v2.45h-5.90zM69.55 29.43h5.90v2.45h-5.90zM69.55 296.14h5.90v2.45h-5.90zM69.55 320.38h5.90v2.45h-5.90zM69.55 346.84h5.90v2.45h-5.90zM69.55 377.69h5.90v2.45h-5.90zM69.55 437.21h5.90v2.45h-5.90zM69.55 459.25h5.90v2.45h-5.90zM69.55 470.27h5.90v2.45h-5.90zM75.20 14.00h5.90v2.45h-5.90zM75.20 38.25h5.90v2.45h-5.90zM75.20 307.16h5.90v2.45h-5.90zM75.20 331.41h5.90v2.45h-5.90zM75.20 371.08h5.90v2.45h-5.90zM75.20 379.90h5.90v4.66h-5.90zM75.20 432.80h5.90v2.45h-5.90zM75.20 459.25h5.90v2.45h-5.90zM75.20 479.09h5.90v2.45h-5.90zM80.85 29.43h5.90v2.45h-5.90zM80.85 355.65h5.90v2.45h-5.90zM80.85 463.66h5.90v2.45h-5.90zM80.85 470.27h5.90v2.45h-5.90zM86.50 31.63h5.90v2.45h-5.90zM86.50 232.22h5.90v2.45h-5.90zM86.50 307.16h5.90v2.45h-5.90zM86.50 318.18h5.90v2.45h-5.90zM86.50 340.22h5.90v4.66h-5.90zM86.50 351.24h5.90v2.45h-5.90zM86.50 377.69h5.90v2.45h-5.90zM86.50 382.10h5.90v2.45h-5.90zM86.50 412.96h5.90v2.45h-5.90zM86.50 426.19h5.90v2.45h-5.90zM92.15 278.50h5.90v2.45h-5.90zM92.15 285.12h5.90v2.45h-5.90zM92.15 296.14h5.90v4.66h-5.90zM92.15 320.38h5.90v2.45h-5.90zM92.15 351.24h5.90v2.45h-5.90zM92.15 360.06h5.90v2.45h-5.90zM92.15 371.08h5.90v4.66h-5.90zM92.15 408.55h5.90v2.45h-5.90zM92.15 417.37h5.90v2.45h-5.90zM92.15 459.25h5.90v4.66h-5.90zM92.15 481.29h5.90v2.45h-5.90zM97.80 22.82h5.90v2.45h-5.90zM97.80 27.23h5.90v4.66h-5.90zM97.80 36.04h5.90v2.45h-5.90zM97.80 278.50h5.90v2.45h-5.90zM97.80 287.32h5.90v4.66h-5.90zM97.80 293.93h5.90v6.86h-5.90zM97.80 307.16h5.90v2.45h-5.90zM97.80 313.77h5.90v2.45h-5.90zM97.80 322.59h5.90v2.45h-5.90zM97.80 333.61h5.90v2.45h-5.90zM97.80 353.45h5.90v2.45h-5.90zM97.80 450.43h5.90v2.45h-5.90zM97.80 474.68h5.90v2.45h-5.90zM97.80 481.29h5.90v2.45h-5.90zM103.45 20.61h5.90v2.45h-5.90zM103.45 285.12h5.90v2.45h-5.90zM103.45 291.73h5.90v2.45h-5.90zM103.45 302.75h5.90v2.45h-5.90zM103.45 309.36h5.90v2.45h-5.90zM103.45 333.61h5.90v2.45h-5.90zM103.45 340.22h5.90v2.45h-5.90zM103.45 349.04h5.90v4.66h-5.90zM103.45 355.65h5.90v2.45h-5.90zM103.45 360.06h5.90v2.45h-5.90zM103.45 417.37h5.90v2.45h-5.90zM103.45 421.78h5.90v2.45h-5.90zM103.45 465.86h5.90v2.45h-5.90zM103.45 472.47h5.90v2.45h-5.90zM103.45 476.88h5.90v2.45h-5.90zM109.10 285.12h5.90v2.45h-5.90zM109.10 313.77h5.90v2.45h-5.90zM109.10 318.18h5.90v4.66h-5.90zM109.10 338.02h5.90v2.45h-5.90zM109.10 452.64h5.90v2.45h-5.90zM114.75 16.20h5.90v2.45h-5.90zM114.75 25.02h5.90v2.45h-5.90zM114.75 33.84h5.90v4.66h-5.90zM114.75 44.86h5.90v2.45h-5.90zM114.75 338.02h5.90v2.45h-5.90zM114.75 470.27h5.90v2.45h-5.90zM114.75 476.88h5.90v2.45h-5.90zM120.40 18.41h5.90v2.45h-5.90zM120.40 29.43h5.90v2.45h-5.90zM120.40 55.88h5.90v2.45h-5.90zM120.40 115.39h5.90v2.45h-5.90zM120.40 128.62h5.90v2.45h-5.90zM120.40 139.64h5.90v2.45h-5.90zM120.40 179.32h5.90v2.45h-5.90zM120.40 221.20h5.90v2.45h-5.90zM120.40 245.44h5.90v4.66h-5.90zM120.40 274.10h5.90v2.45h-5.90zM120.40 278.50h5.90v2.45h-5.90zM120.40 282.91h5.90v2.45h-5.90zM126.05 18.41h5.90v2.45h-5.90zM126.05 25.02h5.90v2.45h-5.90zM126.05 53.68h5.90v2.45h-5.90zM126.05 60.29h5.90v2.45h-5.90zM126.05 80.13h5.90v2.45h-5.90zM126.05 155.07h5.90v2.45h-5.90zM126.05 172.70h5.90v2.45h-5.90zM126.05 199.15h5.90v2.45h-5.90zM126.05 207.97h5.90v2.45h-5.90zM126.05 218.99h5.90v2.45h-5.90zM126.05 225.60h5.90v2.45h-5.90zM126.05 232.22h5.90v2.45h-5.90zM126.05 236.62h5.90v2.45h-5.90zM126.05 247.65h5.90v2.45h-5.90zM131.70 44.86h5.90v2.45h-5.90zM131.70 51.47h5.90v2.45h-5.90zM131.70 75.72h5.90v2.45h-5.90zM131.70 122.01h5.90v2.45h-5.90zM131.70 152.86h5.90v2.45h-5.90zM131.70 238.83h5.90v4.66h-5.90zM131.70 247.65h5.90v4.66h-5.90zM131.70 260.87h5.90v2.45h-5.90zM137.35 27.23h5.90v4.66h-5.90zM137.35 38.25h5.90v2.45h-5.90zM137.35 44.86h5.90v2.45h-5.90zM137.35 60.29h5.90v2.45h-5.90zM137.35 64.70h5.90v2.45h-5.90zM137.35 69.11h5.90v2.45h-5.90zM137.35 199.15h5.90v2.45h-5.90zM137.35 210.17h5.90v2.45h-5.90zM137.35 245.44h5.90v2.45h-5.90zM137.35 271.89h5.90v2.45h-5.90zM137.35 446.02h5.90v2.45h-5.90zM137.35 452.64h5.90v2.45h-5.90zM143.00 22.82h5.90v2.45h-5.90zM143.00 75.72h5.90v4.66h-5.90zM143.00 82.33h5.90v2.45h-5.90zM143.00 128.62h5.90v2.45h-5.90zM143.00 296.14h5.90v2.45h-5.90zM148.65 18.41h5.90v2.45h-5.90zM148.65 62.49h5.90v2.45h-5.90zM148.65 97.76h5.90v2.45h-5.90zM148.65 227.81h5.90v2.45h-5.90zM148.65 243.24h5.90v2.45h-5.90zM154.30 40.45h5.90v2.45h-5.90zM154.30 205.77h5.90v2.45h-5.90zM154.30 234.42h5.90v2.45h-5.90zM154.30 247.65h5.90v2.45h-5.90zM154.30 265.28h5.90v2.45h-5.90zM154.30 450.43h5.90v2.45h-5.90zM154.30 457.05h5.90v2.45h-5.90zM154.30 463.66h5.90v2.45h-5.90zM154.30 468.07h5.90v2.45h-5.90zM159.95 16.20h5.90v2.45h-5.90zM159.95 36.04h5.90v2.45h-5.90zM159.95 62.49h5.90v2.45h-5.90zM159.95 71.31h5.90v2.45h-5.90zM159.95 86.74h5.90v2.45h-5.90zM159.95 113.19h5.90v4.66h-5.90zM165.60 22.82h5.90v4.66h-5.90zM165.60 51.47h5.90v2.45h-5.90zM165.60 86.74h5.90v2.45h-5.90zM165.60 93.35h5.90v2.45h-5.90zM165.60 221.20h5.90v2.45h-5.90zM165.60 225.60h5.90v4.66h-5.90zM165.60 241.03h5.90v2.45h-5.90zM165.60 271.89h5.90v2.45h-5.90zM171.25 47.06h5.90v2.45h-5.90zM171.25 60.29h5.90v2.45h-5.90zM171.25 73.51h5.90v2.45h-5.90zM171.25 82.33h5.90v2.45h-5.90zM171.25 126.41h5.90v2.45h-5.90zM171.25 461.45h5.90v2.45h-5.90zM171.25 465.86h5.90v2.45h-5.90zM176.90 18.41h5.90v2.45h-5.90zM176.90 31.63h5.90v2.45h-5.90zM176.90 60.29h5.90v2.45h-5.90zM176.90 71.31h5.90v2.45h-5.90zM176.90 86.74h5.90v2.45h-5.90zM176.90 93.35h5.90v2.45h-5.90zM176.90 97.76h5.90v2.45h-5.90zM176.90 102.17h5.90v2.45h-5.90zM176.90 210.17h5.90v4.66h-5.90zM176.90 245.44h5.90v2.45h-5.90zM182.55 16.20h5.90v2.45h-5.90zM182.55 20.61h5.90v2.45h-5.90zM182.55 27.23h5.90v2.45h-5.90zM182.55 36.04h5.90v2.45h-5.90zM182.55 53.68h5.90v2.45h-5.90zM182.55 249.85h5.90v2.45h-5.90zM182.55 265.28h5.90v2.45h-5.90zM182.55 269.69h5.90v2.45h-5.90zM182.55 450.43h5.90v2.45h-5.90zM182.55 454.84h5.90v4.66h-5.90z"/>
<path fill="#f28d7c" d="M52.60 58.08h5.90v4.66h-5.90zM52.60 64.70h5.90v2.45h-5.90zM52.60 280.71h5.90v2.45h-5.90zM52.60 289.53h5.90v2.45h-5.90zM52.60 302.75h5.90v2.45h-5.90zM52.60 329.20h5.90v2.45h-5.90zM52.60 388.71h5.90v2.45h-5.90zM52.60 450.43h5.90v2.45h-5.90zM52.60 463.66h5.90v2.45h-5.90zM52.60 476.88h5.90v2.45h-5.90zM58.25 322.59h5.90v2.45h-5.90zM58.25 329.20h5.90v2.45h-5.90zM58.25 457.05h5.90v2.45h-5.90zM58.25 479.09h5.90v2.45h-5.90zM63.90 53.68h5.90v2.45h-5.90zM63.90 280.71h5.90v2.45h-5.90zM63.90 296.14h5.90v2.45h-5.90zM63.90 313.77h5.90v2.45h-5.90zM63.90 324.79h5.90v2.45h-5.90zM63.90 329.20h5.90v2.45h-5.90zM63.90 333.61h5.90v2.45h-5.90zM63.90 446.02h5.90v2.45h-5.90zM63.90 481.29h5.90v2.45h-5.90zM69.55 27.23h5.90v2.45h-5.90zM69.55 298.34h5.90v2.45h-5.90zM69.55 329.20h5.90v4.66h-5.90zM69.55 379.90h5.90v2.45h-5.90zM69.55 450.43h5.90v2.45h-5.90zM69.55 468.07h5.90v2.45h-5.90zM69.55 481.29h5.90v2.45h-5.90zM75.20 280.71h5.90v2.45h-5.90zM75.20 309.36h5.90v4.66h-5.90zM75.20 338.02h5.90v2.45h-5.90zM75.20 375.49h5.90v2.45h-5.90zM80.85 22.82h5.90v2.45h-5.90zM80.85 38.25h5.90v2.45h-5.90zM80.85 324.79h5.90v2.45h-5.90zM80.85 329.20h5.90v4.66h-5.90zM80.85 338.02h5.90v2.45h-5.90zM80.85 461.45h5.90v2.45h-5.90zM80.85 474.68h5.90v2.45h-5.90zM86.50 331.41h5.90v2.45h-5.90zM86.50 335.81h5.90v2.45h-5.90zM86.50 349.04h5.90v2.45h-5.90zM86.50 357.86h5.90v2.45h-5.90zM86.50 366.67h5.90v2.45h-5.90zM86.50 371.08h5.90v2.45h-5.90zM86.50 410.76h5.90v2.45h-5.90zM86.50 450.43h5.90v2.45h-5.90zM86.50 470.27h5.90v4.66h-5.90zM86.50 479.09h5.90v2.45h-5.90zM92.15 287.32h5.90v2.45h-5.90zM92.15 318.18h5.90v2.45h-5.90zM92.15 454.84h5.90v2.45h-5.90zM92.15 472.47h5.90v2.45h-5.90zM97.80 38.25h5.90v2.45h-5.90zM97.80 309.36h5.90v2.45h-5.90zM97.80 315.98h5.90v4.66h-5.90zM97.80 338.02h5.90v2.45h-5.90zM97.80 342.43h5.90v2.45h-5.90zM97.80 355.65h5.90v2.45h-5.90zM97.80 373.29h5.90v2.45h-5.90zM97.80 461.45h5.90v4.66h-5.90zM97.80 476.88h5.90v2.45h-5.90zM103.45 31.63h5.90v2.45h-5.90zM103.45 322.59h5.90v2.45h-5.90zM103.45 331.41h5.90v2.45h-5.90zM103.45 335.81h5.90v2.45h-5.90zM103.45 382.10h5.90v2.45h-5.90zM103.45 419.57h5.90v2.45h-5.90zM103.45 446.02h5.90v4.66h-5.90zM103.45 483.50h5.90v2.45h-5.90zM109.10 27.23h5.90v4.66h-5.90zM109.10 75.72h5.90v2.45h-5.90zM109.10 327.00h5.90v2.45h-5.90zM109.10 346.84h5.90v2.45h-5.90zM109.10 446.02h5.90v2.45h-5.90zM109.10 450.43h5.90v2.45h-5.90zM109.10 454.84h5.90v4.66h-5.90zM109.10 461.45h5.90v2.45h-5.90zM109.10 465.86h5.90v2.45h-5.90zM109.10 470.27h5.90v2.45h-5.90zM109.10 479.09h5.90v2.45h-5.90zM114.75 22.82h5.90v2.45h-5.90zM114.75 38.25h5.90v2.45h-5.90zM114.75 69.11h5.90v2.45h-5.90zM114.75 289.53h5.90v2.45h-5.90zM114.75 318.18h5.90v4.66h-5.90zM114.75 324.79h5.90v2.45h-5.90zM114.75 340.22h5.90v2.45h-5.90zM114.75 382.10h5.90v2.45h-5.90zM114.75 443.82h5.90v2.45h-5.90zM114.75 448.23h5.90v2.45h-5.90zM114.75 483.50h5.90v2.45h-5.90zM120.40 14.00h5.90v2.45h-5.90zM120.40 117.60h5.90v4.66h-5.90zM120.40 130.82h5.90v2.45h-5.90zM120.40 174.91h5.90v2.45h-5.90zM120.40 214.58h5.90v2.45h-5.90zM120.40 227.81h5.90v2.45h-5.90zM120.40 280.71h5.90v2.45h-5.90zM126.05 20.61h5.90v2.45h-5.90zM126.05 27.23h5.90v2.45h-5.90zM126.05 130.82h5.90v4.66h-5.90zM126.05 170.50h5.90v2.45h-5.90zM126.05 214.58h5.90v2.45h-5.90zM126.05 223.40h5.90v2.45h-5.90zM126.05 227.81h5.90v2.45h-5.90zM126.05 454.84h5.90v2.45h-5.90zM126.05 461.45h5.90v2.45h-5.90zM131.70 38.25h5.90v2.45h-5.90zM131.70 55.88h5.90v2.45h-5.90zM131.70 77.92h5.90v2.45h-5.90zM131.70 144.05h5.90v2.45h-5.90zM131.70 267.48h5.90v2.45h-5.90zM137.35 25.02h5.90v2.45h-5.90zM137.35 33.84h5.90v2.45h-5.90zM137.35 102.17h5.90v2.45h-5.90zM137.35 106.58h5.90v2.45h-5.90zM137.35 205.77h5.90v2.45h-5.90zM137.35 214.58h5.90v2.45h-5.90zM137.35 243.24h5.90v2.45h-5.90zM137.35 249.85h5.90v2.45h-5.90zM143.00 14.00h5.90v4.66h-5.90zM143.00 62.49h5.90v2.45h-5.90zM143.00 130.82h5.90v4.66h-5.90zM143.00 450.43h5.90v4.66h-5.90zM143.00 459.25h5.90v2.45h-5.90zM148.65 33.84h5.90v4.66h-5.90zM148.65 42.65h5.90v2.45h-5.90zM148.65 73.51h5.90v2.45h-5.90zM148.65 77.92h5.90v2.45h-5.90zM148.65 91.15h5.90v2.45h-5.90zM148.65 104.37h5.90v4.66h-5.90zM148.65 234.42h5.90v2.45h-5.90zM148.65 238.83h5.90v4.66h-5.90zM148.65 245.44h5.90v4.66h-5.90zM148.65 258.67h5.90v2.45h-5.90zM154.30 18.41h5.90v2.45h-5.90zM154.30 31.63h5.90v2.45h-5.90zM154.30 38.25h5.90v2.45h-5.90zM154.30 58.08h5.90v2.45h-5.90zM154.30 199.15h5.90v2.45h-5.90zM154.30 203.56h5.90v2.45h-5.90zM154.30 241.03h5.90v2.45h-5.90zM159.95 18.41h5.90v2.45h-5.90zM159.95 25.02h5.90v2.45h-5.90zM159.95 29.43h5.90v4.66h-5.90zM159.95 38.25h5.90v2.45h-5.90zM159.95 73.51h5.90v2.45h-5.90zM159.95 252.05h5.90v2.45h-5.90zM159.95 267.48h5.90v2.45h-5.90zM165.60 18.41h5.90v2.45h-5.90zM165.60 27.23h5.90v2.45h-5.90zM165.60 31.63h5.90v2.45h-5.90zM165.60 69.11h5.90v2.45h-5.90zM165.60 75.72h5.90v4.66h-5.90zM165.60 82.33h5.90v2.45h-5.90zM165.60 91.15h5.90v2.45h-5.90zM165.60 95.56h5.90v2.45h-5.90zM165.60 99.96h5.90v4.66h-5.90zM165.60 119.80h5.90v2.45h-5.90zM165.60 234.42h5.90v2.45h-5.90zM171.25 18.41h5.90v4.66h-5.90zM171.25 58.08h5.90v2.45h-5.90zM171.25 64.70h5.90v4.66h-5.90zM171.25 71.31h5.90v2.45h-5.90zM171.25 86.74h5.90v2.45h-5.90zM171.25 93.35h5.90v2.45h-5.90zM171.25 113.19h5.90v2.45h-5.90zM171.25 252.05h5.90v2.45h-5.90zM176.90 27.23h5.90v2.45h-5.90zM176.90 33.84h5.90v4.66h-5.90zM176.90 104.37h5.90v2.45h-5.90zM176.90 108.78h5.90v2.45h-5.90zM176.90 199.15h5.90v2.45h-5.90zM176.90 218.99h5.90v2.45h-5.90zM176.90 227.81h5.90v2.45h-5.90zM176.90 260.87h5.90v2.45h-5.90zM176.90 300.55h5.90v2.45h-5.90zM176.90 454.84h5.90v2.45h-5.90zM182.55 25.02h5.90v2.45h-5.90zM182.55 31.63h5.90v2.45h-5.90zM182.55 44.86h5.90v2.45h-5.90zM182.55 49.27h5.90v2.45h-5.90zM182.55 73.51h5.90v2.45h-5.90zM182.55 77.92h5.90v2.45h-5.90zM182.55 448.23h5.90v2.45h-5.90z"/>
<path fill="#f07866" d="M52.60 296.14h5.90v2.45h-5.90zM52.60 300.55h5.90v2.45h-5.90zM52.60 338.02h5.90v2.45h-5.90zM52.60 362.26h5.90v2.45h-5.90zM52.60 459.25h5.90v4.66h-5.90zM52.60 465.86h5.90v2.45h-5.90zM58.25 296.14h5.90v2.45h-5.90zM58.25 459.25h5.90v2.45h-5.90zM63.90 278.50h5.90v2.45h-5.90zM63.90 298.34h5.90v2.45h-5.90zM63.90 302.75h5.90v2.45h-5.90zM63.90 457.05h5.90v2.45h-5.90zM63.90 465.86h5.90v2.45h-5.90zM63.90 472.47h5.90v2.45h-5.90zM63.90 479.09h5.90v2.45h-5.90zM69.55 285.12h5.90v2.45h-5.90zM69.55 300.55h5.90v2.45h-5.90zM69.55 324.79h5.90v2.45h-5.90zM69.55 340.22h5.90v2.45h-5.90zM69.55 465.86h5.90v2.45h-5.90zM69.55 479.09h5.90v2.45h-5.90zM75.20 318.18h5.90v2.45h-5.90zM75.20 346.84h5.90v2.45h-5.90zM75.20 468.07h5.90v2.45h-5.90zM75.20 472.47h5.90v2.45h-5.90zM80.85 327.00h5.90v2.45h-5.90zM80.85 465.86h5.90v2.45h-5.90zM80.85 481.29h5.90v2.45h-5.90zM86.50 298.34h5.90v2.45h-5.90zM86.50 315.98h5.90v2.45h-5.90zM86.50 322.59h5.90v2.45h-5.90zM86.50 327.00h5.90v2.45h-5.90zM86.50 338.02h5.90v2.45h-5.90zM86.50 344.63h5.90v4.66h-5.90zM86.50 360.06h5.90v2.45h-5.90zM86.50 375.49h5.90v2.45h-5.90zM86.50 379.90h5.90v2.45h-5.90zM86.50 388.71h5.90v2.45h-5.90zM86.50 415.17h5.90v4.66h-5.90zM86.50 423.98h5.90v2.45h-5.90zM86.50 446.02h5.90v4.66h-5.90zM92.15 82.33h5.90v2.45h-5.90zM92.15 311.57h5.90v2.45h-5.90zM92.15 349.04h5.90v2.45h-5.90zM92.15 355.65h5.90v4.66h-5.90zM92.15 362.26h5.90v2.45h-5.90zM97.80 324.79h5.90v2.45h-5.90zM97.80 329.20h5.90v4.66h-5.90zM97.80 382.10h5.90v2.45h-5.90zM97.80 446.02h5.90v4.66h-5.90zM97.80 454.84h5.90v2.45h-5.90zM103.45 36.04h5.90v2.45h-5.90zM103.45 329.20h5.90v2.45h-5.90zM103.45 338.02h5.90v2.45h-5.90zM103.45 342.43h5.90v4.66h-5.90zM103.45 452.64h5.90v2.45h-5.90zM103.45 459.25h5.90v2.45h-5.90zM103.45 474.68h5.90v2.45h-5.90zM103.45 479.09h5.90v2.45h-5.90zM109.10 324.79h5.90v2.45h-5.90zM109.10 331.41h5.90v2.45h-5.90zM109.10 340.22h5.90v2.45h-5.90zM109.10 463.66h5.90v2.45h-5.90zM109.10 474.68h5.90v2.45h-5.90zM114.75 335.81h5.90v2.45h-5.90zM114.75 342.43h5.90v2.45h-5.90zM114.75 346.84h5.90v2.45h-5.90zM114.75 457.05h5.90v2.45h-5.90zM114.75 474.68h5.90v2.45h-5.90zM120.40 38.25h5.90v2.45h-5.90zM120.40 126.41h5.90v2.45h-5.90zM120.40 249.85h5.90v2.45h-5.90zM126.05 168.29h5.90v2.45h-5.90zM126.05 177.11h5.90v4.66h-5.90zM126.05 203.56h5.90v2.45h-5.90zM126.05 210.17h5.90v2.45h-5.90zM126.05 216.79h5.90v2.45h-5.90zM126.05 234.42h5.90v2.45h-5.90zM131.70 14.00h5.90v2.45h-5.90zM131.70 18.41h5.90v2.45h-5.90zM131.70 27.23h5.90v2.45h-5.90zM131.70 58.08h5.90v2.45h-5.90zM131.70 234.42h5.90v4.66h-5.90zM131.70 263.08h5.90v2.45h-5.90zM131.70 269.69h5.90v2.45h-5.90zM131.70 276.30h5.90v2.45h-5.90zM137.35 14.00h5.90v2.45h-5.90zM137.35 18.41h5.90v6.86h-5.90zM137.35 66.90h5.90v2.45h-5.90zM143.00 29.43h5.90v2.45h-5.90zM143.00 474.68h5.90v2.45h-5.90zM143.00 479.09h5.90v2.45h-5.90zM148.65 47.06h5.90v2.45h-5.90zM148.65 99.96h5.90v2.45h-5.90zM148.65 199.15h5.90v2.45h-5.90zM154.30 22.82h5.90v4.66h-5.90zM154.30 29.43h5.90v2.45h-5.90zM154.30 106.58h5.90v2.45h-5.90zM154.30 174.91h5.90v2.45h-5.90zM154.30 201.36h5.90v2.45h-5.90zM154.30 249.85h5.90v2.45h-5.90zM154.30 454.84h5.90v2.45h-5.90zM159.95 77.92h5.90v2.45h-5.90zM159.95 82.33h5.90v2.45h-5.90zM159.95 91.15h5.90v2.45h-5.90zM165.60 14.00h5.90v2.45h-5.90zM165.60 36.04h5.90v2.45h-5.90zM165.60 80.13h5.90v2.45h-5.90zM165.60 97.76h5.90v2.45h-5.90zM165.60 110.99h5.90v2.45h-5.90zM165.60 115.39h5.90v2.45h-5.90zM171.25 36.04h5.90v4.66h-5.90zM171.25 62.49h5.90v2.45h-5.90zM171.25 69.11h5.90v2.45h-5.90zM171.25 80.13h5.90v2.45h-5.90zM171.25 84.53h5.90v2.45h-5.90zM171.25 95.56h5.90v4.66h-5.90zM171.25 104.37h5.90v2.45h-5.90zM176.90 14.00h5.90v2.45h-5.90zM176.90 29.43h5.90v2.45h-5.90zM176.90 38.25h5.90v2.45h-5.90zM176.90 64.70h5.90v2.45h-5.90zM176.90 106.58h5.90v2.45h-5.90zM176.90 221.20h5.90v2.45h-5.90zM176.90 247.65h5.90v2.45h-5.90zM176.90 457.05h5.90v2.45h-5.90zM182.55 22.82h5.90v2.45h-5.90zM182.55 29.43h5.90v2.45h-5.90zM182.55 66.90h5.90v4.66h-5.90zM182.55 276.30h5.90v2.45h-5.90zM182.55 461.45h5.90v2.45h-5.90z"/>
<path fill="#ee6450" d="M52.60 25.02h5.90v2.45h-5.90zM52.60 267.48h5.90v2.45h-5.90zM52.60 285.12h5.90v2.45h-5.90zM52.60 298.34h5.90v2.45h-5.90zM52.60 353.45h5.90v2.45h-5.90zM52.60 448.23h5.90v2.45h-5.90zM52.60 452.64h5.90v2.45h-5.90zM52.60 457.05h5.90v2.45h-5.90zM58.25 22.82h5.90v2.45h-5.90zM58.25 27.23h5.90v2.45h-5.90zM58.25 302.75h5.90v2.45h-5.90zM58.25 448.23h5.90v2.45h-5.90zM58.25 454.84h5.90v2.45h-5.90zM63.90 25.02h5.90v2.45h-5.90zM63.90 29.43h5.90v2.45h-5.90zM63.90 282.91h5.90v2.45h-5.90zM63.90 287.32h5.90v9.07h-5.90zM63.90 322.59h5.90v2.45h-5.90zM63.90 331.41h5.90v2.45h-5.90zM63.90 338.02h5.90v2.45h-5.90zM63.90 470.27h5.90v2.45h-5.90zM69.55 282.91h5.90v2.45h-5.90zM69.55 302.75h5.90v2.45h-5.90zM69.55 333.61h5.90v2.45h-5.90zM75.20 340.22h5.90v2.45h-5.90zM75.20 461.45h5.90v2.45h-5.90zM75.20 481.29h5.90v2.45h-5.90zM80.85 16.20h5.90v2.45h-5.90zM80.85 31.63h5.90v2.45h-5.90zM80.85 459.25h5.90v2.45h-5.90zM80.85 468.07h5.90v2.45h-5.90zM86.50 309.36h5.90v2.45h-5.90zM86.50 320.38h5.90v2.45h-5.90zM86.50 333.61h5.90v2.45h-5.90zM86.50 368.88h5.90v2.45h-5.90zM86.50 386.51h5.90v2.45h-5.90zM92.15 404.14h5.90v2.45h-5.90zM97.80 25.02h5.90v2.45h-5.90zM97.80 320.38h5.90v2.45h-5.90zM97.80 327.00h5.90v2.45h-5.90zM97.80 344.63h5.90v2.45h-5.90zM97.80 395.33h5.90v2.45h-5.90zM97.80 452.64h5.90v2.45h-5.90zM97.80 457.05h5.90v4.66h-5.90zM97.80 483.50h5.90v2.45h-5.90zM103.45 33.84h5.90v2.45h-5.90zM103.45 287.32h5.90v2.45h-5.90zM103.45 366.67h5.90v2.45h-5.90zM103.45 377.69h5.90v4.66h-5.90zM103.45 388.71h5.90v2.45h-5.90zM103.45 454.84h5.90v2.45h-5.90zM103.45 481.29h5.90v2.45h-5.90zM109.10 22.82h5.90v2.45h-5.90zM109.10 33.84h5.90v2.45h-5.90zM109.10 333.61h5.90v2.45h-5.90zM109.10 448.23h5.90v2.45h-5.90zM114.75 31.63h5.90v2.45h-5.90zM114.75 307.16h5.90v4.66h-5.90zM114.75 331.41h5.90v2.45h-5.90zM114.75 379.90h5.90v2.45h-5.90zM114.75 481.29h5.90v2.45h-5.90zM120.40 232.22h5.90v2.45h-5.90zM120.40 285.12h5.90v2.45h-5.90zM126.05 135.23h5.90v2.45h-5.90zM126.05 174.91h5.90v2.45h-5.90zM126.05 201.36h5.90v2.45h-5.90zM126.05 205.77h5.90v2.45h-5.90zM126.05 212.38h5.90v2.45h-5.90zM126.05 230.01h5.90v2.45h-5.90zM131.70 22.82h5.90v4.66h-5.90zM131.70 33.84h5.90v4.66h-5.90zM131.70 62.49h5.90v13.48h-5.90zM131.70 137.44h5.90v2.45h-5.90zM131.70 243.24h5.90v2.45h-5.90zM137.35 36.04h5.90v2.45h-5.90zM137.35 150.66h5.90v2.45h-5.90zM143.00 27.23h5.90v2.45h-5.90zM148.65 31.63h5.90v2.45h-5.90zM148.65 51.47h5.90v2.45h-5.90zM148.65 69.11h5.90v2.45h-5.90zM148.65 232.22h5.90v2.45h-5.90zM148.65 236.62h5.90v2.45h-5.90zM154.30 36.04h5.90v2.45h-5.90zM154.30 42.65h5.90v4.66h-5.90zM154.30 51.47h5.90v2.45h-5.90zM154.30 55.88h5.90v2.45h-5.90zM154.30 102.17h5.90v2.45h-5.90zM159.95 33.84h5.90v2.45h-5.90zM159.95 42.65h5.90v2.45h-5.90zM159.95 64.70h5.90v2.45h-5.90zM159.95 88.94h5.90v2.45h-5.90zM159.95 108.78h5.90v2.45h-5.90zM165.60 20.61h5.90v2.45h-5.90zM165.60 29.43h5.90v2.45h-5.90zM165.60 40.45h5.90v2.45h-5.90zM165.60 44.86h5.90v4.66h-5.90zM165.60 55.88h5.90v2.45h-5.90zM165.60 73.51h5.90v2.45h-5.90zM171.25 22.82h5.90v2.45h-5.90zM171.25 42.65h5.90v2.45h-5.90zM171.25 88.94h5.90v2.45h-5.90zM176.90 22.82h5.90v2.45h-5.90zM176.90 58.08h5.90v2.45h-5.90zM176.90 80.13h5.90v2.45h-5.90zM176.90 91.15h5.90v2.45h-5.90zM176.90 205.77h5.90v2.45h-5.90zM176.90 232.22h5.90v2.45h-5.90zM176.90 461.45h5.90v2.45h-5.90zM182.55 459.25h5.90v2.45h-5.90z"/>
<path fill="#eb5246" d="M52.60 27.23h5.90v2.45h-5.90zM52.60 470.27h5.90v2.45h-5.90zM58.25 280.71h5.90v2.45h-5.90zM63.90 450.43h5.90v2.45h-5.90zM63.90 474.68h5.90v4.66h-5.90zM69.55 287.32h5.90v2.45h-5.90zM69.55 291.73h5.90v2.45h-5.90zM69.55 322.59h5.90v2.45h-5.90zM69.55 338.02h5.90v2.45h-5.90zM69.55 446.02h5.90v2.45h-5.90zM69.55 452.64h5.90v2.45h-5.90zM69.55 457.05h5.90v2.45h-5.90zM69.55 461.45h5.90v2.45h-5.90zM75.20 22.82h5.90v2.45h-5.90zM80.85 344.63h5.90v2.45h-5.90zM80.85 479.09h5.90v2.45h-5.90zM86.50 311.57h5.90v2.45h-5.90zM86.50 329.20h5.90v2.45h-5.90zM92.15 304.96h5.90v2.45h-5.90zM97.80 335.81h5.90v2.45h-5.90zM97.80 379.90h5.90v2.45h-5.90zM103.45 313.77h5.90v2.45h-5.90zM103.45 346.84h5.90v2.45h-5.90zM103.45 450.43h5.90v2.45h-5.90zM109.10 459.25h5.90v2.45h-5.90zM114.75 311.57h5.90v2.45h-5.90zM114.75 479.09h5.90v2.45h-5.90zM126.05 16.20h5.90v2.45h-5.90zM131.70 20.61h5.90v2.45h-5.90zM131.70 29.43h5.90v2.45h-5.90zM131.70 49.27h5.90v2.45h-5.90zM131.70 60.29h5.90v2.45h-5.90zM131.70 265.28h5.90v2.45h-5.90zM137.35 40.45h5.90v2.45h-5.90zM137.35 71.31h5.90v2.45h-5.90zM143.00 300.55h5.90v2.45h-5.90zM148.65 14.00h5.90v2.45h-5.90zM148.65 20.61h5.90v2.45h-5.90zM148.65 29.43h5.90v2.45h-5.90zM148.65 40.45h5.90v2.45h-5.90zM148.65 58.08h5.90v4.66h-5.90zM148.65 64.70h5.90v4.66h-5.90zM148.65 71.31h5.90v2.45h-5.90zM148.65 95.56h5.90v2.45h-5.90zM154.30 69.11h5.90v2.45h-5.90zM159.95 58.08h5.90v2.45h-5.90zM159.95 66.90h5.90v2.45h-5.90zM159.95 75.72h5.90v2.45h-5.90zM159.95 80.13h5.90v2.45h-5.90zM159.95 93.35h5.90v4.66h-5.90zM165.60 33.84h5.90v2.45h-5.90zM165.60 42.65h5.90v2.45h-5.90zM165.60 64.70h5.90v2.45h-5.90zM171.25 25.02h5.90v2.45h-5.90zM171.25 31.63h5.90v4.66h-5.90zM171.25 44.86h5.90v2.45h-5.90zM171.25 75.72h5.90v2.45h-5.90zM176.90 42.65h5.90v2.45h-5.90zM176.90 203.56h5.90v2.45h-5.90zM176.90 230.01h5.90v2.45h-5.90zM182.55 97.76h5.90v2.45h-5.90z"/>
<path fill="#e8413b" d="M52.60 29.43h5.90v2.45h-5.90zM52.60 278.50h5.90v2.45h-5.90zM52.60 446.02h5.90v2.45h-5.90zM52.60 454.84h5.90v2.45h-5.90zM63.90 448.23h5.90v2.45h-5.90zM63.90 452.64h5.90v2.45h-5.90zM63.90 468.07h5.90v2.45h-5.90zM69.55 289.53h5.90v2.45h-5.90zM69.55 454.84h5.90v2.45h-5.90zM75.20 454.84h5.90v2.45h-5.90zM75.20 474.68h5.90v2.45h-5.90zM75.20 483.50h5.90v2.45h-5.90zM80.85 472.47h5.90v2.45h-5.90zM80.85 476.88h5.90v2.45h-5.90zM80.85 483.50h5.90v2.45h-5.90zM86.50 304.96h5.90v2.45h-5.90zM86.50 452.64h5.90v2.45h-5.90zM92.15 313.77h5.90v4.66h-5.90zM92.15 465.86h5.90v2.45h-5.90zM97.80 479.09h5.90v2.45h-5.90zM103.45 375.49h5.90v2.45h-5.90zM109.10 36.04h5.90v2.45h-5.90zM131.70 31.63h5.90v2.45h-5.90zM131.70 258.67h5.90v2.45h-5.90zM148.65 25.02h5.90v4.66h-5.90zM148.65 44.86h5.90v2.45h-5.90zM148.65 53.68h5.90v2.45h-5.90zM159.95 22.82h5.90v2.45h-5.90zM159.95 44.86h5.90v2.45h-5.90zM159.95 60.29h5.90v2.45h-5.90zM159.95 99.96h5.90v2.45h-5.90zM171.25 40.45h5.90v2.45h-5.90zM171.25 77.92h5.90v2.45h-5.90zM171.25 108.78h5.90v2.45h-5.90zM176.90 40.45h5.90v2.45h-5.90zM176.90 47.06h5.90v2.45h-5.90zM182.55 47.06h5.90v2.45h-5.90z"/>
<path fill="#e53030" d="M58.25 452.64h5.90v2.45h-5.90zM58.25 461.45h5.90v2.45h-5.90zM63.90 454.84h5.90v2.45h-5.90zM63.90 463.66h5.90v2.45h-5.90zM69.55 351.24h5.90v2.45h-5.90zM69.55 448.23h5.90v2.45h-5.90zM69.55 474.68h5.90v4.66h-5.90zM80.85 457.05h5.90v2.45h-5.90zM114.75 472.47h5.90v2.45h-5.90zM143.00 25.02h5.90v2.45h-5.90zM143.00 481.29h5.90v2.45h-5.90zM148.65 22.82h5.90v2.45h-5.90zM148.65 49.27h5.90v2.45h-5.90zM148.65 55.88h5.90v2.45h-5.90zM154.30 27.23h5.90v2.45h-5.90zM154.30 60.29h5.90v2.45h-5.90zM159.95 27.23h5.90v2.45h-5.90zM159.95 40.45h5.90v2.45h-5.90zM159.95 47.06h5.90v2.45h-5.90zM159.95 97.76h5.90v2.45h-5.90zM159.95 102.17h5.90v2.45h-5.90zM159.95 106.58h5.90v2.45h-5.90zM165.60 38.25h5.90v2.45h-5.90zM165.60 104.37h5.90v2.45h-5.90zM165.60 108.78h5.90v2.45h-5.90zM176.90 25.02h5.90v2.45h-5.90zM176.90 44.86h5.90v2.45h-5.90zM182.55 40.45h5.90v2.45h-5.90z"/>
<path fill="#e21e26" d="M63.90 285.12h5.90v2.45h-5.90zM63.90 461.45h5.90v2.45h-5.90zM69.55 293.93h5.90v2.45h-5.90zM148.65 102.17h5.90v2.45h-5.90zM159.95 69.11h5.90v2.45h-5.90zM159.95 104.37h5.90v2.45h-5.90zM171.25 102.17h5.90v2.45h-5.90zM182.55 42.65h5.90v2.45h-5.90z"/>
<path fill="#e21e26" d="M63.90 335.81h5.90v2.45h-5.90zM63.90 459.25h5.90v2.45h-5.90zM69.55 335.81h5.90v2.45h-5.90zM75.20 476.88h5.90v2.45h-5.90z"/></g>
<text x="3.9" y="15.7" font-size="12.4" fill="#111" font-weight="bold" textLength="9.2" lengthAdjust="spacingAndGlyphs">A</text>
<text x="70.3" y="10.2" font-size="12.8" fill="#A8A8A8" font-weight="bold" textLength="31" lengthAdjust="spacingAndGlyphs">MICE</text>
<text x="145.5" y="10.2" font-size="12.8" fill="#EE7A26" font-weight="bold" textLength="20.2" lengthAdjust="spacingAndGlyphs">SIE</text>
<line x1="53" y1="12.3" x2="118" y2="12.3" stroke="#333" stroke-width="1"/>
<line x1="122" y1="12.3" x2="186.5" y2="12.3" stroke="#333" stroke-width="1"/>
<text x="6.0" y="33.4" font-size="7.5" fill="#333" textLength="26" lengthAdjust="spacingAndGlyphs">DNAJB4</text>
<text x="6.0" y="40.4" font-size="7.5" fill="#333" textLength="25.4" lengthAdjust="spacingAndGlyphs">HSPA4L</text>
<text x="6.0" y="48.3" font-size="7.5" fill="#333" textLength="26.3" lengthAdjust="spacingAndGlyphs">HSPA1A</text>
<text x="6.0" y="55.5" font-size="7.5" fill="#333" textLength="26" lengthAdjust="spacingAndGlyphs">HSPA1B</text>
<text x="6.0" y="76.2" font-size="7.5" fill="#333" textLength="23.1" lengthAdjust="spacingAndGlyphs">HSPA7</text>
<text x="6.0" y="83.9" font-size="7.5" fill="#333" font-weight="bold" textLength="19.7" lengthAdjust="spacingAndGlyphs">DDIT3</text>
<text x="6.0" y="91.4" font-size="7.5" fill="#333" font-weight="bold" textLength="20.4" lengthAdjust="spacingAndGlyphs">HSPD1</text>
<text x="6.0" y="99.2" font-size="7.5" fill="#333" textLength="33.9" lengthAdjust="spacingAndGlyphs">HSP90AA1</text>
<text x="6.0" y="107.0" font-size="7.5" fill="#333" textLength="15.6" lengthAdjust="spacingAndGlyphs">BAG3</text>
<text x="6.0" y="114.6" font-size="7.5" fill="#333" textLength="25.1" lengthAdjust="spacingAndGlyphs">DNAJB1</text>
<text x="6.0" y="122.3" font-size="7.5" fill="#333" textLength="21" lengthAdjust="spacingAndGlyphs">HSPA4</text>
<text x="6.0" y="256.9" font-size="7.5" fill="#333" textLength="26.1" lengthAdjust="spacingAndGlyphs">DNAJA4</text>
<polyline points="36.2,30.3 44,30.3 44,38.2 52.5,38.2" fill="none" stroke="#444" stroke-width="0.8"/>
<polyline points="36.2,38.2 42,38.2 42,40.3 52.5,40.3" fill="none" stroke="#444" stroke-width="0.8"/>
<polyline points="36.2,46.4 42,46.4 42,43.3 52.5,43.3" fill="none" stroke="#444" stroke-width="0.8"/>
<polyline points="36.2,53.5 44,53.5 44,42.0 52.5,42.0" fill="none" stroke="#444" stroke-width="0.8"/>
<polyline points="35.3,73.6 43.4,73.6 43.4,83 52.5,83" fill="none" stroke="#444" stroke-width="0.8"/>
<polyline points="35.3,81.3 43.4,81.3 43.4,81.3 52.5,81.3" fill="none" stroke="#444" stroke-width="0.8"/>
<polyline points="35.3,88.8 42.5,88.8 42.5,87.3 52.5,87.3" fill="none" stroke="#444" stroke-width="0.8"/>
<polyline points="40.7,96.6 44,96.6 44,90.1 52.5,90.1" fill="none" stroke="#444" stroke-width="0.8"/>
<polyline points="35.3,104.4 43.4,104.4 43.4,104.4 52.5,104.4" fill="none" stroke="#444" stroke-width="0.8"/>
<polyline points="35.3,112 43.4,112 43.4,108.4 52.5,108.4" fill="none" stroke="#444" stroke-width="0.8"/>
<polyline points="35.3,119.7 43.4,119.7 43.4,117.7 52.5,117.7" fill="none" stroke="#444" stroke-width="0.8"/>
<polyline points="36.3,254.5 44,254.5 44,254.5 52.5,254.5" fill="none" stroke="#444" stroke-width="0.8"/>
<text x="0" y="412.6" font-size="8" fill="#1a1a1a" font-weight="bold" textLength="44.2" lengthAdjust="spacingAndGlyphs">Normalized</text>
<text x="0" y="422.4" font-size="8" fill="#1a1a1a" font-weight="bold" textLength="44.2" lengthAdjust="spacingAndGlyphs">Expression</text>
<defs><linearGradient id="cb" x1="0" y1="0" x2="0" y2="1"><stop offset="0" stop-color="#E4262B"/><stop offset="0.1" stop-color="#E62A2C"/><stop offset="0.25" stop-color="#EE6F5E"/><stop offset="0.48" stop-color="#FBEDEA"/><stop offset="0.52" stop-color="#F1EEF6"/><stop offset="0.72" stop-color="#7C6CB4"/><stop offset="0.8" stop-color="#4B4FA8"/><stop offset="1" stop-color="#3A4FA6"/></linearGradient></defs>
<rect x="13" y="427.8" width="10.5" height="48.7" fill="url(#cb)"/>
<line x1="13" y1="430.9" x2="15" y2="430.9" stroke="#fff" stroke-width="0.7"/>
<line x1="21.5" y1="430.9" x2="23.5" y2="430.9" stroke="#fff" stroke-width="0.7"/>
<text x="25.2" y="433.7" font-size="7.8" fill="#222">4</text>
<line x1="13" y1="441.3" x2="15" y2="441.3" stroke="#fff" stroke-width="0.7"/>
<line x1="21.5" y1="441.3" x2="23.5" y2="441.3" stroke="#fff" stroke-width="0.7"/>
<text x="25.2" y="444.1" font-size="7.8" fill="#222">2</text>
<line x1="13" y1="452.6" x2="15" y2="452.6" stroke="#fff" stroke-width="0.7"/>
<line x1="21.5" y1="452.6" x2="23.5" y2="452.6" stroke="#fff" stroke-width="0.7"/>
<text x="25.2" y="455.4" font-size="7.8" fill="#222">0</text>
<line x1="13" y1="463.4" x2="15" y2="463.4" stroke="#fff" stroke-width="0.7"/>
<line x1="21.5" y1="463.4" x2="23.5" y2="463.4" stroke="#fff" stroke-width="0.7"/>
<text x="25.2" y="466.2" font-size="7.8" fill="#222">−2</text>
<line x1="13" y1="475" x2="15" y2="475" stroke="#fff" stroke-width="0.7"/>
<line x1="21.5" y1="475" x2="23.5" y2="475" stroke="#fff" stroke-width="0.7"/>
<text x="25.2" y="477.8" font-size="7.8" fill="#222">−4</text>
<text x="213.6" y="290.4" font-size="12.8" fill="#111" font-weight="bold" textLength="8.9" lengthAdjust="spacingAndGlyphs">C</text>
<line x1="288.8" y1="265.6" x2="288.8" y2="368.2" stroke="#111" stroke-width="1.1"/>
<line x1="288.3" y1="367.7" x2="390.5" y2="367.7" stroke="#111" stroke-width="1.1"/>
<line x1="284.5" y1="266.2" x2="288.8" y2="266.2" stroke="#111" stroke-width="1"/>
<text x="253.8" y="268.5" font-size="6.6" fill="#1a1a1a" font-weight="bold" textLength="23" lengthAdjust="spacingAndGlyphs">2.5×10</text>
<text x="277.3" y="265.6" font-size="4.6" fill="#444" font-weight="bold" textLength="5" lengthAdjust="spacingAndGlyphs">-2</text>
<line x1="284.5" y1="286.6" x2="288.8" y2="286.6" stroke="#111" stroke-width="1"/>
<text x="253.8" y="288.9" font-size="6.6" fill="#1a1a1a" font-weight="bold" textLength="23" lengthAdjust="spacingAndGlyphs">2.0×10</text>
<text x="277.3" y="286.0" font-size="4.6" fill="#444" font-weight="bold" textLength="5" lengthAdjust="spacingAndGlyphs">-2</text>
<line x1="284.5" y1="307" x2="288.8" y2="307" stroke="#111" stroke-width="1"/>
<text x="253.8" y="309.3" font-size="6.6" fill="#1a1a1a" font-weight="bold" textLength="23" lengthAdjust="spacingAndGlyphs">1.5×10</text>
<text x="277.3" y="306.4" font-size="4.6" fill="#444" font-weight="bold" textLength="5" lengthAdjust="spacingAndGlyphs">-2</text>
<line x1="284.5" y1="327.3" x2="288.8" y2="327.3" stroke="#111" stroke-width="1"/>
<text x="253.8" y="329.6" font-size="6.6" fill="#1a1a1a" font-weight="bold" textLength="23" lengthAdjust="spacingAndGlyphs">1.0×10</text>
<text x="277.3" y="326.7" font-size="4.6" fill="#444" font-weight="bold" textLength="5" lengthAdjust="spacingAndGlyphs">-2</text>
<line x1="284.5" y1="347.6" x2="288.8" y2="347.6" stroke="#111" stroke-width="1"/>
<text x="253.8" y="349.9" font-size="6.6" fill="#1a1a1a" font-weight="bold" textLength="23" lengthAdjust="spacingAndGlyphs">5.0×10</text>
<text x="277.3" y="347.0" font-size="4.6" fill="#444" font-weight="bold" textLength="5" lengthAdjust="spacingAndGlyphs">-3</text>
<line x1="284.5" y1="367.7" x2="288.8" y2="367.7" stroke="#111" stroke-width="1"/>
<text x="271.5" y="370.0" font-size="6.6" fill="#1a1a1a" font-weight="bold" textLength="11" lengthAdjust="spacingAndGlyphs">0.0</text>
<rect x="297.9" y="339.5" width="17.6" height="28.2" fill="#8A8A8A" stroke="#111" stroke-width="1.2"/>
<rect x="320" y="345.8" width="17.5" height="21.9" fill="#9E9E9E" stroke="#111" stroke-width="1.2"/>
<rect x="346.2" y="334.9" width="17.1" height="32.8" fill="#F28A26" stroke="#111" stroke-width="1.2"/>
<rect x="368.4" y="321" width="17.1" height="46.7" fill="#F28A26" stroke="#111" stroke-width="1.2"/>
<polyline points="354.5,306.7 354.5,279 376.7,279 376.7,285.3" fill="none" stroke="#222" stroke-width="1.2"/>
<text x="365.8" y="282.2" font-size="14.5" fill="#222" text-anchor="middle">*</text>
<text transform="translate(248.2,356.4) rotate(-90)" font-size="8" fill="#222" textLength="78.8" lengthAdjust="spacingAndGlyphs"><tspan font-style="italic">DDIT3</tspan> mRNA (ΔΔCT)</text>
<line x1="305" y1="264.4" x2="377.4" y2="264.4" stroke="#111" stroke-width="1"/>
<text x="343.2" y="261.4" font-size="11.2" fill="#222" text-anchor="middle">#</text>
<line x1="288.8" y1="383.2" x2="288.8" y2="486.2" stroke="#111" stroke-width="1.1"/>
<line x1="288.3" y1="485.7" x2="390.5" y2="485.7" stroke="#111" stroke-width="1.1"/>
<line x1="284.5" y1="383.6" x2="288.8" y2="383.6" stroke="#111" stroke-width="1"/>
<text x="253.8" y="385.9" font-size="6.6" fill="#1a1a1a" font-weight="bold" textLength="23" lengthAdjust="spacingAndGlyphs">2.0×10</text>
<text x="277.3" y="383.0" font-size="4.6" fill="#444" font-weight="bold" textLength="5" lengthAdjust="spacingAndGlyphs">-1</text>
<line x1="284.5" y1="409.2" x2="288.8" y2="409.2" stroke="#111" stroke-width="1"/>
<text x="253.8" y="411.5" font-size="6.6" fill="#1a1a1a" font-weight="bold" textLength="23" lengthAdjust="spacingAndGlyphs">1.5×10</text>
<text x="277.3" y="408.6" font-size="4.6" fill="#444" font-weight="bold" textLength="5" lengthAdjust="spacingAndGlyphs">-1</text>
<line x1="284.5" y1="434.6" x2="288.8" y2="434.6" stroke="#111" stroke-width="1"/>
<text x="253.8" y="436.9" font-size="6.6" fill="#1a1a1a" font-weight="bold" textLength="23" lengthAdjust="spacingAndGlyphs">1.0×10</text>
<text x="277.3" y="434.0" font-size="4.6" fill="#444" font-weight="bold" textLength="5" lengthAdjust="spacingAndGlyphs">-1</text>
<line x1="284.5" y1="460.3" x2="288.8" y2="460.3" stroke="#111" stroke-width="1"/>
<text x="253.8" y="462.6" font-size="6.6" fill="#1a1a1a" font-weight="bold" textLength="23" lengthAdjust="spacingAndGlyphs">5.0×10</text>
<text x="277.3" y="459.7" font-size="4.6" fill="#444" font-weight="bold" textLength="5" lengthAdjust="spacingAndGlyphs">-2</text>
<line x1="284.5" y1="485.7" x2="288.8" y2="485.7" stroke="#111" stroke-width="1"/>
<text x="271.5" y="488.0" font-size="6.6" fill="#1a1a1a" font-weight="bold" textLength="11" lengthAdjust="spacingAndGlyphs">0.0</text>
<rect x="297.8" y="460.6" width="17.8" height="25.1" fill="#8A8A8A" stroke="#111" stroke-width="1.2"/>
<rect x="319.7" y="448" width="17.8" height="37.7" fill="#9E9E9E" stroke="#111" stroke-width="1.2"/>
<rect x="346" y="456.1" width="16.9" height="29.6" fill="#F28A26" stroke="#111" stroke-width="1.2"/>
<rect x="367.8" y="435.7" width="17.2" height="50.0" fill="#F28A26" stroke="#111" stroke-width="1.2"/>
<polyline points="306,425.6 306,409.2 328.7,409.2 328.7,413.3" fill="none" stroke="#222" stroke-width="1.2"/>
<text x="317.2" y="411.9" font-size="14.5" fill="#222" text-anchor="middle">*</text>
<polyline points="354.2,428.3 354.2,392.8 376.6,392.8 376.6,396.3" fill="none" stroke="#222" stroke-width="1.2"/>
<text x="365.9" y="395.5" font-size="14.5" fill="#222" text-anchor="middle">*</text>
<text transform="translate(248.2,475.4) rotate(-90)" font-size="8" fill="#222" textLength="83.6" lengthAdjust="spacingAndGlyphs"><tspan font-style="italic">HSPD1</tspan> mRNA (ΔΔCT)</text>
<text transform="translate(311.2,497.2) rotate(-45)" font-size="10.4" fill="#222" text-anchor="end">REST</text>
<text transform="translate(333.8,495.6) rotate(-45)" font-size="10.4" fill="#222" text-anchor="end">+ 3 h</text>
<text transform="translate(359.2,497.8) rotate(-45)" font-size="10.4" fill="#222" text-anchor="end">REST</text>
<text transform="translate(384.2,496.4) rotate(-45)" font-size="10.4" fill="#222" text-anchor="end">+ 3 h</text>
<line x1="306.7" y1="308.5" x2="328.9" y2="345.5" stroke="#C2C2C2" stroke-width="0.9"/>
<line x1="306.7" y1="318.1" x2="328.9" y2="349.6" stroke="#C2C2C2" stroke-width="0.9"/>
<line x1="306.7" y1="321.8" x2="328.9" y2="347.5" stroke="#C2C2C2" stroke-width="0.9"/>
<line x1="306.7" y1="325.6" x2="328.9" y2="342" stroke="#C2C2C2" stroke-width="0.9"/>
<line x1="306.7" y1="330.2" x2="328.9" y2="350.5" stroke="#C2C2C2" stroke-width="0.9"/>
<line x1="306.7" y1="335.2" x2="328.9" y2="356.4" stroke="#C2C2C2" stroke-width="0.9"/>
<line x1="306.7" y1="340.2" x2="328.9" y2="344.5" stroke="#C2C2C2" stroke-width="0.9"/>
<line x1="306.7" y1="344.5" x2="328.9" y2="336.2" stroke="#C2C2C2" stroke-width="0.9"/>
<line x1="306.7" y1="347.8" x2="328.9" y2="352.1" stroke="#C2C2C2" stroke-width="0.9"/>
<line x1="306.7" y1="350.8" x2="328.9" y2="324.6" stroke="#C2C2C2" stroke-width="0.9"/>
<line x1="306.7" y1="354.6" x2="328.9" y2="347" stroke="#C2C2C2" stroke-width="0.9"/>
<line x1="306.7" y1="358.9" x2="328.9" y2="353.5" stroke="#C2C2C2" stroke-width="0.9"/>
<line x1="306.7" y1="360.9" x2="328.9" y2="339.5" stroke="#C2C2C2" stroke-width="0.9"/>
<circle cx="306.7" cy="308.5" r="1.5" fill="#fff" fill-opacity="0.6" stroke="#111" stroke-width="1.05"/>
<circle cx="306.7" cy="318.1" r="1.5" fill="#fff" fill-opacity="0.6" stroke="#111" stroke-width="1.05"/>
<circle cx="306.7" cy="321.8" r="1.5" fill="#fff" fill-opacity="0.6" stroke="#111" stroke-width="1.05"/>
<circle cx="306.7" cy="325.6" r="1.5" fill="#fff" fill-opacity="0.6" stroke="#111" stroke-width="1.05"/>
<circle cx="306.7" cy="330.2" r="1.5" fill="#fff" fill-opacity="0.6" stroke="#111" stroke-width="1.05"/>
<circle cx="306.7" cy="335.2" r="1.5" fill="#fff" fill-opacity="0.6" stroke="#111" stroke-width="1.05"/>
<circle cx="306.7" cy="340.2" r="1.5" fill="#fff" fill-opacity="0.6" stroke="#111" stroke-width="1.05"/>
<circle cx="306.7" cy="344.5" r="1.5" fill="#fff" fill-opacity="0.6" stroke="#111" stroke-width="1.05"/>
<circle cx="306.7" cy="347.8" r="1.5" fill="#fff" fill-opacity="0.6" stroke="#111" stroke-width="1.05"/>
<circle cx="306.7" cy="350.8" r="1.5" fill="#fff" fill-opacity="0.6" stroke="#111" stroke-width="1.05"/>
<circle cx="306.7" cy="354.6" r="1.5" fill="#fff" fill-opacity="0.6" stroke="#111" stroke-width="1.05"/>
<circle cx="306.7" cy="358.9" r="1.5" fill="#fff" fill-opacity="0.6" stroke="#111" stroke-width="1.05"/>
<circle cx="306.7" cy="360.9" r="1.5" fill="#fff" fill-opacity="0.6" stroke="#111" stroke-width="1.05"/>
<circle cx="328.9" cy="324.6" r="1.5" fill="#fff" fill-opacity="0.6" stroke="#111" stroke-width="1.05"/>
<circle cx="328.9" cy="336.2" r="1.5" fill="#fff" fill-opacity="0.6" stroke="#111" stroke-width="1.05"/>
<circle cx="328.9" cy="339.5" r="1.5" fill="#fff" fill-opacity="0.6" stroke="#111" stroke-width="1.05"/>
<circle cx="328.9" cy="342" r="1.5" fill="#fff" fill-opacity="0.6" stroke="#111" stroke-width="1.05"/>
<circle cx="328.9" cy="344.5" r="1.5" fill="#fff" fill-opacity="0.6" stroke="#111" stroke-width="1.05"/>
<circle cx="328.9" cy="347" r="1.5" fill="#fff" fill-opacity="0.6" stroke="#111" stroke-width="1.05"/>
<circle cx="328.9" cy="349.6" r="1.5" fill="#fff" fill-opacity="0.6" stroke="#111" stroke-width="1.05"/>
<circle cx="328.9" cy="352.1" r="1.5" fill="#fff" fill-opacity="0.6" stroke="#111" stroke-width="1.05"/>
<circle cx="328.9" cy="356.4" r="1.5" fill="#fff" fill-opacity="0.6" stroke="#111" stroke-width="1.05"/>
<circle cx="328.9" cy="345.5" r="1.5" fill="#fff" fill-opacity="0.6" stroke="#111" stroke-width="1.05"/>
<circle cx="328.9" cy="350.5" r="1.5" fill="#fff" fill-opacity="0.6" stroke="#111" stroke-width="1.05"/>
<circle cx="328.9" cy="353.5" r="1.5" fill="#fff" fill-opacity="0.6" stroke="#111" stroke-width="1.05"/>
<circle cx="328.9" cy="347.5" r="1.5" fill="#fff" fill-opacity="0.6" stroke="#111" stroke-width="1.05"/>
<line x1="354.6" y1="313" x2="376.7" y2="305.9" stroke="#C2C2C2" stroke-width="0.9"/>
<line x1="354.6" y1="324.3" x2="376.7" y2="341.2" stroke="#C2C2C2" stroke-width="0.9"/>
<line x1="354.6" y1="331.9" x2="376.7" y2="344.5" stroke="#C2C2C2" stroke-width="0.9"/>
<line x1="354.6" y1="334.4" x2="376.7" y2="289.5" stroke="#C2C2C2" stroke-width="0.9"/>
<line x1="354.6" y1="336.9" x2="376.7" y2="309.2" stroke="#C2C2C2" stroke-width="0.9"/>
<line x1="354.6" y1="339.4" x2="376.7" y2="324.3" stroke="#C2C2C2" stroke-width="0.9"/>
<line x1="354.6" y1="341.9" x2="376.7" y2="338.2" stroke="#C2C2C2" stroke-width="0.9"/>
<line x1="354.6" y1="350.3" x2="376.7" y2="353.8" stroke="#C2C2C2" stroke-width="0.9"/>
<line x1="354.6" y1="338" x2="376.7" y2="313" stroke="#C2C2C2" stroke-width="0.9"/>
<line x1="354.6" y1="345" x2="376.7" y2="301.6" stroke="#C2C2C2" stroke-width="0.9"/>
<line x1="354.6" y1="333" x2="376.7" y2="335.6" stroke="#C2C2C2" stroke-width="0.9"/>
<path d="M354.6 311.30L356.00 314.20L353.20 314.20Z" fill="#E07A20" stroke="#1a1a1a" stroke-width="1.0" stroke-linejoin="round"/>
<path d="M354.6 322.60L356.00 325.50L353.20 325.50Z" fill="#E07A20" stroke="#1a1a1a" stroke-width="1.0" stroke-linejoin="round"/>
<path d="M354.6 330.20L356.00 333.10L353.20 333.10Z" fill="#E07A20" stroke="#1a1a1a" stroke-width="1.0" stroke-linejoin="round"/>
<path d="M354.6 332.70L356.00 335.60L353.20 335.60Z" fill="#E07A20" stroke="#1a1a1a" stroke-width="1.0" stroke-linejoin="round"/>
<path d="M354.6 335.20L356.00 338.10L353.20 338.10Z" fill="#E07A20" stroke="#1a1a1a" stroke-width="1.0" stroke-linejoin="round"/>
<path d="M354.6 337.70L356.00 340.60L353.20 340.60Z" fill="#E07A20" stroke="#1a1a1a" stroke-width="1.0" stroke-linejoin="round"/>
<path d="M354.6 340.20L356.00 343.10L353.20 343.10Z" fill="#E07A20" stroke="#1a1a1a" stroke-width="1.0" stroke-linejoin="round"/>
<path d="M354.6 348.60L356.00 351.50L353.20 351.50Z" fill="#E07A20" stroke="#1a1a1a" stroke-width="1.0" stroke-linejoin="round"/>
<path d="M354.6 336.30L356.00 339.20L353.20 339.20Z" fill="#E07A20" stroke="#1a1a1a" stroke-width="1.0" stroke-linejoin="round"/>
<path d="M354.6 343.30L356.00 346.20L353.20 346.20Z" fill="#E07A20" stroke="#1a1a1a" stroke-width="1.0" stroke-linejoin="round"/>
<path d="M354.6 331.30L356.00 334.20L353.20 334.20Z" fill="#E07A20" stroke="#1a1a1a" stroke-width="1.0" stroke-linejoin="round"/>
<path d="M376.7 287.80L378.10 290.70L375.30 290.70Z" fill="#E07A20" stroke="#1a1a1a" stroke-width="1.0" stroke-linejoin="round"/>
<path d="M376.7 299.90L378.10 302.80L375.30 302.80Z" fill="#E07A20" stroke="#1a1a1a" stroke-width="1.0" stroke-linejoin="round"/>
<path d="M376.7 304.20L378.10 307.10L375.30 307.10Z" fill="#E07A20" stroke="#1a1a1a" stroke-width="1.0" stroke-linejoin="round"/>
<path d="M376.7 307.50L378.10 310.40L375.30 310.40Z" fill="#E07A20" stroke="#1a1a1a" stroke-width="1.0" stroke-linejoin="round"/>
<path d="M376.7 311.30L378.10 314.20L375.30 314.20Z" fill="#E07A20" stroke="#1a1a1a" stroke-width="1.0" stroke-linejoin="round"/>
<path d="M376.7 322.60L378.10 325.50L375.30 325.50Z" fill="#E07A20" stroke="#1a1a1a" stroke-width="1.0" stroke-linejoin="round"/>
<path d="M376.7 333.90L378.10 336.80L375.30 336.80Z" fill="#E07A20" stroke="#1a1a1a" stroke-width="1.0" stroke-linejoin="round"/>
<path d="M376.7 336.50L378.10 339.40L375.30 339.40Z" fill="#E07A20" stroke="#1a1a1a" stroke-width="1.0" stroke-linejoin="round"/>
<path d="M376.7 339.50L378.10 342.40L375.30 342.40Z" fill="#E07A20" stroke="#1a1a1a" stroke-width="1.0" stroke-linejoin="round"/>
<path d="M376.7 342.80L378.10 345.70L375.30 345.70Z" fill="#E07A20" stroke="#1a1a1a" stroke-width="1.0" stroke-linejoin="round"/>
<path d="M376.7 352.10L378.10 355.00L375.30 355.00Z" fill="#E07A20" stroke="#1a1a1a" stroke-width="1.0" stroke-linejoin="round"/>
<line x1="306.6" y1="445.5" x2="328.7" y2="414.6" stroke="#C2C2C2" stroke-width="0.9"/>
<line x1="306.6" y1="448.8" x2="328.7" y2="418.2" stroke="#C2C2C2" stroke-width="0.9"/>
<line x1="306.6" y1="451.5" x2="328.7" y2="431.9" stroke="#C2C2C2" stroke-width="0.9"/>
<line x1="306.6" y1="454.8" x2="328.7" y2="435.1" stroke="#C2C2C2" stroke-width="0.9"/>
<line x1="306.6" y1="457.6" x2="328.7" y2="446.6" stroke="#C2C2C2" stroke-width="0.9"/>
<line x1="306.6" y1="461.9" x2="328.7" y2="448.8" stroke="#C2C2C2" stroke-width="0.9"/>
<line x1="306.6" y1="464.7" x2="328.7" y2="451.5" stroke="#C2C2C2" stroke-width="0.9"/>
<line x1="306.6" y1="466.8" x2="328.7" y2="457" stroke="#C2C2C2" stroke-width="0.9"/>
<line x1="306.6" y1="469.3" x2="328.7" y2="459.7" stroke="#C2C2C2" stroke-width="0.9"/>
<line x1="306.6" y1="472" x2="328.7" y2="462.5" stroke="#C2C2C2" stroke-width="0.9"/>
<line x1="306.6" y1="476.1" x2="328.7" y2="465.2" stroke="#C2C2C2" stroke-width="0.9"/>
<circle cx="306.6" cy="445.5" r="1.5" fill="#fff" fill-opacity="0.6" stroke="#111" stroke-width="1.05"/>
<circle cx="306.6" cy="448.8" r="1.5" fill="#fff" fill-opacity="0.6" stroke="#111" stroke-width="1.05"/>
<circle cx="306.6" cy="451.5" r="1.5" fill="#fff" fill-opacity="0.6" stroke="#111" stroke-width="1.05"/>
<circle cx="306.6" cy="454.8" r="1.5" fill="#fff" fill-opacity="0.6" stroke="#111" stroke-width="1.05"/>
<circle cx="306.6" cy="457.6" r="1.5" fill="#fff" fill-opacity="0.6" stroke="#111" stroke-width="1.05"/>
<circle cx="306.6" cy="461.9" r="1.5" fill="#fff" fill-opacity="0.6" stroke="#111" stroke-width="1.05"/>
<circle cx="306.6" cy="464.7" r="1.5" fill="#fff" fill-opacity="0.6" stroke="#111" stroke-width="1.05"/>
<circle cx="306.6" cy="466.8" r="1.5" fill="#fff" fill-opacity="0.6" stroke="#111" stroke-width="1.05"/>
<circle cx="306.6" cy="469.3" r="1.5" fill="#fff" fill-opacity="0.6" stroke="#111" stroke-width="1.05"/>
<circle cx="306.6" cy="472" r="1.5" fill="#fff" fill-opacity="0.6" stroke="#111" stroke-width="1.05"/>
<circle cx="306.6" cy="476.1" r="1.5" fill="#fff" fill-opacity="0.6" stroke="#111" stroke-width="1.05"/>
<circle cx="328.7" cy="414.6" r="1.5" fill="#fff" fill-opacity="0.6" stroke="#111" stroke-width="1.05"/>
<circle cx="328.7" cy="418.2" r="1.5" fill="#fff" fill-opacity="0.6" stroke="#111" stroke-width="1.05"/>
<circle cx="328.7" cy="431.9" r="1.5" fill="#fff" fill-opacity="0.6" stroke="#111" stroke-width="1.05"/>
<circle cx="328.7" cy="435.1" r="1.5" fill="#fff" fill-opacity="0.6" stroke="#111" stroke-width="1.05"/>
<circle cx="328.7" cy="446.6" r="1.5" fill="#fff" fill-opacity="0.6" stroke="#111" stroke-width="1.05"/>
<circle cx="328.7" cy="448.8" r="1.5" fill="#fff" fill-opacity="0.6" stroke="#111" stroke-width="1.05"/>
<circle cx="328.7" cy="451.5" r="1.5" fill="#fff" fill-opacity="0.6" stroke="#111" stroke-width="1.05"/>
<circle cx="328.7" cy="457" r="1.5" fill="#fff" fill-opacity="0.6" stroke="#111" stroke-width="1.05"/>
<circle cx="328.7" cy="459.7" r="1.5" fill="#fff" fill-opacity="0.6" stroke="#111" stroke-width="1.05"/>
<circle cx="328.7" cy="462.5" r="1.5" fill="#fff" fill-opacity="0.6" stroke="#111" stroke-width="1.05"/>
<circle cx="328.7" cy="465.2" r="1.5" fill="#fff" fill-opacity="0.6" stroke="#111" stroke-width="1.05"/>
<line x1="354.2" y1="434.6" x2="376.6" y2="399.6" stroke="#C2C2C2" stroke-width="0.9"/>
<line x1="354.2" y1="445.5" x2="376.6" y2="410" stroke="#C2C2C2" stroke-width="0.9"/>
<line x1="354.2" y1="448.2" x2="376.6" y2="416.5" stroke="#C2C2C2" stroke-width="0.9"/>
<line x1="354.2" y1="451" x2="376.6" y2="429.6" stroke="#C2C2C2" stroke-width="0.9"/>
<line x1="354.2" y1="454.2" x2="376.6" y2="433.7" stroke="#C2C2C2" stroke-width="0.9"/>
<line x1="354.2" y1="457" x2="376.6" y2="437.8" stroke="#C2C2C2" stroke-width="0.9"/>
<line x1="354.2" y1="459.7" x2="376.6" y2="445.5" stroke="#C2C2C2" stroke-width="0.9"/>
<line x1="354.2" y1="461.3" x2="376.6" y2="448.8" stroke="#C2C2C2" stroke-width="0.9"/>
<line x1="354.2" y1="463" x2="376.6" y2="451.5" stroke="#C2C2C2" stroke-width="0.9"/>
<line x1="354.2" y1="466.5" x2="376.6" y2="454.8" stroke="#C2C2C2" stroke-width="0.9"/>
<line x1="354.2" y1="470.6" x2="376.6" y2="469.3" stroke="#C2C2C2" stroke-width="0.9"/>
<path d="M354.2 432.90L355.60 435.80L352.80 435.80Z" fill="#E07A20" stroke="#1a1a1a" stroke-width="1.0" stroke-linejoin="round"/>
<path d="M354.2 443.80L355.60 446.70L352.80 446.70Z" fill="#E07A20" stroke="#1a1a1a" stroke-width="1.0" stroke-linejoin="round"/>
<path d="M354.2 446.50L355.60 449.40L352.80 449.40Z" fill="#E07A20" stroke="#1a1a1a" stroke-width="1.0" stroke-linejoin="round"/>
<path d="M354.2 449.30L355.60 452.20L352.80 452.20Z" fill="#E07A20" stroke="#1a1a1a" stroke-width="1.0" stroke-linejoin="round"/>
<path d="M354.2 452.50L355.60 455.40L352.80 455.40Z" fill="#E07A20" stroke="#1a1a1a" stroke-width="1.0" stroke-linejoin="round"/>
<path d="M354.2 455.30L355.60 458.20L352.80 458.20Z" fill="#E07A20" stroke="#1a1a1a" stroke-width="1.0" stroke-linejoin="round"/>
<path d="M354.2 458.00L355.60 460.90L352.80 460.90Z" fill="#E07A20" stroke="#1a1a1a" stroke-width="1.0" stroke-linejoin="round"/>
<path d="M354.2 459.60L355.60 462.50L352.80 462.50Z" fill="#E07A20" stroke="#1a1a1a" stroke-width="1.0" stroke-linejoin="round"/>
<path d="M354.2 461.30L355.60 464.20L352.80 464.20Z" fill="#E07A20" stroke="#1a1a1a" stroke-width="1.0" stroke-linejoin="round"/>
<path d="M354.2 464.80L355.60 467.70L352.80 467.70Z" fill="#E07A20" stroke="#1a1a1a" stroke-width="1.0" stroke-linejoin="round"/>
<path d="M354.2 468.90L355.60 471.80L352.80 471.80Z" fill="#E07A20" stroke="#1a1a1a" stroke-width="1.0" stroke-linejoin="round"/>
<path d="M376.6 397.90L378.00 400.80L375.20 400.80Z" fill="#E07A20" stroke="#1a1a1a" stroke-width="1.0" stroke-linejoin="round"/>
<path d="M376.6 408.30L378.00 411.20L375.20 411.20Z" fill="#E07A20" stroke="#1a1a1a" stroke-width="1.0" stroke-linejoin="round"/>
<path d="M376.6 414.80L378.00 417.70L375.20 417.70Z" fill="#E07A20" stroke="#1a1a1a" stroke-width="1.0" stroke-linejoin="round"/>
<path d="M376.6 427.90L378.00 430.80L375.20 430.80Z" fill="#E07A20" stroke="#1a1a1a" stroke-width="1.0" stroke-linejoin="round"/>
<path d="M376.6 432.00L378.00 434.90L375.20 434.90Z" fill="#E07A20" stroke="#1a1a1a" stroke-width="1.0" stroke-linejoin="round"/>
<path d="M376.6 436.10L378.00 439.00L375.20 439.00Z" fill="#E07A20" stroke="#1a1a1a" stroke-width="1.0" stroke-linejoin="round"/>
<path d="M376.6 443.80L378.00 446.70L375.20 446.70Z" fill="#E07A20" stroke="#1a1a1a" stroke-width="1.0" stroke-linejoin="round"/>
<path d="M376.6 447.10L378.00 450.00L375.20 450.00Z" fill="#E07A20" stroke="#1a1a1a" stroke-width="1.0" stroke-linejoin="round"/>
<path d="M376.6 449.80L378.00 452.70L375.20 452.70Z" fill="#E07A20" stroke="#1a1a1a" stroke-width="1.0" stroke-linejoin="round"/>
<path d="M376.6 453.10L378.00 456.00L375.20 456.00Z" fill="#E07A20" stroke="#1a1a1a" stroke-width="1.0" stroke-linejoin="round"/>
<path d="M376.6 467.60L378.00 470.50L375.20 470.50Z" fill="#E07A20" stroke="#1a1a1a" stroke-width="1.0" stroke-linejoin="round"/>
<path d="M55.43 486V489.6H61.08V486M66.72 486V489.6H72.38V486M78.03 486V489.6H83.68V486M89.33 486V489.6H94.97V486M100.62 486V489.6H106.28V486M111.93 486V489.6H117.58V486M58.3 489.6V491.2M69.6 489.6V491.2M80.9 489.6V491.2M92.2 489.6V491.2M103.5 489.6V491.2M114.8 489.6V491.2M58.3 491.2H114.8M62 491.2V492.2H91V491.2M75.5 492.2V495.2H111.3" fill="none" stroke="#A0A0A0" stroke-width="1"/>
<path d="M123.22 486V489.6H128.88V486M134.53 486V489.6H140.18V486M145.83 486V489.6H151.47V486M157.12 486V489.6H162.78V486M168.43 486V489.6H174.08V486M179.73 486V489.6H185.38V486M126.1 489.6V491.3M137.4 489.6V491.3M148.7 489.6V491.3M160 489.6V491.3M171.3 489.6V491.3M182.6 489.6V491.3M126.1 491.3H143.5M151.1 491.3H182.6M134 491.3V493H162V491.3M147.3 493V495.2H111.3" fill="none" stroke="#F5A462" stroke-width="1"/>
<text x="430.8" y="300.5" font-size="12.4" fill="#111" font-weight="bold" textLength="9.2" lengthAdjust="spacingAndGlyphs">D</text>
<line x1="460.8" y1="315.3" x2="460.8" y2="426.3" stroke="#999" stroke-width="1"/>
<line x1="458.8" y1="315.6" x2="460.8" y2="315.6" stroke="#999" stroke-width="0.8"/>
<text x="446.1" y="317.9" font-size="6.6" fill="#333" textLength="11.2" lengthAdjust="spacingAndGlyphs">0.6</text>
<line x1="458.8" y1="356.5" x2="460.8" y2="356.5" stroke="#999" stroke-width="0.8"/>
<text x="446.1" y="358.8" font-size="6.6" fill="#333" textLength="11.2" lengthAdjust="spacingAndGlyphs">0.4</text>
<line x1="458.8" y1="396.6" x2="460.8" y2="396.6" stroke="#999" stroke-width="0.8"/>
<text x="446.1" y="398.9" font-size="6.6" fill="#333" textLength="11.2" lengthAdjust="spacingAndGlyphs">0.2</text>
<line x1="458.8" y1="426.3" x2="460.8" y2="426.3" stroke="#999" stroke-width="0.8"/>
<text x="446.1" y="428.6" font-size="6.6" fill="#333" textLength="11.2" lengthAdjust="spacingAndGlyphs">0.0</text>
<text transform="translate(442.2,400.4) rotate(-90)" font-size="8.4" fill="#333" textLength="73.4" lengthAdjust="spacingAndGlyphs">Enrichment score</text>
<line x1="470.1" y1="454.2" x2="675.2" y2="454.2" stroke="#999" stroke-width="1"/>
<line x1="468.8" y1="454.2" x2="468.8" y2="455.6" stroke="#666" stroke-width="0.8"/>
<text x="468.8" y="464.4" font-size="7.3" fill="#333" text-anchor="middle" textLength="3.4" lengthAdjust="spacingAndGlyphs">0</text>
<line x1="543.7" y1="454.2" x2="543.7" y2="455.6" stroke="#666" stroke-width="0.8"/>
<text x="543.7" y="464.4" font-size="7.3" fill="#333" text-anchor="middle" textLength="17.7" lengthAdjust="spacingAndGlyphs">5000</text>
<line x1="617" y1="454.2" x2="617" y2="455.6" stroke="#666" stroke-width="0.8"/>
<text x="617" y="464.4" font-size="7.3" fill="#333" text-anchor="middle" textLength="22.4" lengthAdjust="spacingAndGlyphs">10000</text>
<text x="536.4" y="472.9" font-size="9.2" fill="#222" textLength="46.6" lengthAdjust="spacingAndGlyphs">Gene Rank</text>
<line x1="467.3" y1="426.6" x2="469.2" y2="426.6" stroke="#222" stroke-width="0.8"/>
<line x1="470" y1="426.6" x2="675.2" y2="426.6" stroke="#222" stroke-width="0.9"/>
<polyline points="470.2,439 470.4,400 470.5,359.8 471,335.3 471.9,334.4 472.3,320.4 474,319.5 474.4,312.5 476.1,311.6 477,305.9 489.8,318.1 491.5,308.7 504.7,322.2 512.6,323 520.4,329.2 533.6,342.3 538.8,345.8 560,368.5 581.3,390.9 602.7,413.3 622.9,433.6 628.3,434.7 639.4,445.3 642.1,444.3 643.2,432.5 656,446.4 658.1,436.8 661.3,438.9 663.5,433.6 665.6,435.7" fill="none" stroke="#F08526" stroke-width="4.2" stroke-linejoin="round" stroke-linecap="round"/>
<line x1="470.9" y1="412" x2="470.9" y2="441" stroke="#222" stroke-width="0.7"/>
<line x1="471.7" y1="412" x2="471.7" y2="441" stroke="#222" stroke-width="0.7"/>
<line x1="475.6" y1="412" x2="475.6" y2="441" stroke="#888" stroke-width="0.7"/>
<line x1="477.3" y1="412" x2="477.3" y2="441" stroke="#888" stroke-width="0.7"/>
<line x1="489.4" y1="412" x2="489.4" y2="441" stroke="#222" stroke-width="0.7"/>
<line x1="491.6" y1="412" x2="491.6" y2="441" stroke="#222" stroke-width="0.7"/>
<line x1="505.4" y1="412" x2="505.4" y2="441" stroke="#555" stroke-width="0.7"/>
<line x1="507" y1="412" x2="507" y2="441" stroke="#555" stroke-width="0.7"/>
<line x1="508.7" y1="412" x2="508.7" y2="441" stroke="#555" stroke-width="0.7"/>
<line x1="510.1" y1="412" x2="510.1" y2="441" stroke="#555" stroke-width="0.7"/>
<line x1="511.4" y1="412" x2="511.4" y2="441" stroke="#555" stroke-width="0.7"/>
<line x1="513.3" y1="412" x2="513.3" y2="441" stroke="#777" stroke-width="0.7"/>
<line x1="519.7" y1="412" x2="519.7" y2="441" stroke="#444" stroke-width="0.7"/>
<line x1="532.6" y1="412" x2="532.6" y2="441" stroke="#bbb" stroke-width="0.7"/>
<line x1="533.9" y1="412" x2="533.9" y2="441" stroke="#bbb" stroke-width="0.7"/>
<line x1="537.6" y1="412" x2="537.6" y2="441" stroke="#777" stroke-width="0.7"/>
<line x1="549.9" y1="412" x2="549.9" y2="441" stroke="#999" stroke-width="0.7"/>
<line x1="559.6" y1="412" x2="559.6" y2="441" stroke="#555" stroke-width="0.7"/>
<line x1="567.5" y1="412" x2="567.5" y2="441" stroke="#444" stroke-width="0.7"/>
<line x1="579.6" y1="412" x2="579.6" y2="441" stroke="#aaa" stroke-width="0.7"/>
<line x1="583.9" y1="412" x2="583.9" y2="441" stroke="#aaa" stroke-width="0.7"/>
<line x1="624" y1="412" x2="624" y2="441" stroke="#bbb" stroke-width="0.7"/>
<line x1="627.8" y1="412" x2="627.8" y2="441" stroke="#333" stroke-width="0.7"/>
<line x1="639.4" y1="412" x2="639.4" y2="441" stroke="#333" stroke-width="0.7"/>
<line x1="641" y1="412" x2="641" y2="441" stroke="#777" stroke-width="0.7"/>
<line x1="642.8" y1="412" x2="642.8" y2="441" stroke="#222" stroke-width="0.7"/>
<line x1="656.4" y1="412" x2="656.4" y2="441" stroke="#aaa" stroke-width="0.7"/>
<line x1="658.1" y1="412" x2="658.1" y2="441" stroke="#444" stroke-width="0.7"/>
<line x1="662.8" y1="412" x2="662.8" y2="441" stroke="#444" stroke-width="0.7"/>
<text x="573.2" y="337.7" font-size="10.4" fill="#333" textLength="87.7" lengthAdjust="spacingAndGlyphs">Mitostress geneset</text>
<text x="586.4" y="355.7" font-size="10.2" fill="#111" font-weight="bold" textLength="53.1" lengthAdjust="spacingAndGlyphs">NES = 1.50</text>
<text x="586.4" y="368.5" font-size="10.2" fill="#111" font-weight="bold" textLength="58.7" lengthAdjust="spacingAndGlyphs">FDR = 0.008</text>
</svg></body></html>
